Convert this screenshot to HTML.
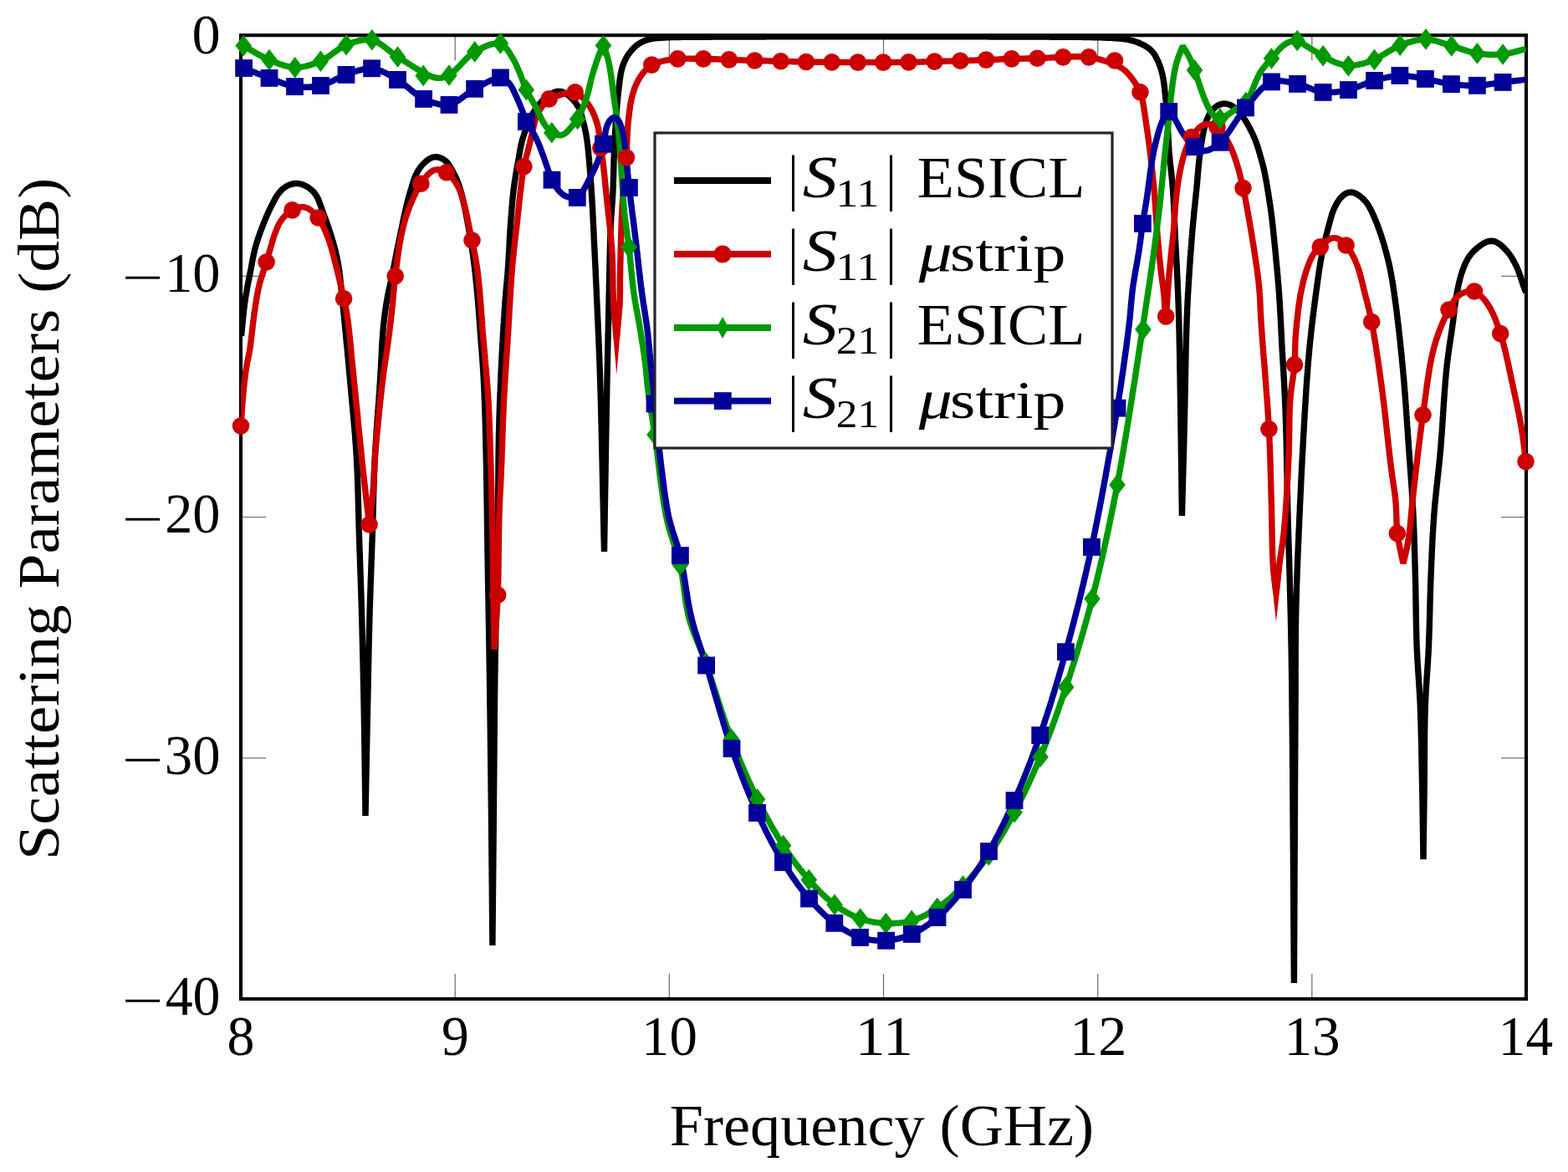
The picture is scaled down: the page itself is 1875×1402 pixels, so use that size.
<!DOCTYPE html><html><head><meta charset="utf-8"><title>Scattering Parameters</title><style>html,body{margin:0;padding:0;background:#fff;overflow:hidden;}svg{display:block;}text{font-family:"Liberation Serif","DejaVu Serif",serif;fill:#000;}</style></head><body>
<svg width="1875" height="1402" viewBox="0 0 1875 1402">
<rect width="1875" height="1402" fill="#fff"/>
<path d="M288.0,1195.0 V1165.0 M288.0,42.2 V72.2 M544.2,1195.0 V1165.0 M544.2,42.2 V72.2 M800.3,1195.0 V1165.0 M800.3,42.2 V72.2 M1056.5,1195.0 V1165.0 M1056.5,42.2 V72.2 M1312.7,1195.0 V1165.0 M1312.7,42.2 V72.2 M1568.8,1195.0 V1165.0 M1568.8,42.2 V72.2 M1825.0,1195.0 V1165.0 M1825.0,42.2 V72.2 M288.0,42.2 H318.0 M1825.0,42.2 H1795.0 M288.0,330.4 H318.0 M1825.0,330.4 H1795.0 M288.0,618.6 H318.0 M1825.0,618.6 H1795.0 M288.0,906.8 H318.0 M1825.0,906.8 H1795.0 M288.0,1195.0 H318.0 M1825.0,1195.0 H1795.0" stroke="#000" stroke-width="1.3" stroke-opacity="0.55" fill="none"/>
<rect x="288.0" y="42.2" width="1537.0" height="1152.8" fill="none" stroke="#000" stroke-width="4.1"/>
<defs><clipPath id="pc"><rect x="288.0" y="42.2" width="1537.0" height="1152.8"/></clipPath></defs>
<g clip-path="url(#pc)" fill="none" stroke-width="7.4" stroke-linejoin="miter" stroke-miterlimit="2">
<path d="M288.6,402.0 L288.8,400.0 288.9,398.0 289.1,396.0 289.3,394.0 289.5,392.0 289.7,390.1 289.9,388.1 290.1,386.1 290.3,384.1 290.5,382.1 290.7,380.1 290.9,378.1 291.1,376.1 291.3,374.1 291.5,372.1 291.7,370.2 292.0,368.2 292.2,366.2 292.4,364.2 292.7,362.2 293.0,360.2 293.3,358.3 293.5,356.3 293.9,354.3 294.2,352.3 294.5,350.4 294.9,348.4 295.2,346.4 295.6,344.5 295.9,342.5 296.3,340.5 296.7,338.6 297.1,336.6 297.5,334.6 297.9,332.7 298.3,330.7 298.7,328.8 299.0,326.8 299.4,324.8 299.8,322.9 300.2,320.9 300.5,318.9 300.9,317.0 301.3,315.0 301.6,313.0 302.0,311.1 302.4,309.1 302.8,307.2 303.2,305.2 303.6,303.2 304.1,301.3 304.5,299.4 305.0,297.4 305.5,295.5 306.1,293.6 306.6,291.6 307.2,289.7 307.8,287.8 308.4,285.9 309.0,284.0 309.7,282.1 310.4,280.2 311.0,278.3 311.7,276.5 312.4,274.6 313.1,272.7 313.8,270.9 314.6,269.0 315.3,267.1 316.0,265.3 316.8,263.4 317.6,261.6 318.3,259.7 319.1,257.9 319.9,256.1 320.8,254.2 321.6,252.4 322.4,250.6 323.3,248.8 324.2,247.0 325.1,245.2 326.0,243.5 326.9,241.7 327.9,239.9 328.8,238.2 329.8,236.4 330.8,234.7 331.9,233.0 333.1,231.4 334.3,229.9 335.7,228.4 337.1,227.0 338.6,225.6 340.2,224.4 341.8,223.3 343.6,222.3 345.4,221.4 347.2,220.7 349.1,220.1 351.1,219.7 353.1,219.5 355.1,219.4 357.1,219.6 359.0,220.0 361.0,220.5 362.8,221.2 364.7,222.0 366.4,222.9 368.2,223.9 369.8,225.1 371.4,226.3 372.9,227.6 374.3,229.0 375.7,230.5 376.9,232.1 378.0,233.7 379.0,235.4 380.0,237.2 380.8,239.0 381.5,240.9 382.2,242.8 382.9,244.6 383.6,246.5 384.2,248.4 384.9,250.3 385.6,252.2 386.3,254.1 386.9,255.9 387.6,257.8 388.3,259.7 389.0,261.6 389.7,263.5 390.4,265.3 391.0,267.2 391.7,269.1 392.3,271.0 393.0,272.9 393.6,274.8 394.3,276.7 394.9,278.6 395.5,280.5 396.1,282.4 396.7,284.3 397.3,286.2 397.8,288.1 398.4,290.1 398.9,292.0 399.5,293.9 400.0,295.8 400.5,297.8 401.0,299.7 401.5,301.7 401.9,303.6 402.4,305.5 402.8,307.5 403.2,309.5 403.6,311.4 404.0,313.4 404.3,315.3 404.7,317.3 405.0,319.3 405.3,321.3 405.6,323.2 405.9,325.2 406.1,327.2 406.4,329.2 406.6,331.2 406.8,333.2 407.0,335.2 407.2,337.1 407.4,339.1 407.6,341.1 407.8,343.1 408.0,345.1 408.2,347.1 408.4,349.1 408.6,351.1 408.8,353.1 409.0,355.1 409.2,357.0 409.4,359.0 409.6,361.0 409.8,363.0 410.0,365.0 410.2,367.0 410.4,369.0 410.6,371.0 410.8,373.0 411.0,375.0 411.2,376.9 411.4,378.9 411.6,380.9 411.8,382.9 412.0,384.9 412.2,386.9 412.4,388.9 412.6,390.9 412.8,392.9 413.0,394.9 413.2,396.8 413.4,398.8 413.6,400.8 413.8,402.8 413.9,404.8 414.1,406.8 414.3,408.8 414.5,410.8 414.7,412.8 414.9,414.8 415.1,416.7 415.3,418.7 415.5,420.7 415.6,422.7 415.8,424.7 416.0,426.7 416.2,428.7 416.4,430.7 416.6,432.7 416.7,434.7 416.9,436.7 417.1,438.6 417.3,440.6 417.5,442.6 417.7,444.6 417.8,446.6 418.0,448.6 418.2,450.6 418.4,452.6 418.6,454.6 418.7,456.6 418.9,458.6 419.1,460.6 419.3,462.5 419.5,464.5 419.6,466.5 419.8,468.5 420.0,470.5 420.2,472.5 420.4,474.5 420.6,476.5 420.8,478.5 420.9,480.5 421.1,482.5 421.3,484.4 421.5,486.4 421.7,488.4 421.9,490.4 422.0,492.4 422.2,494.4 422.4,496.4 422.6,498.4 422.8,500.4 422.9,502.4 423.1,504.4 423.3,506.4 423.5,508.3 423.6,510.3 423.8,512.3 424.0,514.3 424.1,516.3 424.3,518.3 424.5,520.3 424.6,522.3 424.8,524.3 424.9,526.3 425.1,528.3 425.2,530.3 425.4,532.3 425.5,534.3 425.6,536.3 425.8,538.3 425.9,540.2 426.0,542.2 426.2,544.2 426.3,546.2 426.4,548.2 426.5,550.2 426.6,552.2 426.7,554.2 426.8,556.2 426.9,558.2 427.0,560.2 427.1,562.2 427.2,564.2 427.3,566.2 427.4,568.2 427.5,570.2 427.5,572.2 427.6,574.2 427.7,576.2 427.7,578.2 427.8,580.2 427.9,582.2 427.9,584.2 428.0,586.2 428.1,588.2 428.1,590.2 428.2,592.2 428.2,594.2 428.3,596.2 428.3,598.2 428.4,600.2 428.4,602.2 428.5,604.2 428.5,606.2 428.6,608.2 428.6,610.2 428.7,612.2 428.7,614.2 428.8,616.2 428.8,618.2 428.9,620.2 428.9,622.2 429.0,624.2 429.0,626.2 429.1,628.2 429.1,630.2 429.2,632.2 429.3,634.2 429.3,636.2 429.4,638.2 429.4,640.2 429.5,642.2 429.6,644.2 429.6,646.2 429.7,648.2 429.8,650.2 429.8,652.1 429.9,654.1 430.0,656.1 430.0,658.1 430.1,660.1 430.2,662.1 430.3,664.1 430.3,666.1 430.4,668.1 430.5,670.1 430.5,672.1 430.6,674.1 430.7,676.1 430.7,678.1 430.8,680.1 430.9,682.1 430.9,684.1 431.0,686.1 431.1,688.1 431.2,690.1 431.2,692.1 431.3,694.1 431.4,696.1 431.4,698.1 431.5,700.1 431.6,702.1 431.6,704.1 431.7,706.1 431.8,708.1 431.8,710.1 431.9,712.1 431.9,714.1 432.0,716.1 432.1,718.1 432.1,720.1 432.2,722.1 432.3,724.1 432.3,726.1 432.4,728.1 432.4,730.1 432.5,732.1 432.5,734.1 432.6,736.1 432.7,738.1 432.7,740.1 432.8,742.1 432.8,744.1 432.9,746.1 432.9,748.1 433.0,750.1 433.0,752.1 433.1,754.1 433.1,756.1 433.2,758.1 433.2,760.1 433.3,762.1 433.3,764.1 433.4,766.1 433.4,768.1 433.5,770.1 433.5,772.1 433.6,774.1 433.6,776.1 433.7,778.1 433.7,780.1 433.8,782.1 433.8,784.1 433.9,786.1 433.9,788.1 434.0,790.1 434.0,792.1 434.1,794.1 434.1,796.1 434.1,798.1 434.2,800.1 434.2,802.1 434.3,804.1 434.3,806.1 434.4,808.1 434.4,810.1 434.4,812.1 434.5,814.1 434.5,816.0 434.6,818.0 434.6,820.0 434.7,822.0 434.7,824.0 434.7,826.0 434.8,828.0 434.8,830.0 434.9,832.0 434.9,834.0 434.9,836.0 435.0,838.0 435.0,840.0 435.0,842.0 435.1,844.0 435.1,846.0 435.2,848.0 435.2,850.0 435.2,852.0 435.3,854.0 435.3,856.0 435.3,858.0 435.4,860.0 435.4,862.0 435.4,864.0 435.5,866.0 435.5,868.0 435.5,870.0 435.6,872.0 435.6,874.0 435.6,876.0 435.7,878.0 435.7,880.0 435.7,882.0 435.8,884.0 435.8,886.0 435.8,888.0 435.8,890.0 435.9,892.0 435.9,894.0 435.9,896.0 436.0,898.0 436.0,900.0 436.0,902.0 436.0,904.0 436.1,906.0 436.1,908.0 436.1,910.0 436.2,912.0 436.2,914.0 436.2,916.0 436.2,918.0 436.3,920.0 436.3,922.0 436.3,924.0 436.3,926.0 436.4,928.0 436.4,930.0 436.4,932.0 436.4,934.0 436.5,936.0 436.5,938.0 436.5,940.0 436.5,942.0 436.6,944.0 436.6,946.0 436.6,948.0 436.6,950.0 436.7,952.0 436.7,954.0 436.7,956.0 436.8,958.0 436.8,960.0 436.8,962.0 436.8,964.0 436.9,966.0 436.9,968.0 436.9,970.0 436.9,972.0 437.0,974.0 437.0,976.0 L437.0,974.0 437.1,972.0 437.1,970.0 437.2,968.0 437.2,966.0 437.2,964.0 437.3,962.0 437.3,960.0 437.4,958.0 437.4,956.0 437.4,954.0 437.5,952.0 437.5,950.0 437.6,948.0 437.6,946.0 437.6,944.0 437.7,942.0 437.7,940.0 437.7,938.0 437.8,936.0 437.8,934.0 437.9,932.0 437.9,930.0 437.9,928.0 438.0,926.0 438.0,924.0 438.1,922.0 438.1,920.0 438.1,918.0 438.2,916.0 438.2,914.0 438.3,912.0 438.3,910.0 438.3,908.0 438.4,906.0 438.4,904.0 438.4,902.0 438.5,900.0 438.5,898.0 438.6,896.0 438.6,894.0 438.6,892.0 438.7,890.1 438.7,888.1 438.8,886.1 438.8,884.1 438.8,882.1 438.9,880.1 438.9,878.1 439.0,876.1 439.0,874.1 439.0,872.1 439.1,870.1 439.1,868.1 439.2,866.1 439.2,864.1 439.3,862.1 439.3,860.1 439.3,858.1 439.4,856.1 439.4,854.1 439.5,852.1 439.5,850.1 439.5,848.1 439.6,846.1 439.6,844.1 439.7,842.1 439.7,840.1 439.7,838.1 439.8,836.1 439.8,834.1 439.9,832.1 439.9,830.1 439.9,828.1 440.0,826.1 440.0,824.1 440.1,822.1 440.1,820.1 440.1,818.1 440.2,816.1 440.2,814.1 440.3,812.1 440.3,810.1 440.3,808.1 440.4,806.1 440.4,804.1 440.5,802.1 440.5,800.1 440.5,798.1 440.6,796.1 440.6,794.1 440.7,792.1 440.7,790.1 440.8,788.1 440.8,786.1 440.8,784.1 440.9,782.1 440.9,780.1 441.0,778.1 441.0,776.1 441.1,774.1 441.1,772.1 441.1,770.1 441.2,768.1 441.2,766.1 441.3,764.1 441.3,762.1 441.4,760.1 441.4,758.1 441.5,756.1 441.5,754.1 441.6,752.1 441.6,750.1 441.7,748.1 441.7,746.1 441.8,744.1 441.8,742.1 441.9,740.1 441.9,738.1 442.0,736.1 442.1,734.1 442.1,732.1 442.2,730.2 442.2,728.2 442.3,726.2 442.4,724.2 442.4,722.2 442.5,720.2 442.5,718.2 442.6,716.2 442.7,714.2 442.7,712.2 442.8,710.2 442.9,708.2 442.9,706.2 443.0,704.2 443.1,702.2 443.1,700.2 443.2,698.2 443.3,696.2 443.3,694.2 443.4,692.2 443.5,690.2 443.6,688.2 443.6,686.2 443.7,684.2 443.8,682.2 443.8,680.2 443.9,678.2 444.0,676.2 444.1,674.2 444.1,672.2 444.2,670.2 444.3,668.2 444.4,666.2 444.4,664.2 444.5,662.2 444.6,660.2 444.6,658.2 444.7,656.2 444.8,654.2 444.8,652.2 444.9,650.2 445.0,648.2 445.1,646.2 445.1,644.2 445.2,642.2 445.3,640.2 445.3,638.2 445.4,636.2 445.4,634.2 445.5,632.2 445.6,630.2 445.6,628.2 445.7,626.3 445.7,624.3 445.8,622.3 445.9,620.3 445.9,618.3 446.0,616.3 446.0,614.3 446.1,612.3 446.1,610.3 446.2,608.3 446.2,606.3 446.3,604.3 446.4,602.3 446.4,600.3 446.5,598.3 446.5,596.3 446.6,594.3 446.6,592.3 446.7,590.3 446.8,588.3 446.8,586.3 446.9,584.3 446.9,582.3 447.0,580.3 447.1,578.3 447.1,576.3 447.2,574.3 447.3,572.3 447.4,570.3 447.4,568.3 447.5,566.3 447.6,564.3 447.7,562.3 447.7,560.3 447.8,558.3 447.9,556.3 448.0,554.3 448.1,552.3 448.2,550.3 448.3,548.3 448.4,546.3 448.5,544.3 448.6,542.3 448.7,540.3 448.8,538.3 448.9,536.3 449.1,534.4 449.2,532.4 449.3,530.4 449.4,528.4 449.6,526.4 449.7,524.4 449.8,522.4 449.9,520.4 450.1,518.4 450.2,516.4 450.3,514.4 450.5,512.4 450.6,510.4 450.8,508.4 450.9,506.4 451.0,504.4 451.2,502.4 451.3,500.4 451.5,498.4 451.6,496.5 451.8,494.5 451.9,492.5 452.0,490.5 452.2,488.5 452.3,486.5 452.5,484.5 452.6,482.5 452.8,480.5 452.9,478.5 453.1,476.5 453.2,474.5 453.3,472.5 453.5,470.5 453.6,468.5 453.8,466.5 453.9,464.5 454.0,462.6 454.2,460.6 454.3,458.6 454.4,456.6 454.6,454.6 454.7,452.6 454.8,450.6 454.9,448.6 455.0,446.6 455.1,444.6 455.3,442.6 455.4,440.6 455.5,438.6 455.6,436.6 455.7,434.6 455.8,432.6 455.9,430.6 456.0,428.6 456.1,426.6 456.2,424.6 456.3,422.6 456.4,420.6 456.5,418.6 456.6,416.6 456.7,414.6 456.8,412.7 456.9,410.7 457.1,408.7 457.2,406.7 457.3,404.7 457.5,402.7 457.6,400.7 457.8,398.7 457.9,396.7 458.1,394.7 458.3,392.7 458.4,390.7 458.6,388.7 458.8,386.7 459.1,384.8 459.3,382.8 459.5,380.8 459.8,378.8 460.0,376.8 460.3,374.8 460.5,372.9 460.8,370.9 461.1,368.9 461.4,366.9 461.7,364.9 462.0,363.0 462.4,361.0 462.7,359.0 463.1,357.1 463.4,355.1 463.8,353.1 464.2,351.2 464.6,349.2 465.0,347.3 465.4,345.3 465.9,343.4 466.3,341.4 466.7,339.4 467.2,337.5 467.6,335.5 468.0,333.6 468.4,331.6 468.8,329.7 469.2,327.7 469.6,325.8 470.0,323.8 470.4,321.8 470.8,319.9 471.2,317.9 471.6,315.9 471.9,314.0 472.3,312.0 472.7,310.1 473.1,308.1 473.5,306.1 473.9,304.2 474.2,302.2 474.6,300.3 475.0,298.3 475.4,296.3 475.8,294.4 476.2,292.4 476.6,290.5 477.0,288.5 477.4,286.5 477.8,284.6 478.2,282.6 478.6,280.7 479.0,278.7 479.4,276.7 479.9,274.8 480.3,272.8 480.7,270.9 481.1,268.9 481.5,267.0 481.9,265.0 482.3,263.1 482.7,261.1 483.1,259.1 483.6,257.2 484.0,255.2 484.4,253.3 484.9,251.3 485.3,249.4 485.8,247.4 486.2,245.5 486.7,243.5 487.2,241.6 487.7,239.7 488.2,237.7 488.7,235.8 489.3,233.9 489.8,232.0 490.4,230.1 491.0,228.1 491.5,226.2 492.1,224.3 492.7,222.4 493.2,220.5 493.9,218.6 494.5,216.7 495.1,214.8 495.8,212.9 496.5,211.0 497.3,209.2 498.2,207.4 499.1,205.6 500.1,203.9 501.2,202.2 502.3,200.6 503.5,199.0 504.8,197.4 506.2,196.0 507.6,194.6 509.1,193.2 510.6,191.9 512.2,190.8 513.9,189.7 515.7,188.9 517.6,188.2 519.6,187.9 521.6,187.8 523.6,188.0 525.5,188.5 527.4,189.2 529.2,190.1 530.9,191.1 532.5,192.3 534.0,193.7 535.3,195.1 536.5,196.7 537.6,198.4 538.7,200.1 539.7,201.8 540.6,203.6 541.6,205.4 542.5,207.1 543.4,208.9 544.3,210.7 545.1,212.5 546.0,214.3 546.7,216.2 547.5,218.0 548.2,219.9 548.9,221.8 549.5,223.7 550.1,225.6 550.7,227.5 551.2,229.4 551.8,231.3 552.3,233.3 552.8,235.2 553.2,237.2 553.7,239.1 554.1,241.1 554.5,243.0 555.0,245.0 555.4,246.9 555.8,248.9 556.2,250.8 556.6,252.8 557.0,254.8 557.3,256.7 557.7,258.7 558.1,260.6 558.5,262.6 558.9,264.6 559.2,266.5 559.6,268.5 560.0,270.5 560.3,272.4 560.7,274.4 561.0,276.4 561.4,278.3 561.7,280.3 562.0,282.3 562.4,284.3 562.7,286.2 563.0,288.2 563.3,290.2 563.6,292.1 564.0,294.1 564.3,296.1 564.5,298.1 564.8,300.1 565.1,302.0 565.4,304.0 565.7,306.0 565.9,308.0 566.2,310.0 566.5,311.9 566.7,313.9 567.0,315.9 567.2,317.9 567.5,319.9 567.7,321.9 567.9,323.8 568.2,325.8 568.4,327.8 568.6,329.8 568.8,331.8 569.0,333.8 569.2,335.8 569.4,337.8 569.6,339.7 569.8,341.7 570.0,343.7 570.2,345.7 570.4,347.7 570.6,349.7 570.8,351.7 570.9,353.7 571.1,355.7 571.3,357.7 571.5,359.7 571.6,361.6 571.8,363.6 572.0,365.6 572.1,367.6 572.3,369.6 572.4,371.6 572.6,373.6 572.7,375.6 572.9,377.6 573.0,379.6 573.2,381.6 573.3,383.6 573.5,385.6 573.6,387.6 573.7,389.6 573.9,391.6 574.0,393.5 574.2,395.5 574.3,397.5 574.5,399.5 574.6,401.5 574.8,403.5 574.9,405.5 575.1,407.5 575.2,409.5 575.4,411.5 575.5,413.5 575.7,415.5 575.9,417.5 576.0,419.5 576.2,421.5 576.3,423.4 576.5,425.4 576.6,427.4 576.8,429.4 576.9,431.4 577.1,433.4 577.2,435.4 577.3,437.4 577.5,439.4 577.6,441.4 577.7,443.4 577.8,445.4 577.9,447.4 578.1,449.4 578.2,451.4 578.3,453.4 578.4,455.4 578.5,457.4 578.6,459.4 578.7,461.4 578.8,463.4 578.9,465.3 579.0,467.3 579.1,469.3 579.2,471.3 579.2,473.3 579.3,475.3 579.4,477.3 579.5,479.3 579.5,481.3 579.6,483.3 579.7,485.3 579.8,487.3 579.8,489.3 579.9,491.3 579.9,493.3 580.0,495.3 580.1,497.3 580.1,499.3 580.2,501.3 580.2,503.3 580.3,505.3 580.3,507.3 580.4,509.3 580.4,511.3 580.5,513.3 580.5,515.3 580.6,517.3 580.6,519.3 580.7,521.3 580.7,523.3 580.8,525.3 580.8,527.3 580.9,529.3 580.9,531.3 580.9,533.3 581.0,535.3 581.0,537.3 581.1,539.3 581.1,541.3 581.2,543.3 581.2,545.3 581.2,547.3 581.3,549.3 581.3,551.3 581.4,553.3 581.4,555.3 581.4,557.3 581.5,559.3 581.5,561.3 581.6,563.3 581.6,565.3 581.6,567.3 581.7,569.3 581.7,571.3 581.7,573.3 581.8,575.3 581.8,577.3 581.8,579.3 581.9,581.3 581.9,583.3 581.9,585.3 582.0,587.3 582.0,589.3 582.0,591.3 582.1,593.3 582.1,595.3 582.1,597.3 582.1,599.3 582.2,601.3 582.2,603.3 582.2,605.3 582.3,607.2 582.3,609.2 582.3,611.2 582.3,613.2 582.4,615.2 582.4,617.2 582.4,619.2 582.4,621.2 582.5,623.2 582.5,625.2 582.5,627.2 582.6,629.2 582.6,631.2 582.6,633.2 582.6,635.2 582.7,637.2 582.7,639.2 582.7,641.2 582.8,643.2 582.8,645.2 582.8,647.2 582.9,649.2 582.9,651.2 582.9,653.2 582.9,655.2 583.0,657.2 583.0,659.2 583.0,661.2 583.1,663.2 583.1,665.2 583.1,667.2 583.2,669.2 583.2,671.2 583.2,673.2 583.3,675.2 583.3,677.2 583.3,679.2 583.4,681.2 583.4,683.2 583.4,685.2 583.5,687.2 583.5,689.2 583.5,691.2 583.6,693.2 583.6,695.2 583.6,697.2 583.7,699.2 583.7,701.2 583.7,703.2 583.8,705.2 583.8,707.2 583.8,709.2 583.9,711.2 583.9,713.2 583.9,715.2 584.0,717.2 584.0,719.2 584.0,721.2 584.1,723.2 584.1,725.2 584.1,727.2 584.2,729.2 584.2,731.2 584.2,733.2 584.3,735.2 584.3,737.2 584.3,739.2 584.4,741.2 584.4,743.2 584.4,745.2 584.5,747.2 584.5,749.2 584.5,751.2 584.6,753.2 584.6,755.2 584.6,757.2 584.7,759.2 584.7,761.2 584.7,763.2 584.8,765.2 584.8,767.2 584.8,769.2 584.9,771.2 584.9,773.2 584.9,775.2 585.0,777.2 585.0,779.2 585.0,781.2 585.1,783.2 585.1,785.2 585.1,787.2 585.1,789.2 585.2,791.2 585.2,793.2 585.2,795.2 585.3,797.2 585.3,799.1 585.3,801.1 585.3,803.1 585.4,805.1 585.4,807.1 585.4,809.1 585.5,811.1 585.5,813.1 585.5,815.1 585.5,817.1 585.6,819.1 585.6,821.1 585.6,823.1 585.7,825.1 585.7,827.1 585.7,829.1 585.7,831.1 585.8,833.1 585.8,835.1 585.8,837.1 585.8,839.1 585.9,841.1 585.9,843.1 585.9,845.1 585.9,847.1 586.0,849.1 586.0,851.1 586.0,853.1 586.1,855.1 586.1,857.1 586.1,859.1 586.1,861.1 586.2,863.1 586.2,865.1 586.2,867.1 586.2,869.1 586.3,871.1 586.3,873.1 586.3,875.1 586.3,877.1 586.4,879.1 586.4,881.1 586.4,883.1 586.4,885.1 586.5,887.1 586.5,889.1 586.5,891.1 586.5,893.1 586.6,895.1 586.6,897.1 586.6,899.1 586.6,901.1 586.6,903.1 586.7,905.1 586.7,907.1 586.7,909.1 586.7,911.1 586.8,913.1 586.8,915.1 586.8,917.1 586.8,919.1 586.9,921.1 586.9,923.1 586.9,925.1 586.9,927.1 587.0,929.1 587.0,931.1 587.0,933.1 587.0,935.1 587.0,937.1 587.1,939.1 587.1,941.1 587.1,943.1 587.1,945.1 587.2,947.1 587.2,949.1 587.2,951.1 587.2,953.1 587.2,955.1 587.3,957.1 587.3,959.1 587.3,961.1 587.3,963.1 587.4,965.1 587.4,967.1 587.4,969.1 587.4,971.1 587.4,973.1 587.5,975.1 587.5,977.1 587.5,979.1 587.5,981.1 587.5,983.1 587.6,985.1 587.6,987.1 587.6,989.1 587.6,991.1 587.6,993.1 587.7,995.1 587.7,997.1 587.7,999.1 587.7,1001.1 587.7,1003.1 587.8,1005.1 587.8,1007.1 587.8,1009.1 587.8,1011.1 587.8,1013.1 587.9,1015.1 587.9,1017.0 587.9,1019.0 587.9,1021.0 587.9,1023.0 587.9,1025.0 588.0,1027.0 588.0,1029.0 588.0,1031.0 588.0,1033.0 588.0,1035.0 588.1,1037.0 588.1,1039.0 588.1,1041.0 588.1,1043.0 588.1,1045.0 588.1,1047.0 588.2,1049.0 588.2,1051.0 588.2,1053.0 588.2,1055.0 588.2,1057.0 588.3,1059.0 588.3,1061.0 588.3,1063.0 588.3,1065.0 588.3,1067.0 588.3,1069.0 588.4,1071.0 588.4,1073.0 588.4,1075.0 588.4,1077.0 588.4,1079.0 588.4,1081.0 588.5,1083.0 588.5,1085.0 588.5,1087.0 588.5,1089.0 588.5,1091.0 588.6,1093.0 588.6,1095.0 588.6,1097.0 588.6,1099.0 588.6,1101.0 588.6,1103.0 588.7,1105.0 588.7,1107.0 588.7,1109.0 588.7,1111.0 588.7,1113.0 588.8,1115.0 588.8,1117.0 588.8,1119.0 588.8,1121.0 588.8,1123.0 588.8,1125.0 588.9,1127.0 588.9,1129.0 588.9,1131.0 L588.9,1129.0 588.9,1127.0 589.0,1125.0 589.0,1123.0 589.0,1121.0 589.0,1119.0 589.0,1117.0 589.0,1115.0 589.1,1113.0 589.1,1111.0 589.1,1109.0 589.1,1107.0 589.1,1105.0 589.2,1103.0 589.2,1101.0 589.2,1099.0 589.2,1097.0 589.2,1095.0 589.3,1093.0 589.3,1091.0 589.3,1089.0 589.3,1087.0 589.3,1085.0 589.3,1083.0 589.4,1081.0 589.4,1079.0 589.4,1077.0 589.4,1075.0 589.4,1073.1 589.5,1071.1 589.5,1069.1 589.5,1067.1 589.5,1065.1 589.5,1063.1 589.6,1061.1 589.6,1059.1 589.6,1057.1 589.6,1055.1 589.6,1053.1 589.6,1051.1 589.7,1049.1 589.7,1047.1 589.7,1045.1 589.7,1043.1 589.7,1041.1 589.8,1039.1 589.8,1037.1 589.8,1035.1 589.8,1033.1 589.8,1031.1 589.9,1029.1 589.9,1027.1 589.9,1025.1 589.9,1023.1 589.9,1021.1 589.9,1019.1 590.0,1017.1 590.0,1015.1 590.0,1013.1 590.0,1011.1 590.0,1009.1 590.1,1007.1 590.1,1005.1 590.1,1003.1 590.1,1001.1 590.1,999.1 590.2,997.1 590.2,995.1 590.2,993.1 590.2,991.1 590.2,989.1 590.2,987.1 590.3,985.1 590.3,983.1 590.3,981.1 590.3,979.1 590.3,977.1 590.4,975.1 590.4,973.1 590.4,971.1 590.4,969.1 590.4,967.1 590.5,965.1 590.5,963.1 590.5,961.1 590.5,959.2 590.5,957.2 590.5,955.2 590.6,953.2 590.6,951.2 590.6,949.2 590.6,947.2 590.6,945.2 590.6,943.2 590.7,941.2 590.7,939.2 590.7,937.2 590.7,935.2 590.7,933.2 590.7,931.2 590.8,929.2 590.8,927.2 590.8,925.2 590.8,923.2 590.8,921.2 590.8,919.2 590.9,917.2 590.9,915.2 590.9,913.2 590.9,911.2 590.9,909.2 590.9,907.2 590.9,905.2 591.0,903.2 591.0,901.2 591.0,899.2 591.0,897.2 591.0,895.2 591.0,893.2 591.1,891.2 591.1,889.2 591.1,887.2 591.1,885.2 591.1,883.2 591.1,881.2 591.2,879.2 591.2,877.2 591.2,875.2 591.2,873.2 591.2,871.2 591.2,869.2 591.3,867.2 591.3,865.2 591.3,863.2 591.3,861.2 591.3,859.2 591.3,857.2 591.4,855.2 591.4,853.2 591.4,851.2 591.4,849.2 591.4,847.2 591.5,845.3 591.5,843.3 591.5,841.3 591.5,839.3 591.5,837.3 591.6,835.3 591.6,833.3 591.6,831.3 591.6,829.3 591.6,827.3 591.7,825.3 591.7,823.3 591.7,821.3 591.7,819.3 591.8,817.3 591.8,815.3 591.8,813.3 591.8,811.3 591.9,809.3 591.9,807.3 591.9,805.3 592.0,803.3 592.0,801.3 592.0,799.3 592.0,797.3 592.1,795.3 592.1,793.3 592.1,791.3 592.2,789.3 592.2,787.3 592.2,785.3 592.3,783.3 592.3,781.3 592.3,779.3 592.4,777.3 592.4,775.3 592.5,773.3 592.5,771.3 592.5,769.3 592.6,767.3 592.6,765.3 592.7,763.3 592.7,761.3 592.7,759.3 592.8,757.3 592.8,755.3 592.9,753.3 592.9,751.3 592.9,749.3 593.0,747.3 593.0,745.3 593.1,743.4 593.1,741.4 593.2,739.4 593.2,737.4 593.2,735.4 593.3,733.4 593.3,731.4 593.4,729.4 593.4,727.4 593.5,725.4 593.5,723.4 593.6,721.4 593.6,719.4 593.7,717.4 593.7,715.4 593.7,713.4 593.8,711.4 593.8,709.4 593.9,707.4 593.9,705.4 594.0,703.4 594.0,701.4 594.1,699.4 594.1,697.4 594.1,695.4 594.2,693.4 594.2,691.4 594.3,689.4 594.3,687.4 594.4,685.4 594.4,683.4 594.4,681.4 594.5,679.4 594.5,677.4 594.6,675.4 594.6,673.4 594.6,671.4 594.7,669.4 594.7,667.4 594.8,665.4 594.8,663.4 594.8,661.4 594.9,659.4 594.9,657.4 594.9,655.4 595.0,653.4 595.0,651.4 595.0,649.4 595.1,647.5 595.1,645.5 595.1,643.5 595.2,641.5 595.2,639.5 595.2,637.5 595.2,635.5 595.3,633.5 595.3,631.5 595.3,629.5 595.3,627.5 595.4,625.5 595.4,623.5 595.4,621.5 595.4,619.5 595.5,617.5 595.5,615.5 595.5,613.5 595.5,611.5 595.5,609.5 595.5,607.5 595.6,605.5 595.6,603.5 595.6,601.5 595.6,599.5 595.6,597.5 595.6,595.5 595.7,593.5 595.7,591.5 595.7,589.5 595.7,587.5 595.7,585.5 595.7,583.5 595.8,581.5 595.8,579.5 595.8,577.5 595.8,575.5 595.8,573.5 595.8,571.5 595.9,569.5 595.9,567.5 595.9,565.5 595.9,563.5 595.9,561.5 595.9,559.5 596.0,557.5 596.0,555.5 596.0,553.5 596.0,551.5 596.0,549.5 596.1,547.5 596.1,545.5 596.1,543.5 596.1,541.5 596.2,539.5 596.2,537.5 596.2,535.6 596.3,533.6 596.3,531.6 596.3,529.6 596.4,527.6 596.4,525.6 596.4,523.6 596.5,521.6 596.5,519.6 596.6,517.6 596.6,515.6 596.7,513.6 596.7,511.6 596.8,509.6 596.8,507.6 596.9,505.6 596.9,503.6 597.0,501.6 597.0,499.6 597.1,497.6 597.2,495.6 597.2,493.6 597.3,491.6 597.4,489.6 597.4,487.6 597.5,485.6 597.6,483.6 597.6,481.6 597.7,479.6 597.8,477.6 597.9,475.6 597.9,473.6 598.0,471.6 598.1,469.6 598.2,467.6 598.3,465.6 598.4,463.6 598.4,461.6 598.5,459.7 598.6,457.7 598.7,455.7 598.8,453.7 598.9,451.7 598.9,449.7 599.0,447.7 599.1,445.7 599.2,443.7 599.3,441.7 599.4,439.7 599.5,437.7 599.6,435.7 599.7,433.7 599.8,431.7 599.9,429.7 600.0,427.7 600.1,425.7 600.2,423.7 600.3,421.7 600.4,419.7 600.5,417.7 600.6,415.7 600.7,413.7 600.8,411.7 600.9,409.8 601.1,407.8 601.2,405.8 601.3,403.8 601.4,401.8 601.5,399.8 601.6,397.8 601.8,395.8 601.9,393.8 602.0,391.8 602.1,389.8 602.2,387.8 602.4,385.8 602.5,383.8 602.6,381.8 602.7,379.8 602.9,377.8 603.0,375.8 603.1,373.9 603.3,371.9 603.4,369.9 603.6,367.9 603.7,365.9 603.8,363.9 604.0,361.9 604.1,359.9 604.3,357.9 604.4,355.9 604.6,353.9 604.8,351.9 604.9,349.9 605.1,347.9 605.3,346.0 605.4,344.0 605.6,342.0 605.8,340.0 606.0,338.0 606.2,336.0 606.3,334.0 606.5,332.0 606.7,330.0 606.9,328.0 607.0,326.0 607.2,324.1 607.3,322.1 607.5,320.1 607.6,318.1 607.8,316.1 607.9,314.1 608.0,312.1 608.1,310.1 608.2,308.1 608.3,306.1 608.5,304.1 608.6,302.1 608.7,300.1 608.8,298.1 608.9,296.1 609.0,294.1 609.1,292.1 609.2,290.1 609.3,288.2 609.4,286.2 609.5,284.2 609.6,282.2 609.7,280.2 609.9,278.2 610.0,276.2 610.1,274.2 610.2,272.2 610.4,270.2 610.5,268.2 610.7,266.2 610.8,264.2 611.0,262.2 611.1,260.2 611.3,258.2 611.4,256.2 611.6,254.3 611.7,252.3 611.9,250.3 612.0,248.3 612.2,246.3 612.4,244.3 612.5,242.3 612.7,240.3 612.9,238.3 613.1,236.3 613.3,234.4 613.5,232.4 613.7,230.4 614.0,228.4 614.2,226.4 614.5,224.4 614.7,222.4 615.0,220.5 615.3,218.5 615.6,216.5 615.9,214.5 616.2,212.6 616.5,210.6 616.8,208.6 617.1,206.6 617.5,204.7 617.8,202.7 618.2,200.7 618.5,198.8 618.9,196.8 619.2,194.8 619.6,192.9 619.9,190.9 620.3,188.9 620.6,187.0 621.0,185.0 621.3,183.0 621.6,181.1 622.0,179.1 622.3,177.1 622.7,175.2 623.1,173.2 623.6,171.3 624.0,169.3 624.6,167.4 625.1,165.5 625.7,163.6 626.4,161.7 627.0,159.8 627.6,157.9 628.3,156.0 629.0,154.1 629.7,152.3 630.4,150.4 631.2,148.5 631.9,146.7 632.7,144.8 633.5,143.0 634.3,141.2 635.2,139.4 636.1,137.6 637.0,135.9 638.0,134.1 639.1,132.4 640.1,130.7 641.3,129.1 642.5,127.5 643.7,125.9 645.0,124.4 646.3,122.9 647.7,121.4 649.1,120.0 650.6,118.6 652.0,117.3 653.6,116.0 655.1,114.8 656.8,113.6 658.4,112.5 660.2,111.5 662.0,110.7 663.9,110.0 665.8,109.5 667.8,109.3 669.8,109.4 671.7,109.7 673.6,110.4 675.4,111.2 677.1,112.2 678.8,113.4 680.3,114.6 681.8,116.0 683.3,117.4 684.7,118.8 686.0,120.3 687.3,121.8 688.5,123.4 689.7,125.0 690.8,126.7 691.8,128.4 692.7,130.2 693.4,132.0 694.1,133.9 694.7,135.8 695.3,137.7 695.8,139.7 696.3,141.6 696.9,143.5 697.4,145.5 697.9,147.4 698.4,149.3 698.8,151.3 699.3,153.2 699.7,155.2 700.1,157.1 700.5,159.1 700.9,161.0 701.2,163.0 701.5,165.0 701.8,167.0 702.1,168.9 702.4,170.9 702.6,172.9 702.9,174.9 703.1,176.9 703.3,178.9 703.5,180.9 703.7,182.8 703.8,184.8 704.0,186.8 704.2,188.8 704.4,190.8 704.5,192.8 704.7,194.8 704.9,196.8 705.0,198.8 705.2,200.8 705.3,202.8 705.5,204.7 705.7,206.7 705.8,208.7 706.0,210.7 706.1,212.7 706.3,214.7 706.4,216.7 706.6,218.7 706.7,220.7 706.9,222.7 707.0,224.7 707.1,226.7 707.3,228.7 707.4,230.7 707.5,232.7 707.7,234.6 707.8,236.6 707.9,238.6 708.0,240.6 708.1,242.6 708.3,244.6 708.4,246.6 708.5,248.6 708.6,250.6 708.7,252.6 708.8,254.6 708.9,256.6 709.0,258.6 709.1,260.6 709.2,262.6 709.3,264.6 709.4,266.6 709.5,268.6 709.6,270.6 709.7,272.6 709.8,274.6 709.9,276.6 710.0,278.5 710.1,280.5 710.1,282.5 710.2,284.5 710.3,286.5 710.4,288.5 710.5,290.5 710.6,292.5 710.7,294.5 710.8,296.5 710.9,298.5 711.0,300.5 711.1,302.5 711.2,304.5 711.3,306.5 711.4,308.5 711.5,310.5 711.6,312.5 711.7,314.5 711.8,316.5 711.9,318.5 712.0,320.5 712.1,322.5 712.2,324.5 712.3,326.5 712.3,328.4 712.4,330.4 712.5,332.4 712.6,334.4 712.7,336.4 712.8,338.4 712.9,340.4 713.0,342.4 713.1,344.4 713.2,346.4 713.3,348.4 713.4,350.4 713.4,352.4 713.5,354.4 713.6,356.4 713.7,358.4 713.8,360.4 713.9,362.4 714.0,364.4 714.1,366.4 714.2,368.4 714.3,370.4 714.3,372.4 714.4,374.4 714.5,376.4 714.6,378.4 714.7,380.4 714.8,382.3 714.9,384.3 715.0,386.3 715.1,388.3 715.2,390.3 715.2,392.3 715.3,394.3 715.4,396.3 715.5,398.3 715.6,400.3 715.7,402.3 715.8,404.3 715.9,406.3 715.9,408.3 716.0,410.3 716.1,412.3 716.2,414.3 716.3,416.3 716.3,418.3 716.4,420.3 716.5,422.3 716.6,424.3 716.7,426.3 716.7,428.3 716.8,430.3 716.9,432.3 717.0,434.3 717.0,436.3 717.1,438.3 717.2,440.3 717.2,442.2 717.3,444.2 717.4,446.2 717.4,448.2 717.5,450.2 717.6,452.2 717.6,454.2 717.7,456.2 717.8,458.2 717.8,460.2 717.9,462.2 717.9,464.2 718.0,466.2 718.1,468.2 718.1,470.2 718.2,472.2 718.2,474.2 718.3,476.2 718.3,478.2 718.4,480.2 718.4,482.2 718.5,484.2 718.5,486.2 718.6,488.2 718.7,490.2 718.7,492.2 718.8,494.2 718.8,496.2 718.9,498.2 718.9,500.2 719.0,502.2 719.0,504.2 719.1,506.2 719.1,508.2 719.1,510.2 719.2,512.2 719.2,514.2 719.3,516.2 719.3,518.2 719.4,520.2 719.4,522.1 719.5,524.1 719.5,526.1 719.6,528.1 719.6,530.1 719.7,532.1 719.7,534.1 719.8,536.1 719.8,538.1 719.8,540.1 719.9,542.1 719.9,544.1 720.0,546.1 720.0,548.1 720.1,550.1 720.1,552.1 720.2,554.1 720.2,556.1 720.2,558.1 720.3,560.1 720.3,562.1 720.4,564.1 720.4,566.1 720.5,568.1 720.5,570.1 720.5,572.1 720.6,574.1 720.6,576.1 720.7,578.1 720.7,580.1 720.8,582.1 720.8,584.1 720.8,586.1 720.9,588.1 720.9,590.1 721.0,592.1 721.0,594.1 721.1,596.1 721.1,598.1 721.2,600.1 721.2,602.1 721.2,604.1 721.3,606.1 721.3,608.1 721.4,610.1 721.4,612.1 721.5,614.1 721.5,616.0 721.5,618.0 721.6,620.0 721.6,622.0 721.7,624.0 721.7,626.0 721.8,628.0 721.8,630.0 721.9,632.0 721.9,634.0 721.9,636.0 722.0,638.0 722.0,640.0 722.1,642.0 722.1,644.0 722.2,646.0 722.2,648.0 722.3,650.0 722.3,652.0 722.4,654.0 722.4,656.0 722.5,658.0 722.5,660.0 L722.5,658.0 722.6,656.0 722.6,654.0 722.6,652.0 722.7,650.0 722.7,648.0 722.7,646.0 722.8,644.0 722.8,642.0 722.8,640.0 722.9,638.0 722.9,636.0 722.9,634.0 723.0,632.0 723.0,630.0 723.0,628.0 723.1,626.0 723.1,624.0 723.1,622.0 723.2,620.0 723.2,618.0 723.2,616.0 723.2,614.0 723.3,612.0 723.3,610.0 723.3,608.0 723.4,606.0 723.4,604.0 723.4,602.0 723.5,600.0 723.5,598.0 723.5,596.0 723.6,594.0 723.6,592.0 723.6,590.0 723.7,588.0 723.7,586.0 723.7,584.0 723.8,582.0 723.8,580.0 723.8,578.0 723.9,576.0 723.9,574.0 723.9,572.0 724.0,570.0 724.0,568.0 724.0,566.0 724.1,564.0 724.1,562.0 724.1,560.0 724.1,558.0 724.2,556.0 724.2,554.0 724.2,552.0 724.3,550.0 724.3,548.0 724.3,546.0 724.4,544.0 724.4,542.0 724.4,540.0 724.5,538.0 724.5,536.0 724.5,534.0 724.6,532.0 724.6,530.0 724.6,528.1 724.7,526.1 724.7,524.1 724.7,522.1 724.8,520.1 724.8,518.1 724.8,516.1 724.9,514.1 724.9,512.1 725.0,510.1 725.0,508.1 725.0,506.1 725.1,504.1 725.1,502.1 725.1,500.1 725.2,498.1 725.2,496.1 725.2,494.1 725.3,492.1 725.3,490.1 725.3,488.1 725.4,486.1 725.4,484.1 725.5,482.1 725.5,480.1 725.5,478.1 725.6,476.1 725.6,474.1 725.7,472.1 725.7,470.1 725.7,468.1 725.8,466.1 725.8,464.1 725.8,462.1 725.9,460.1 725.9,458.1 726.0,456.1 726.0,454.1 726.0,452.1 726.1,450.1 726.1,448.1 726.2,446.1 726.2,444.1 726.3,442.1 726.3,440.1 726.3,438.1 726.4,436.1 726.4,434.1 726.5,432.1 726.5,430.1 726.5,428.1 726.6,426.1 726.6,424.1 726.7,422.1 726.7,420.1 726.8,418.1 726.8,416.1 726.8,414.1 726.9,412.1 726.9,410.1 727.0,408.1 727.0,406.1 727.1,404.1 727.1,402.1 727.1,400.1 727.2,398.1 727.2,396.1 727.3,394.1 727.3,392.1 727.4,390.1 727.4,388.1 727.5,386.1 727.5,384.1 727.5,382.1 727.6,380.1 727.6,378.1 727.7,376.1 727.7,374.1 727.8,372.1 727.8,370.1 727.9,368.1 727.9,366.1 728.0,364.1 728.0,362.1 728.1,360.1 728.1,358.1 728.1,356.1 728.2,354.1 728.2,352.1 728.3,350.1 728.3,348.1 728.4,346.1 728.4,344.1 728.4,342.1 728.5,340.1 728.5,338.1 728.6,336.1 728.6,334.1 728.6,332.1 728.7,330.1 728.7,328.1 728.8,326.1 728.8,324.1 728.8,322.1 728.9,320.1 728.9,318.1 729.0,316.1 729.0,314.1 729.1,312.1 729.1,310.2 729.1,308.2 729.2,306.2 729.2,304.2 729.3,302.2 729.3,300.2 729.4,298.2 729.4,296.2 729.5,294.2 729.5,292.2 729.6,290.2 729.6,288.2 729.7,286.2 729.8,284.2 729.8,282.2 729.9,280.2 730.0,278.2 730.1,276.2 730.1,274.2 730.2,272.2 730.3,270.2 730.4,268.2 730.5,266.2 730.6,264.2 730.7,262.2 730.8,260.2 731.0,258.2 731.1,256.2 731.3,254.2 731.4,252.2 731.5,250.2 731.7,248.2 731.8,246.2 732.0,244.2 732.1,242.2 732.3,240.3 732.4,238.3 732.5,236.3 732.6,234.3 732.8,232.3 732.9,230.3 733.0,228.3 733.0,226.3 733.1,224.3 733.2,222.3 733.3,220.3 733.3,218.3 733.4,216.3 733.5,214.3 733.5,212.3 733.6,210.3 733.6,208.3 733.7,206.3 733.7,204.3 733.8,202.3 733.8,200.3 733.9,198.3 733.9,196.3 734.0,194.3 734.0,192.3 734.1,190.3 734.2,188.3 734.3,186.3 734.3,184.3 734.4,182.3 734.5,180.3 734.6,178.3 734.7,176.3 734.8,174.3 734.9,172.3 735.0,170.3 735.1,168.3 735.2,166.3 735.3,164.3 735.4,162.3 735.5,160.3 735.6,158.3 735.7,156.4 735.9,154.4 736.0,152.4 736.1,150.4 736.2,148.4 736.4,146.4 736.5,144.4 736.6,142.4 736.8,140.4 736.9,138.4 737.0,136.4 737.2,134.4 737.3,132.4 737.5,130.4 737.7,128.4 737.8,126.4 738.0,124.4 738.2,122.4 738.4,120.5 738.6,118.5 738.8,116.5 739.0,114.5 739.2,112.5 739.4,110.5 739.6,108.5 739.9,106.5 740.1,104.6 740.3,102.6 740.6,100.6 740.8,98.6 741.0,96.6 741.3,94.6 741.6,92.7 741.9,90.7 742.2,88.7 742.6,86.7 743.0,84.8 743.5,82.8 744.0,80.9 744.6,79.0 745.3,77.1 746.0,75.3 746.8,73.4 747.7,71.6 748.6,69.8 749.5,68.1 750.6,66.4 751.7,64.7 752.9,63.1 754.1,61.5 755.4,60.0 756.7,58.5 758.1,57.1 759.6,55.7 761.1,54.4 762.7,53.2 764.3,52.1 766.1,51.1 767.8,50.1 769.6,49.3 771.5,48.5 773.4,47.9 775.3,47.3 777.2,46.9 779.2,46.4 781.2,46.1 783.2,45.9 785.1,45.6 787.1,45.5 789.1,45.3 791.1,45.2 793.1,45.1 795.1,45.0 797.1,44.9 799.1,44.8 801.1,44.7 803.1,44.6 805.1,44.6 807.1,44.6 809.1,44.5 811.1,44.5 813.1,44.5 815.1,44.4 817.1,44.4 819.1,44.4 821.1,44.4 823.1,44.3 825.1,44.3 827.1,44.3 829.1,44.3 831.1,44.3 833.1,44.2 835.1,44.2 837.1,44.2 839.1,44.2 841.1,44.2 843.1,44.2 845.1,44.2 847.1,44.2 849.1,44.2 851.1,44.1 853.1,44.1 855.1,44.1 857.1,44.1 859.1,44.1 861.1,44.1 863.1,44.1 865.1,44.1 867.1,44.1 869.1,44.1 871.1,44.1 873.1,44.1 875.1,44.1 877.1,44.1 879.1,44.1 881.1,44.1 883.1,44.0 885.1,44.0 887.1,44.0 889.1,44.0 891.1,44.0 893.1,44.0 895.1,44.0 897.1,44.0 899.1,44.0 901.1,44.0 903.1,44.0 905.1,44.0 907.1,44.0 909.1,44.0 911.1,44.0 913.1,44.0 915.1,44.0 917.1,43.9 919.1,43.9 921.1,43.9 923.1,43.9 925.1,43.9 927.1,43.9 929.1,43.9 931.1,43.9 933.1,43.9 935.1,43.9 937.1,43.9 939.1,43.9 941.1,43.9 943.1,43.9 945.1,43.9 947.1,43.9 949.1,43.9 951.1,43.9 953.1,43.9 955.1,43.9 957.1,43.9 959.1,43.9 961.1,43.9 963.1,43.8 965.1,43.8 967.1,43.8 969.1,43.8 971.1,43.8 973.1,43.8 975.1,43.8 977.1,43.8 979.1,43.8 981.1,43.8 983.1,43.8 985.1,43.8 987.1,43.8 989.1,43.8 991.1,43.8 993.1,43.8 995.1,43.8 997.1,43.8 999.1,43.8 1001.1,43.8 1003.1,43.8 1005.1,43.8 1007.1,43.8 1009.1,43.8 1011.1,43.8 1013.1,43.8 1015.1,43.8 1017.1,43.8 1019.1,43.8 1021.1,43.8 1023.1,43.8 1025.1,43.8 1027.0,43.8 1029.0,43.8 1031.0,43.8 1033.0,43.8 1035.0,43.8 1037.0,43.8 1039.0,43.8 1041.0,43.8 1043.0,43.8 1045.0,43.8 1047.0,43.8 1049.0,43.8 1051.0,43.8 1053.0,43.8 1055.0,43.8 1057.0,43.8 1059.0,43.8 1061.0,43.8 1063.0,43.8 1065.0,43.8 1067.0,43.8 1069.0,43.8 1071.0,43.8 1073.0,43.8 1075.0,43.8 1077.0,43.8 1079.0,43.8 1081.0,43.8 1083.0,43.8 1085.0,43.8 1087.0,43.8 1089.0,43.8 1091.0,43.8 1093.0,43.8 1095.0,43.8 1097.0,43.8 1099.0,43.8 1101.0,43.8 1103.0,43.8 1105.0,43.8 1107.0,43.8 1109.0,43.8 1111.0,43.8 1113.0,43.8 1115.0,43.8 1117.0,43.8 1119.0,43.8 1121.0,43.8 1123.0,43.8 1125.0,43.8 1127.0,43.8 1129.0,43.8 1131.0,43.8 1133.0,43.8 1135.0,43.8 1137.0,43.9 1139.0,43.9 1141.0,43.9 1143.0,43.9 1145.0,43.9 1147.0,43.9 1149.0,43.9 1151.0,43.9 1153.0,43.9 1155.0,43.9 1157.0,43.9 1159.0,43.9 1161.0,43.9 1163.0,43.9 1165.0,43.9 1167.0,43.9 1169.0,43.9 1171.0,43.9 1173.0,43.9 1175.0,43.9 1177.0,43.9 1179.0,43.9 1181.0,43.9 1183.0,44.0 1185.0,44.0 1187.0,44.0 1189.0,44.0 1191.0,44.0 1193.0,44.0 1195.0,44.0 1197.0,44.0 1199.0,44.0 1201.0,44.0 1203.0,44.0 1205.0,44.0 1207.0,44.0 1209.0,44.0 1211.0,44.0 1213.0,44.0 1215.0,44.0 1217.0,44.0 1219.0,44.0 1221.0,44.1 1223.0,44.1 1225.0,44.1 1227.0,44.1 1229.0,44.1 1231.0,44.1 1233.0,44.1 1235.0,44.1 1237.0,44.1 1239.0,44.1 1241.0,44.1 1243.0,44.1 1245.0,44.1 1247.0,44.1 1249.0,44.1 1251.0,44.1 1253.0,44.1 1255.0,44.1 1257.0,44.2 1259.0,44.2 1261.0,44.2 1263.0,44.2 1265.0,44.2 1267.0,44.2 1269.0,44.2 1271.0,44.2 1273.0,44.2 1275.0,44.3 1277.0,44.3 1279.0,44.3 1281.0,44.3 1283.0,44.3 1285.0,44.3 1287.0,44.4 1289.0,44.4 1291.0,44.4 1293.0,44.4 1295.0,44.5 1297.0,44.5 1299.0,44.5 1301.0,44.5 1303.0,44.6 1305.0,44.6 1307.0,44.7 1309.0,44.7 1311.0,44.8 1313.0,44.8 1315.0,44.9 1317.0,44.9 1319.0,45.0 1321.0,45.1 1323.0,45.2 1325.0,45.2 1327.0,45.3 1329.0,45.4 1331.0,45.6 1332.9,45.7 1334.9,45.8 1336.9,46.0 1338.9,46.1 1340.9,46.3 1342.9,46.5 1344.9,46.8 1346.9,47.1 1348.8,47.4 1350.8,47.9 1352.7,48.3 1354.7,48.8 1356.6,49.4 1358.5,50.1 1360.4,50.7 1362.2,51.5 1364.1,52.3 1365.9,53.1 1367.7,54.0 1369.4,54.9 1371.1,56.0 1372.8,57.1 1374.4,58.3 1375.9,59.6 1377.3,61.0 1378.6,62.5 1379.8,64.1 1380.9,65.8 1381.9,67.5 1382.9,69.3 1383.7,71.1 1384.6,72.9 1385.4,74.7 1386.1,76.6 1386.8,78.5 1387.5,80.3 1388.1,82.2 1388.7,84.2 1389.2,86.1 1389.7,88.0 1390.2,90.0 1390.6,91.9 1391.0,93.9 1391.3,95.9 1391.6,97.8 1391.9,99.8 1392.1,101.8 1392.4,103.8 1392.6,105.8 1392.8,107.8 1393.0,109.8 1393.2,111.7 1393.5,113.7 1393.7,115.7 1393.9,117.7 1394.1,119.7 1394.3,121.7 1394.6,123.7 1394.8,125.7 1394.9,127.6 1395.1,129.6 1395.3,131.6 1395.5,133.6 1395.6,135.6 1395.8,137.6 1395.9,139.6 1396.0,141.6 1396.1,143.6 1396.2,145.6 1396.3,147.6 1396.4,149.6 1396.5,151.6 1396.6,153.6 1396.6,155.6 1396.7,157.6 1396.8,159.6 1396.9,161.6 1397.0,163.6 1397.1,165.6 1397.2,167.6 1397.3,169.6 1397.4,171.6 1397.5,173.6 1397.6,175.6 1397.8,177.5 1397.9,179.5 1398.0,181.5 1398.2,183.5 1398.4,185.5 1398.6,187.5 1398.8,189.5 1399.0,191.5 1399.2,193.5 1399.4,195.5 1399.6,197.5 1399.8,199.4 1400.0,201.4 1400.3,203.4 1400.5,205.4 1400.7,207.4 1400.9,209.4 1401.1,211.4 1401.3,213.4 1401.5,215.3 1401.7,217.3 1401.9,219.3 1402.1,221.3 1402.2,223.3 1402.4,225.3 1402.5,227.3 1402.7,229.3 1402.8,231.3 1402.9,233.3 1403.1,235.3 1403.2,237.3 1403.3,239.3 1403.4,241.3 1403.5,243.3 1403.6,245.3 1403.7,247.3 1403.8,249.3 1403.9,251.3 1404.0,253.3 1404.1,255.2 1404.2,257.2 1404.3,259.2 1404.3,261.2 1404.4,263.2 1404.5,265.2 1404.6,267.2 1404.7,269.2 1404.8,271.2 1404.9,273.2 1404.9,275.2 1405.0,277.2 1405.1,279.2 1405.2,281.2 1405.3,283.2 1405.4,285.2 1405.5,287.2 1405.6,289.2 1405.7,291.2 1405.8,293.2 1405.9,295.2 1406.0,297.2 1406.1,299.2 1406.2,301.2 1406.3,303.2 1406.5,305.2 1406.6,307.2 1406.7,309.2 1406.8,311.2 1406.9,313.2 1407.0,315.2 1407.1,317.2 1407.2,319.2 1407.3,321.2 1407.4,323.2 1407.5,325.1 1407.6,327.1 1407.7,329.1 1407.8,331.1 1407.9,333.1 1408.0,335.1 1408.1,337.1 1408.1,339.1 1408.2,341.1 1408.3,343.1 1408.4,345.1 1408.5,347.1 1408.6,349.1 1408.7,351.1 1408.7,353.1 1408.8,355.1 1408.9,357.1 1409.0,359.1 1409.0,361.1 1409.1,363.1 1409.2,365.1 1409.2,367.1 1409.3,369.1 1409.4,371.1 1409.4,373.1 1409.5,375.1 1409.6,377.1 1409.6,379.1 1409.7,381.1 1409.7,383.1 1409.8,385.1 1409.8,387.1 1409.9,389.1 1409.9,391.1 1410.0,393.1 1410.0,395.1 1410.1,397.1 1410.1,399.1 1410.2,401.1 1410.2,403.1 1410.2,405.1 1410.3,407.1 1410.3,409.1 1410.4,411.1 1410.4,413.1 1410.4,415.1 1410.5,417.1 1410.5,419.1 1410.6,421.1 1410.6,423.1 1410.6,425.1 1410.7,427.1 1410.7,429.1 1410.7,431.1 1410.8,433.1 1410.8,435.1 1410.8,437.1 1410.9,439.1 1410.9,441.1 1410.9,443.1 1411.0,445.1 1411.0,447.1 1411.0,449.1 1411.1,451.1 1411.1,453.1 1411.1,455.1 1411.1,457.1 1411.2,459.1 1411.2,461.1 1411.2,463.1 1411.3,465.1 1411.3,467.1 1411.3,469.1 1411.4,471.1 1411.4,473.1 1411.4,475.0 1411.5,477.0 1411.5,479.0 1411.5,481.0 1411.5,483.0 1411.6,485.0 1411.6,487.0 1411.6,489.0 1411.7,491.0 1411.7,493.0 1411.7,495.0 1411.8,497.0 1411.8,499.0 1411.8,501.0 1411.8,503.0 1411.9,505.0 1411.9,507.0 1411.9,509.0 1412.0,511.0 1412.0,513.0 1412.0,515.0 1412.1,517.0 1412.1,519.0 1412.1,521.0 1412.1,523.0 1412.2,525.0 1412.2,527.0 1412.2,529.0 1412.3,531.0 1412.3,533.0 1412.3,535.0 1412.3,537.0 1412.4,539.0 1412.4,541.0 1412.4,543.0 1412.4,545.0 1412.5,547.0 1412.5,549.0 1412.5,551.0 1412.6,553.0 1412.6,555.0 1412.6,557.0 1412.6,559.0 1412.7,561.0 1412.7,563.0 1412.7,565.0 1412.7,567.0 1412.8,569.0 1412.8,571.0 1412.8,573.0 1412.8,575.0 1412.9,577.0 1412.9,579.0 1412.9,581.0 1412.9,583.0 1413.0,585.0 1413.0,587.0 1413.0,589.0 1413.1,591.0 1413.1,593.0 1413.1,595.0 1413.1,597.0 1413.2,599.0 1413.2,601.0 1413.2,603.0 1413.2,605.0 1413.3,607.0 1413.3,609.0 1413.3,611.0 1413.3,613.0 1413.4,615.0 1413.4,617.0 L1413.5,615.0 1413.5,613.0 1413.6,611.0 1413.6,609.0 1413.7,607.0 1413.7,605.0 1413.8,603.0 1413.8,601.0 1413.9,599.0 1413.9,597.0 1414.0,595.0 1414.0,593.0 1414.1,591.0 1414.2,589.0 1414.2,587.0 1414.3,585.0 1414.3,583.0 1414.4,581.0 1414.4,579.0 1414.5,577.0 1414.5,575.0 1414.6,573.0 1414.6,571.1 1414.7,569.1 1414.8,567.1 1414.8,565.1 1414.9,563.1 1414.9,561.1 1415.0,559.1 1415.0,557.1 1415.1,555.1 1415.1,553.1 1415.2,551.1 1415.2,549.1 1415.3,547.1 1415.3,545.1 1415.4,543.1 1415.5,541.1 1415.5,539.1 1415.6,537.1 1415.6,535.1 1415.7,533.1 1415.7,531.1 1415.8,529.1 1415.8,527.1 1415.9,525.1 1415.9,523.1 1416.0,521.1 1416.0,519.1 1416.1,517.1 1416.1,515.1 1416.2,513.1 1416.2,511.1 1416.3,509.1 1416.3,507.1 1416.4,505.1 1416.4,503.1 1416.5,501.1 1416.5,499.1 1416.6,497.1 1416.6,495.1 1416.7,493.1 1416.7,491.1 1416.7,489.1 1416.8,487.1 1416.8,485.1 1416.9,483.1 1416.9,481.1 1416.9,479.1 1417.0,477.1 1417.0,475.2 1417.1,473.2 1417.1,471.2 1417.1,469.2 1417.2,467.2 1417.2,465.2 1417.2,463.2 1417.3,461.2 1417.3,459.2 1417.4,457.2 1417.4,455.2 1417.4,453.2 1417.5,451.2 1417.5,449.2 1417.5,447.2 1417.6,445.2 1417.6,443.2 1417.6,441.2 1417.7,439.2 1417.7,437.2 1417.8,435.2 1417.8,433.2 1417.8,431.2 1417.9,429.2 1417.9,427.2 1418.0,425.2 1418.0,423.2 1418.0,421.2 1418.1,419.2 1418.1,417.2 1418.2,415.2 1418.2,413.2 1418.3,411.2 1418.3,409.2 1418.4,407.2 1418.4,405.2 1418.5,403.2 1418.5,401.2 1418.6,399.2 1418.7,397.2 1418.7,395.2 1418.8,393.2 1418.9,391.2 1418.9,389.2 1419.0,387.2 1419.1,385.2 1419.1,383.2 1419.2,381.2 1419.3,379.3 1419.4,377.3 1419.5,375.3 1419.6,373.3 1419.6,371.3 1419.7,369.3 1419.8,367.3 1419.9,365.3 1420.0,363.3 1420.1,361.3 1420.2,359.3 1420.3,357.3 1420.4,355.3 1420.5,353.3 1420.6,351.3 1420.7,349.3 1420.9,347.3 1421.0,345.3 1421.1,343.3 1421.2,341.3 1421.3,339.3 1421.4,337.3 1421.6,335.3 1421.7,333.3 1421.8,331.4 1421.9,329.4 1422.1,327.4 1422.2,325.4 1422.3,323.4 1422.4,321.4 1422.6,319.4 1422.7,317.4 1422.9,315.4 1423.0,313.4 1423.1,311.4 1423.3,309.4 1423.4,307.4 1423.6,305.4 1423.7,303.4 1423.9,301.4 1424.0,299.5 1424.2,297.5 1424.3,295.5 1424.5,293.5 1424.6,291.5 1424.8,289.5 1424.9,287.5 1425.1,285.5 1425.3,283.5 1425.4,281.5 1425.6,279.5 1425.7,277.5 1425.9,275.5 1426.1,273.6 1426.3,271.6 1426.4,269.6 1426.6,267.6 1426.8,265.6 1427.0,263.6 1427.2,261.6 1427.4,259.6 1427.6,257.6 1427.7,255.6 1427.9,253.7 1428.1,251.7 1428.3,249.7 1428.6,247.7 1428.8,245.7 1429.0,243.7 1429.2,241.7 1429.4,239.7 1429.6,237.8 1429.8,235.8 1430.0,233.8 1430.2,231.8 1430.4,229.8 1430.6,227.8 1430.8,225.8 1431.0,223.8 1431.2,221.8 1431.4,219.9 1431.6,217.9 1431.7,215.9 1431.9,213.9 1432.1,211.9 1432.2,209.9 1432.4,207.9 1432.6,205.9 1432.8,203.9 1432.9,201.9 1433.1,199.9 1433.3,198.0 1433.5,196.0 1433.7,194.0 1433.9,192.0 1434.1,190.0 1434.4,188.0 1434.6,186.0 1434.9,184.1 1435.1,182.1 1435.4,180.1 1435.7,178.1 1436.0,176.1 1436.3,174.2 1436.6,172.2 1436.9,170.2 1437.2,168.2 1437.5,166.3 1437.9,164.3 1438.2,162.3 1438.6,160.4 1439.0,158.4 1439.4,156.4 1439.8,154.5 1440.3,152.6 1440.8,150.6 1441.3,148.7 1441.9,146.8 1442.6,144.9 1443.3,143.0 1444.1,141.2 1444.9,139.4 1445.8,137.6 1446.8,135.8 1447.8,134.2 1449.0,132.5 1450.3,131.0 1451.7,129.6 1453.2,128.3 1454.8,127.1 1456.5,126.1 1458.3,125.2 1460.2,124.5 1462.2,124.1 1464.1,124.0 1466.1,124.1 1468.1,124.5 1470.0,125.1 1471.8,125.9 1473.6,126.9 1475.2,128.0 1476.8,129.2 1478.3,130.5 1479.8,131.9 1481.2,133.3 1482.5,134.8 1483.7,136.4 1484.9,138.0 1486.1,139.6 1487.2,141.2 1488.4,142.9 1489.4,144.6 1490.5,146.3 1491.5,148.0 1492.5,149.7 1493.5,151.5 1494.4,153.3 1495.3,155.0 1496.2,156.8 1497.1,158.6 1498.0,160.4 1498.8,162.2 1499.6,164.1 1500.4,165.9 1501.1,167.8 1501.8,169.6 1502.5,171.5 1503.2,173.4 1503.8,175.3 1504.4,177.2 1505.0,179.1 1505.5,181.0 1506.1,182.9 1506.7,184.9 1507.2,186.8 1507.8,188.7 1508.3,190.6 1508.8,192.6 1509.4,194.5 1509.9,196.4 1510.4,198.4 1510.8,200.3 1511.3,202.2 1511.7,204.2 1512.1,206.1 1512.5,208.1 1512.9,210.1 1513.3,212.0 1513.7,214.0 1514.0,216.0 1514.4,217.9 1514.7,219.9 1515.1,221.9 1515.4,223.8 1515.7,225.8 1516.0,227.8 1516.4,229.8 1516.7,231.7 1517.0,233.7 1517.3,235.7 1517.6,237.6 1517.9,239.6 1518.2,241.6 1518.5,243.6 1518.8,245.6 1519.1,247.5 1519.4,249.5 1519.6,251.5 1519.9,253.5 1520.2,255.5 1520.4,257.4 1520.7,259.4 1520.9,261.4 1521.2,263.4 1521.4,265.4 1521.6,267.4 1521.9,269.3 1522.1,271.3 1522.3,273.3 1522.5,275.3 1522.7,277.3 1522.9,279.3 1523.1,281.3 1523.3,283.3 1523.5,285.2 1523.7,287.2 1523.9,289.2 1524.1,291.2 1524.3,293.2 1524.5,295.2 1524.7,297.2 1524.9,299.2 1525.1,301.2 1525.3,303.1 1525.5,305.1 1525.7,307.1 1525.8,309.1 1526.0,311.1 1526.2,313.1 1526.4,315.1 1526.6,317.1 1526.8,319.1 1527.0,321.0 1527.2,323.0 1527.3,325.0 1527.5,327.0 1527.7,329.0 1527.9,331.0 1528.1,333.0 1528.2,335.0 1528.4,337.0 1528.6,339.0 1528.7,341.0 1528.9,342.9 1529.0,344.9 1529.2,346.9 1529.3,348.9 1529.5,350.9 1529.6,352.9 1529.8,354.9 1529.9,356.9 1530.0,358.9 1530.1,360.9 1530.3,362.9 1530.4,364.9 1530.5,366.9 1530.6,368.9 1530.7,370.9 1530.8,372.9 1531.0,374.9 1531.1,376.9 1531.2,378.9 1531.3,380.8 1531.4,382.8 1531.5,384.8 1531.6,386.8 1531.7,388.8 1531.8,390.8 1531.9,392.8 1532.0,394.8 1532.1,396.8 1532.2,398.8 1532.3,400.8 1532.4,402.8 1532.5,404.8 1532.6,406.8 1532.7,408.8 1532.8,410.8 1532.9,412.8 1533.0,414.8 1533.1,416.8 1533.2,418.8 1533.3,420.8 1533.5,422.8 1533.6,424.8 1533.7,426.7 1533.8,428.7 1533.9,430.7 1534.1,432.7 1534.2,434.7 1534.3,436.7 1534.4,438.7 1534.5,440.7 1534.7,442.7 1534.8,444.7 1534.9,446.7 1535.0,448.7 1535.1,450.7 1535.3,452.7 1535.4,454.7 1535.5,456.7 1535.6,458.7 1535.7,460.7 1535.8,462.7 1535.9,464.7 1536.0,466.7 1536.1,468.6 1536.2,470.6 1536.3,472.6 1536.4,474.6 1536.5,476.6 1536.6,478.6 1536.7,480.6 1536.8,482.6 1536.8,484.6 1536.9,486.6 1537.0,488.6 1537.1,490.6 1537.1,492.6 1537.2,494.6 1537.3,496.6 1537.3,498.6 1537.4,500.6 1537.5,502.6 1537.5,504.6 1537.6,506.6 1537.7,508.6 1537.7,510.6 1537.8,512.6 1537.8,514.6 1537.9,516.6 1538.0,518.6 1538.0,520.6 1538.1,522.6 1538.1,524.6 1538.2,526.6 1538.2,528.6 1538.3,530.6 1538.3,532.6 1538.4,534.6 1538.4,536.6 1538.4,538.6 1538.5,540.6 1538.5,542.6 1538.6,544.5 1538.6,546.5 1538.6,548.5 1538.7,550.5 1538.7,552.5 1538.7,554.5 1538.8,556.5 1538.8,558.5 1538.8,560.5 1538.9,562.5 1538.9,564.5 1539.0,566.5 1539.0,568.5 1539.0,570.5 1539.1,572.5 1539.1,574.5 1539.1,576.5 1539.2,578.5 1539.2,580.5 1539.2,582.5 1539.3,584.5 1539.3,586.5 1539.3,588.5 1539.4,590.5 1539.4,592.5 1539.5,594.5 1539.5,596.5 1539.6,598.5 1539.6,600.5 1539.6,602.5 1539.7,604.5 1539.7,606.5 1539.8,608.5 1539.8,610.5 1539.9,612.5 1539.9,614.5 1540.0,616.5 1540.0,618.5 1540.1,620.5 1540.1,622.5 1540.2,624.5 1540.3,626.5 1540.3,628.5 1540.4,630.5 1540.4,632.5 1540.5,634.5 1540.5,636.5 1540.6,638.5 1540.7,640.5 1540.7,642.5 1540.8,644.4 1540.8,646.4 1540.9,648.4 1541.0,650.4 1541.0,652.4 1541.1,654.4 1541.2,656.4 1541.2,658.4 1541.3,660.4 1541.3,662.4 1541.4,664.4 1541.5,666.4 1541.5,668.4 1541.6,670.4 1541.6,672.4 1541.7,674.4 1541.8,676.4 1541.8,678.4 1541.9,680.4 1541.9,682.4 1542.0,684.4 1542.1,686.4 1542.1,688.4 1542.2,690.4 1542.2,692.4 1542.3,694.4 1542.3,696.4 1542.4,698.4 1542.4,700.4 1542.5,702.4 1542.5,704.4 1542.6,706.4 1542.6,708.4 1542.7,710.4 1542.7,712.4 1542.8,714.4 1542.8,716.4 1542.9,718.4 1542.9,720.4 1543.0,722.4 1543.0,724.4 1543.1,726.4 1543.1,728.4 1543.2,730.4 1543.2,732.4 1543.3,734.3 1543.3,736.3 1543.4,738.3 1543.4,740.3 1543.4,742.3 1543.5,744.3 1543.5,746.3 1543.6,748.3 1543.6,750.3 1543.7,752.3 1543.7,754.3 1543.7,756.3 1543.8,758.3 1543.8,760.3 1543.9,762.3 1543.9,764.3 1543.9,766.3 1544.0,768.3 1544.0,770.3 1544.1,772.3 1544.1,774.3 1544.1,776.3 1544.2,778.3 1544.2,780.3 1544.2,782.3 1544.3,784.3 1544.3,786.3 1544.3,788.3 1544.4,790.3 1544.4,792.3 1544.4,794.3 1544.4,796.3 1544.5,798.3 1544.5,800.3 1544.5,802.3 1544.6,804.3 1544.6,806.3 1544.6,808.3 1544.6,810.3 1544.7,812.3 1544.7,814.3 1544.7,816.3 1544.7,818.3 1544.8,820.3 1544.8,822.3 1544.8,824.3 1544.8,826.3 1544.9,828.3 1544.9,830.3 1544.9,832.3 1544.9,834.3 1544.9,836.3 1545.0,838.3 1545.0,840.3 1545.0,842.3 1545.0,844.3 1545.0,846.3 1545.1,848.2 1545.1,850.2 1545.1,852.2 1545.1,854.2 1545.1,856.2 1545.2,858.2 1545.2,860.2 1545.2,862.2 1545.2,864.2 1545.2,866.2 1545.3,868.2 1545.3,870.2 1545.3,872.2 1545.3,874.2 1545.3,876.2 1545.3,878.2 1545.4,880.2 1545.4,882.2 1545.4,884.2 1545.4,886.2 1545.4,888.2 1545.4,890.2 1545.5,892.2 1545.5,894.2 1545.5,896.2 1545.5,898.2 1545.5,900.2 1545.5,902.2 1545.6,904.2 1545.6,906.2 1545.6,908.2 1545.6,910.2 1545.6,912.2 1545.6,914.2 1545.6,916.2 1545.7,918.2 1545.7,920.2 1545.7,922.2 1545.7,924.2 1545.7,926.2 1545.7,928.2 1545.7,930.2 1545.8,932.2 1545.8,934.2 1545.8,936.2 1545.8,938.2 1545.8,940.2 1545.8,942.2 1545.8,944.2 1545.9,946.2 1545.9,948.2 1545.9,950.2 1545.9,952.2 1545.9,954.2 1545.9,956.2 1545.9,958.2 1546.0,960.2 1546.0,962.2 1546.0,964.2 1546.0,966.2 1546.0,968.2 1546.0,970.2 1546.0,972.2 1546.1,974.2 1546.1,976.2 1546.1,978.2 1546.1,980.1 1546.1,982.1 1546.1,984.1 1546.1,986.1 1546.1,988.1 1546.2,990.1 1546.2,992.1 1546.2,994.1 1546.2,996.1 1546.2,998.1 1546.2,1000.1 1546.2,1002.1 1546.2,1004.1 1546.3,1006.1 1546.3,1008.1 1546.3,1010.1 1546.3,1012.1 1546.3,1014.1 1546.3,1016.1 1546.3,1018.1 1546.4,1020.1 1546.4,1022.1 1546.4,1024.1 1546.4,1026.1 1546.4,1028.1 1546.4,1030.1 1546.4,1032.1 1546.4,1034.1 1546.5,1036.1 1546.5,1038.1 1546.5,1040.1 1546.5,1042.1 1546.5,1044.1 1546.5,1046.1 1546.5,1048.1 1546.5,1050.1 1546.6,1052.1 1546.6,1054.1 1546.6,1056.1 1546.6,1058.1 1546.6,1060.1 1546.6,1062.1 1546.6,1064.1 1546.6,1066.1 1546.7,1068.1 1546.7,1070.1 1546.7,1072.1 1546.7,1074.1 1546.7,1076.1 1546.7,1078.1 1546.7,1080.1 1546.7,1082.1 1546.8,1084.1 1546.8,1086.1 1546.8,1088.1 1546.8,1090.1 1546.8,1092.1 1546.8,1094.1 1546.8,1096.1 1546.9,1098.1 1546.9,1100.1 1546.9,1102.1 1546.9,1104.1 1546.9,1106.1 1546.9,1108.1 1546.9,1110.1 1546.9,1112.0 1547.0,1114.0 1547.0,1116.0 1547.0,1118.0 1547.0,1120.0 1547.0,1122.0 1547.0,1124.0 1547.0,1126.0 1547.1,1128.0 1547.1,1130.0 1547.1,1132.0 1547.1,1134.0 1547.1,1136.0 1547.1,1138.0 1547.1,1140.0 1547.2,1142.0 1547.2,1144.0 1547.2,1146.0 1547.2,1148.0 1547.2,1150.0 1547.2,1152.0 1547.2,1154.0 1547.3,1156.0 1547.3,1158.0 1547.3,1160.0 1547.3,1162.0 1547.3,1164.0 1547.3,1166.0 1547.3,1168.0 1547.4,1170.0 1547.4,1172.0 1547.4,1174.0 1547.4,1176.0 L1547.4,1174.0 1547.4,1172.0 1547.4,1170.0 1547.4,1168.0 1547.4,1166.0 1547.5,1164.0 1547.5,1162.0 1547.5,1160.0 1547.5,1158.0 1547.5,1156.0 1547.5,1154.0 1547.5,1152.0 1547.5,1150.0 1547.5,1148.0 1547.5,1146.0 1547.6,1144.0 1547.6,1142.0 1547.6,1140.0 1547.6,1138.0 1547.6,1136.0 1547.6,1134.0 1547.6,1132.0 1547.6,1130.0 1547.6,1128.0 1547.6,1126.0 1547.7,1124.0 1547.7,1122.0 1547.7,1120.0 1547.7,1118.0 1547.7,1116.0 1547.7,1114.0 1547.7,1112.0 1547.7,1110.0 1547.7,1108.0 1547.7,1106.0 1547.7,1104.0 1547.8,1102.0 1547.8,1100.0 1547.8,1098.0 1547.8,1096.0 1547.8,1094.0 1547.8,1092.0 1547.8,1090.0 1547.8,1088.0 1547.8,1086.1 1547.8,1084.1 1547.8,1082.1 1547.9,1080.1 1547.9,1078.1 1547.9,1076.1 1547.9,1074.1 1547.9,1072.1 1547.9,1070.1 1547.9,1068.1 1547.9,1066.1 1547.9,1064.1 1547.9,1062.1 1548.0,1060.1 1548.0,1058.1 1548.0,1056.1 1548.0,1054.1 1548.0,1052.1 1548.0,1050.1 1548.0,1048.1 1548.0,1046.1 1548.0,1044.1 1548.0,1042.1 1548.0,1040.1 1548.1,1038.1 1548.1,1036.1 1548.1,1034.1 1548.1,1032.1 1548.1,1030.1 1548.1,1028.1 1548.1,1026.1 1548.1,1024.1 1548.1,1022.1 1548.1,1020.1 1548.2,1018.1 1548.2,1016.1 1548.2,1014.1 1548.2,1012.1 1548.2,1010.1 1548.2,1008.1 1548.2,1006.1 1548.2,1004.1 1548.2,1002.1 1548.2,1000.1 1548.2,998.1 1548.3,996.1 1548.3,994.1 1548.3,992.1 1548.3,990.1 1548.3,988.1 1548.3,986.1 1548.3,984.1 1548.3,982.1 1548.3,980.1 1548.3,978.1 1548.4,976.1 1548.4,974.1 1548.4,972.1 1548.4,970.1 1548.4,968.1 1548.4,966.1 1548.4,964.1 1548.4,962.1 1548.4,960.1 1548.4,958.1 1548.4,956.1 1548.5,954.1 1548.5,952.1 1548.5,950.1 1548.5,948.1 1548.5,946.1 1548.5,944.1 1548.5,942.1 1548.5,940.1 1548.5,938.1 1548.5,936.1 1548.6,934.1 1548.6,932.1 1548.6,930.1 1548.6,928.1 1548.6,926.1 1548.6,924.1 1548.6,922.1 1548.6,920.1 1548.6,918.1 1548.6,916.1 1548.7,914.1 1548.7,912.1 1548.7,910.1 1548.7,908.2 1548.7,906.2 1548.7,904.2 1548.7,902.2 1548.7,900.2 1548.7,898.2 1548.7,896.2 1548.8,894.2 1548.8,892.2 1548.8,890.2 1548.8,888.2 1548.8,886.2 1548.8,884.2 1548.8,882.2 1548.8,880.2 1548.8,878.2 1548.9,876.2 1548.9,874.2 1548.9,872.2 1548.9,870.2 1548.9,868.2 1548.9,866.2 1548.9,864.2 1548.9,862.2 1548.9,860.2 1549.0,858.2 1549.0,856.2 1549.0,854.2 1549.0,852.2 1549.0,850.2 1549.0,848.2 1549.0,846.2 1549.0,844.2 1549.0,842.2 1549.0,840.2 1549.1,838.2 1549.1,836.2 1549.1,834.2 1549.1,832.2 1549.1,830.2 1549.1,828.2 1549.1,826.2 1549.1,824.2 1549.1,822.2 1549.1,820.2 1549.1,818.2 1549.1,816.2 1549.1,814.2 1549.1,812.2 1549.1,810.2 1549.1,808.2 1549.1,806.2 1549.1,804.2 1549.1,802.2 1549.1,800.2 1549.2,798.2 1549.2,796.2 1549.2,794.2 1549.2,792.2 1549.2,790.2 1549.2,788.2 1549.2,786.2 1549.2,784.2 1549.2,782.2 1549.2,780.2 1549.2,778.2 1549.2,776.2 1549.2,774.2 1549.2,772.2 1549.2,770.2 1549.3,768.2 1549.3,766.2 1549.3,764.2 1549.3,762.2 1549.3,760.2 1549.3,758.2 1549.4,756.2 1549.4,754.2 1549.4,752.2 1549.4,750.2 1549.5,748.2 1549.5,746.2 1549.5,744.2 1549.6,742.2 1549.6,740.2 1549.6,738.2 1549.7,736.2 1549.7,734.3 1549.7,732.3 1549.8,730.3 1549.8,728.3 1549.9,726.3 1549.9,724.3 1550.0,722.3 1550.0,720.3 1550.1,718.3 1550.1,716.3 1550.2,714.3 1550.2,712.3 1550.3,710.3 1550.4,708.3 1550.4,706.3 1550.5,704.3 1550.5,702.3 1550.6,700.3 1550.7,698.3 1550.7,696.3 1550.8,694.3 1550.9,692.3 1550.9,690.3 1551.0,688.3 1551.1,686.3 1551.2,684.3 1551.2,682.3 1551.3,680.3 1551.4,678.3 1551.5,676.3 1551.5,674.3 1551.6,672.3 1551.7,670.3 1551.8,668.3 1551.8,666.3 1551.9,664.3 1552.0,662.3 1552.1,660.3 1552.2,658.3 1552.3,656.3 1552.3,654.3 1552.4,652.3 1552.5,650.3 1552.6,648.3 1552.7,646.4 1552.8,644.4 1552.9,642.4 1552.9,640.4 1553.0,638.4 1553.1,636.4 1553.2,634.4 1553.3,632.4 1553.4,630.4 1553.5,628.4 1553.6,626.4 1553.6,624.4 1553.7,622.4 1553.8,620.4 1553.9,618.4 1554.0,616.4 1554.1,614.4 1554.2,612.4 1554.3,610.4 1554.4,608.4 1554.4,606.4 1554.5,604.4 1554.6,602.4 1554.7,600.4 1554.8,598.4 1554.9,596.4 1555.0,594.4 1555.1,592.4 1555.2,590.4 1555.3,588.4 1555.4,586.4 1555.5,584.4 1555.6,582.5 1555.6,580.5 1555.7,578.5 1555.8,576.5 1555.9,574.5 1556.0,572.5 1556.1,570.5 1556.2,568.5 1556.3,566.5 1556.4,564.5 1556.5,562.5 1556.6,560.5 1556.7,558.5 1556.8,556.5 1556.9,554.5 1557.0,552.5 1557.1,550.5 1557.2,548.5 1557.3,546.5 1557.4,544.5 1557.5,542.5 1557.7,540.5 1557.8,538.5 1557.9,536.5 1558.0,534.5 1558.1,532.5 1558.2,530.5 1558.3,528.6 1558.4,526.6 1558.5,524.6 1558.6,522.6 1558.7,520.6 1558.8,518.6 1559.0,516.6 1559.1,514.6 1559.2,512.6 1559.3,510.6 1559.4,508.6 1559.5,506.6 1559.6,504.6 1559.7,502.6 1559.9,500.6 1560.0,498.6 1560.1,496.6 1560.2,494.6 1560.3,492.6 1560.5,490.6 1560.6,488.6 1560.7,486.6 1560.8,484.6 1560.9,482.7 1561.1,480.7 1561.2,478.7 1561.3,476.7 1561.4,474.7 1561.6,472.7 1561.7,470.7 1561.8,468.7 1561.9,466.7 1562.1,464.7 1562.2,462.7 1562.3,460.7 1562.5,458.7 1562.6,456.7 1562.7,454.7 1562.9,452.7 1563.0,450.7 1563.2,448.7 1563.3,446.8 1563.5,444.8 1563.6,442.8 1563.8,440.8 1563.9,438.8 1564.1,436.8 1564.2,434.8 1564.4,432.8 1564.6,430.8 1564.8,428.8 1564.9,426.8 1565.1,424.8 1565.3,422.8 1565.5,420.9 1565.7,418.9 1565.8,416.9 1566.0,414.9 1566.2,412.9 1566.4,410.9 1566.6,408.9 1566.8,406.9 1567.1,404.9 1567.3,403.0 1567.5,401.0 1567.7,399.0 1567.9,397.0 1568.1,395.0 1568.3,393.0 1568.6,391.0 1568.8,389.0 1569.0,387.1 1569.3,385.1 1569.5,383.1 1569.7,381.1 1570.0,379.1 1570.2,377.1 1570.5,375.2 1570.7,373.2 1571.0,371.2 1571.2,369.2 1571.5,367.2 1571.7,365.2 1572.0,363.3 1572.2,361.3 1572.5,359.3 1572.8,357.3 1573.0,355.3 1573.3,353.4 1573.6,351.4 1573.8,349.4 1574.1,347.4 1574.4,345.4 1574.7,343.4 1574.9,341.5 1575.2,339.5 1575.5,337.5 1575.7,335.5 1576.0,333.5 1576.3,331.6 1576.6,329.6 1576.9,327.6 1577.1,325.6 1577.4,323.7 1577.7,321.7 1578.0,319.7 1578.4,317.7 1578.7,315.8 1579.0,313.8 1579.3,311.8 1579.7,309.8 1580.1,307.9 1580.4,305.9 1580.8,304.0 1581.2,302.0 1581.6,300.0 1582.0,298.1 1582.5,296.1 1582.9,294.2 1583.4,292.2 1583.8,290.3 1584.3,288.3 1584.7,286.4 1585.2,284.5 1585.7,282.5 1586.2,280.6 1586.7,278.7 1587.2,276.7 1587.7,274.8 1588.2,272.8 1588.7,270.9 1589.2,269.0 1589.7,267.0 1590.3,265.1 1590.8,263.2 1591.3,261.3 1591.9,259.3 1592.4,257.4 1593.0,255.5 1593.7,253.6 1594.4,251.8 1595.2,249.9 1596.0,248.1 1596.9,246.3 1597.8,244.5 1598.8,242.8 1599.9,241.1 1601.0,239.5 1602.2,237.9 1603.5,236.3 1604.9,234.9 1606.4,233.5 1607.9,232.3 1609.7,231.3 1611.5,230.5 1613.4,230.1 1615.4,230.0 1617.4,230.2 1619.3,230.8 1621.2,231.6 1622.9,232.5 1624.6,233.6 1626.2,234.7 1627.8,236.0 1629.3,237.3 1630.8,238.7 1632.1,240.1 1633.4,241.6 1634.7,243.2 1635.8,244.9 1636.8,246.6 1637.8,248.3 1638.8,250.1 1639.7,251.8 1640.5,253.6 1641.4,255.5 1642.2,257.3 1643.0,259.1 1643.8,261.0 1644.5,262.8 1645.3,264.6 1646.1,266.5 1646.8,268.4 1647.5,270.2 1648.2,272.1 1648.9,274.0 1649.6,275.9 1650.2,277.7 1650.9,279.6 1651.5,281.5 1652.1,283.4 1652.7,285.3 1653.3,287.3 1653.9,289.2 1654.5,291.1 1655.1,293.0 1655.6,294.9 1656.2,296.8 1656.7,298.8 1657.2,300.7 1657.8,302.6 1658.3,304.5 1658.8,306.5 1659.2,308.4 1659.7,310.4 1660.2,312.3 1660.6,314.3 1661.1,316.2 1661.5,318.2 1661.9,320.1 1662.3,322.1 1662.7,324.0 1663.1,326.0 1663.5,328.0 1663.8,329.9 1664.2,331.9 1664.5,333.9 1664.9,335.8 1665.2,337.8 1665.5,339.8 1665.8,341.7 1666.1,343.7 1666.4,345.7 1666.7,347.7 1667.0,349.7 1667.3,351.6 1667.5,353.6 1667.8,355.6 1668.1,357.6 1668.4,359.6 1668.6,361.5 1668.9,363.5 1669.2,365.5 1669.4,367.5 1669.7,369.5 1669.9,371.4 1670.2,373.4 1670.4,375.4 1670.7,377.4 1670.9,379.4 1671.1,381.4 1671.4,383.4 1671.6,385.3 1671.9,387.3 1672.1,389.3 1672.3,391.3 1672.5,393.3 1672.8,395.3 1673.0,397.3 1673.2,399.2 1673.4,401.2 1673.7,403.2 1673.9,405.2 1674.1,407.2 1674.3,409.2 1674.5,411.2 1674.7,413.1 1674.9,415.1 1675.1,417.1 1675.3,419.1 1675.6,421.1 1675.8,423.1 1676.0,425.1 1676.2,427.1 1676.4,429.1 1676.5,431.0 1676.7,433.0 1676.9,435.0 1677.1,437.0 1677.3,439.0 1677.5,441.0 1677.7,443.0 1677.9,445.0 1678.0,447.0 1678.2,449.0 1678.4,451.0 1678.6,452.9 1678.7,454.9 1678.9,456.9 1679.1,458.9 1679.2,460.9 1679.4,462.9 1679.5,464.9 1679.7,466.9 1679.9,468.9 1680.0,470.9 1680.2,472.9 1680.3,474.9 1680.5,476.9 1680.6,478.8 1680.8,480.8 1680.9,482.8 1681.1,484.8 1681.2,486.8 1681.3,488.8 1681.5,490.8 1681.6,492.8 1681.8,494.8 1681.9,496.8 1682.1,498.8 1682.2,500.8 1682.3,502.8 1682.5,504.8 1682.6,506.8 1682.7,508.8 1682.9,510.7 1683.0,512.7 1683.2,514.7 1683.3,516.7 1683.4,518.7 1683.6,520.7 1683.7,522.7 1683.8,524.7 1684.0,526.7 1684.1,528.7 1684.3,530.7 1684.4,532.7 1684.5,534.7 1684.7,536.7 1684.8,538.7 1685.0,540.7 1685.1,542.7 1685.2,544.6 1685.4,546.6 1685.5,548.6 1685.7,550.6 1685.8,552.6 1686.0,554.6 1686.1,556.6 1686.3,558.6 1686.4,560.6 1686.5,562.6 1686.7,564.6 1686.8,566.6 1687.0,568.6 1687.1,570.6 1687.3,572.6 1687.4,574.6 1687.5,576.5 1687.7,578.5 1687.8,580.5 1688.0,582.5 1688.1,584.5 1688.2,586.5 1688.4,588.5 1688.5,590.5 1688.6,592.5 1688.7,594.5 1688.9,596.5 1689.0,598.5 1689.1,600.5 1689.2,602.5 1689.3,604.5 1689.5,606.5 1689.6,608.5 1689.7,610.5 1689.8,612.5 1689.9,614.5 1690.0,616.5 1690.1,618.4 1690.2,620.4 1690.3,622.4 1690.3,624.4 1690.4,626.4 1690.5,628.4 1690.6,630.4 1690.7,632.4 1690.8,634.4 1690.8,636.4 1690.9,638.4 1691.0,640.4 1691.0,642.4 1691.1,644.4 1691.2,646.4 1691.2,648.4 1691.3,650.4 1691.4,652.4 1691.4,654.4 1691.5,656.4 1691.5,658.4 1691.6,660.4 1691.7,662.4 1691.7,664.4 1691.8,666.4 1691.8,668.4 1691.9,670.4 1691.9,672.4 1692.0,674.4 1692.0,676.4 1692.1,678.4 1692.2,680.4 1692.2,682.4 1692.3,684.4 1692.3,686.4 1692.4,688.4 1692.4,690.4 1692.5,692.4 1692.5,694.4 1692.6,696.4 1692.6,698.4 1692.7,700.4 1692.7,702.4 1692.7,704.4 1692.8,706.4 1692.8,708.4 1692.8,710.4 1692.9,712.4 1692.9,714.3 1692.9,716.3 1693.0,718.3 1693.0,720.3 1693.0,722.3 1693.1,724.3 1693.1,726.3 1693.1,728.3 1693.2,730.3 1693.2,732.3 1693.2,734.3 1693.3,736.3 1693.3,738.3 1693.3,740.3 1693.4,742.3 1693.4,744.3 1693.4,746.3 1693.5,748.3 1693.5,750.3 1693.6,752.3 1693.6,754.3 1693.7,756.3 1693.7,758.3 1693.8,760.3 1693.8,762.3 1693.9,764.3 1693.9,766.3 1694.0,768.3 1694.1,770.3 1694.1,772.3 1694.2,774.3 1694.3,776.3 1694.4,778.3 1694.5,780.3 1694.6,782.3 1694.7,784.3 1694.8,786.3 1694.9,788.3 1695.0,790.3 1695.1,792.3 1695.3,794.3 1695.4,796.3 1695.5,798.3 1695.6,800.2 1695.8,802.2 1695.9,804.2 1696.0,806.2 1696.2,808.2 1696.3,810.2 1696.4,812.2 1696.6,814.2 1696.7,816.2 1696.8,818.2 1696.9,820.2 1697.1,822.2 1697.2,824.2 1697.3,826.2 1697.4,828.2 1697.6,830.2 1697.7,832.2 1697.8,834.2 1697.9,836.2 1698.0,838.2 1698.1,840.1 1698.2,842.1 1698.3,844.1 1698.3,846.1 1698.4,848.1 1698.5,850.1 1698.6,852.1 1698.6,854.1 1698.7,856.1 1698.8,858.1 1698.8,860.1 1698.9,862.1 1699.0,864.1 1699.0,866.1 1699.1,868.1 1699.1,870.1 1699.2,872.1 1699.2,874.1 1699.3,876.1 1699.3,878.1 1699.4,880.1 1699.4,882.1 1699.5,884.1 1699.5,886.1 1699.6,888.1 1699.6,890.1 1699.7,892.1 1699.7,894.1 1699.8,896.1 1699.8,898.1 1699.8,900.1 1699.9,902.1 1699.9,904.1 1700.0,906.1 1700.0,908.1 1700.0,910.1 1700.1,912.1 1700.1,914.1 1700.1,916.1 1700.2,918.1 1700.2,920.1 1700.3,922.1 1700.3,924.1 1700.3,926.1 1700.4,928.1 1700.4,930.1 1700.4,932.1 1700.5,934.1 1700.5,936.1 1700.6,938.1 1700.6,940.1 1700.6,942.1 1700.7,944.1 1700.7,946.1 1700.8,948.1 1700.8,950.1 1700.8,952.1 1700.9,954.0 1700.9,956.0 1700.9,958.0 1701.0,960.0 1701.0,962.0 1701.0,964.0 1701.1,966.0 1701.1,968.0 1701.1,970.0 1701.2,972.0 1701.2,974.0 1701.2,976.0 1701.3,978.0 1701.3,980.0 1701.3,982.0 1701.3,984.0 1701.4,986.0 1701.4,988.0 1701.4,990.0 1701.5,992.0 1701.5,994.0 1701.5,996.0 1701.6,998.0 1701.6,1000.0 1701.6,1002.0 1701.6,1004.0 1701.7,1006.0 1701.7,1008.0 1701.7,1010.0 1701.8,1012.0 1701.8,1014.0 1701.8,1016.0 1701.8,1018.0 1701.9,1020.0 1701.9,1022.0 1701.9,1024.0 1702.0,1026.0 1702.0,1028.0 L1702.0,1026.0 1702.1,1024.0 1702.1,1022.0 1702.1,1020.0 1702.1,1018.0 1702.2,1016.0 1702.2,1014.0 1702.2,1012.0 1702.2,1010.0 1702.3,1008.0 1702.3,1006.0 1702.3,1004.0 1702.4,1002.0 1702.4,1000.0 1702.4,998.0 1702.4,996.0 1702.5,994.1 1702.5,992.1 1702.5,990.1 1702.6,988.1 1702.6,986.1 1702.6,984.1 1702.6,982.1 1702.7,980.1 1702.7,978.1 1702.7,976.1 1702.7,974.1 1702.8,972.1 1702.8,970.1 1702.8,968.1 1702.9,966.1 1702.9,964.1 1702.9,962.1 1702.9,960.1 1703.0,958.1 1703.0,956.1 1703.0,954.1 1703.0,952.1 1703.1,950.1 1703.1,948.1 1703.1,946.1 1703.1,944.1 1703.2,942.1 1703.2,940.1 1703.2,938.1 1703.2,936.1 1703.3,934.1 1703.3,932.1 1703.3,930.2 1703.3,928.2 1703.3,926.2 1703.3,924.2 1703.4,922.2 1703.4,920.2 1703.4,918.2 1703.4,916.2 1703.4,914.2 1703.4,912.2 1703.4,910.2 1703.4,908.2 1703.4,906.2 1703.5,904.2 1703.5,902.2 1703.5,900.2 1703.5,898.2 1703.5,896.2 1703.5,894.2 1703.5,892.2 1703.5,890.2 1703.5,888.2 1703.6,886.2 1703.6,884.2 1703.6,882.2 1703.6,880.2 1703.6,878.2 1703.6,876.2 1703.7,874.2 1703.7,872.2 1703.7,870.2 1703.8,868.2 1703.8,866.2 1703.8,864.2 1703.9,862.3 1703.9,860.3 1703.9,858.3 1704.0,856.3 1704.0,854.3 1704.1,852.3 1704.1,850.3 1704.2,848.3 1704.3,846.3 1704.3,844.3 1704.4,842.3 1704.5,840.3 1704.6,838.3 1704.7,836.3 1704.8,834.3 1704.9,832.3 1705.0,830.3 1705.1,828.3 1705.2,826.3 1705.3,824.3 1705.4,822.3 1705.5,820.4 1705.7,818.4 1705.8,816.4 1705.9,814.4 1706.1,812.4 1706.2,810.4 1706.3,808.4 1706.5,806.4 1706.6,804.4 1706.7,802.4 1706.9,800.4 1707.0,798.4 1707.1,796.4 1707.3,794.4 1707.4,792.5 1707.5,790.5 1707.6,788.5 1707.7,786.5 1707.9,784.5 1708.0,782.5 1708.1,780.5 1708.2,778.5 1708.3,776.5 1708.4,774.5 1708.5,772.5 1708.5,770.5 1708.6,768.5 1708.7,766.5 1708.8,764.5 1708.8,762.5 1708.9,760.5 1709.0,758.5 1709.0,756.5 1709.1,754.5 1709.2,752.6 1709.2,750.6 1709.3,748.6 1709.3,746.6 1709.4,744.6 1709.5,742.6 1709.5,740.6 1709.6,738.6 1709.6,736.6 1709.7,734.6 1709.7,732.6 1709.8,730.6 1709.8,728.6 1709.9,726.6 1709.9,724.6 1710.0,722.6 1710.0,720.6 1710.1,718.6 1710.1,716.6 1710.2,714.6 1710.2,712.6 1710.3,710.6 1710.4,708.6 1710.4,706.6 1710.5,704.6 1710.5,702.6 1710.6,700.6 1710.7,698.7 1710.7,696.7 1710.8,694.7 1710.9,692.7 1711.0,690.7 1711.1,688.7 1711.1,686.7 1711.2,684.7 1711.3,682.7 1711.4,680.7 1711.5,678.7 1711.5,676.7 1711.6,674.7 1711.7,672.7 1711.8,670.7 1711.9,668.7 1712.0,666.7 1712.1,664.7 1712.1,662.7 1712.2,660.7 1712.3,658.7 1712.4,656.7 1712.5,654.8 1712.6,652.8 1712.7,650.8 1712.8,648.8 1712.9,646.8 1713.0,644.8 1713.1,642.8 1713.2,640.8 1713.3,638.8 1713.4,636.8 1713.6,634.8 1713.7,632.8 1713.8,630.8 1713.9,628.8 1714.1,626.8 1714.2,624.8 1714.3,622.9 1714.5,620.9 1714.6,618.9 1714.7,616.9 1714.9,614.9 1715.1,612.9 1715.2,610.9 1715.4,608.9 1715.6,606.9 1715.7,604.9 1715.9,602.9 1716.1,601.0 1716.3,599.0 1716.5,597.0 1716.7,595.0 1716.9,593.0 1717.1,591.0 1717.3,589.0 1717.5,587.0 1717.7,585.1 1717.9,583.1 1718.1,581.1 1718.4,579.1 1718.6,577.1 1718.8,575.1 1719.0,573.1 1719.2,571.2 1719.4,569.2 1719.7,567.2 1719.9,565.2 1720.1,563.2 1720.3,561.2 1720.5,559.2 1720.7,557.3 1720.9,555.3 1721.1,553.3 1721.3,551.3 1721.5,549.3 1721.7,547.3 1721.9,545.3 1722.1,543.4 1722.2,541.4 1722.4,539.4 1722.6,537.4 1722.8,535.4 1722.9,533.4 1723.1,531.4 1723.2,529.4 1723.4,527.4 1723.5,525.4 1723.7,523.4 1723.8,521.5 1724.0,519.5 1724.1,517.5 1724.3,515.5 1724.4,513.5 1724.5,511.5 1724.7,509.5 1724.8,507.5 1724.9,505.5 1725.1,503.5 1725.2,501.5 1725.3,499.5 1725.5,497.5 1725.6,495.6 1725.7,493.6 1725.9,491.6 1726.0,489.6 1726.1,487.6 1726.3,485.6 1726.4,483.6 1726.5,481.6 1726.7,479.6 1726.8,477.6 1726.9,475.6 1727.1,473.6 1727.2,471.6 1727.4,469.6 1727.5,467.7 1727.6,465.7 1727.8,463.7 1728.0,461.7 1728.1,459.7 1728.3,457.7 1728.4,455.7 1728.6,453.7 1728.8,451.7 1729.0,449.7 1729.1,447.8 1729.3,445.8 1729.5,443.8 1729.7,441.8 1729.9,439.8 1730.1,437.8 1730.4,435.8 1730.6,433.9 1730.8,431.9 1731.1,429.9 1731.3,427.9 1731.6,425.9 1731.8,423.9 1732.1,422.0 1732.4,420.0 1732.7,418.0 1732.9,416.0 1733.2,414.1 1733.5,412.1 1733.8,410.1 1734.1,408.1 1734.4,406.2 1734.7,404.2 1735.0,402.2 1735.3,400.2 1735.6,398.3 1735.9,396.3 1736.2,394.3 1736.5,392.3 1736.7,390.3 1737.0,388.4 1737.3,386.4 1737.6,384.4 1737.8,382.4 1738.1,380.5 1738.3,378.5 1738.5,376.5 1738.8,374.5 1739.0,372.5 1739.2,370.5 1739.5,368.6 1739.7,366.6 1740.0,364.6 1740.2,362.6 1740.5,360.6 1740.8,358.7 1741.1,356.7 1741.4,354.7 1741.8,352.7 1742.1,350.8 1742.5,348.8 1742.9,346.9 1743.3,344.9 1743.7,342.9 1744.1,341.0 1744.5,339.0 1745.0,337.1 1745.5,335.2 1745.9,333.2 1746.5,331.3 1747.0,329.4 1747.6,327.5 1748.2,325.6 1748.9,323.7 1749.6,321.8 1750.3,319.9 1751.0,318.1 1751.8,316.2 1752.6,314.4 1753.5,312.6 1754.4,310.9 1755.4,309.1 1756.5,307.4 1757.6,305.8 1758.9,304.2 1760.2,302.7 1761.5,301.2 1762.9,299.8 1764.4,298.5 1765.9,297.1 1767.4,295.8 1769.0,294.6 1770.6,293.4 1772.2,292.3 1773.9,291.2 1775.7,290.3 1777.5,289.5 1779.4,288.9 1781.3,288.5 1783.3,288.3 1785.3,288.5 1787.3,288.9 1789.1,289.6 1790.9,290.6 1792.6,291.7 1794.2,292.8 1795.7,294.1 1797.2,295.5 1798.6,296.9 1800.0,298.3 1801.4,299.8 1802.7,301.3 1803.9,302.8 1805.2,304.4 1806.3,306.0 1807.4,307.7 1808.4,309.4 1809.4,311.1 1810.4,312.9 1811.3,314.6 1812.2,316.4 1813.1,318.2 1813.9,320.0 1814.7,321.9 1815.5,323.7 1816.2,325.6 1816.9,327.5 1817.6,329.3 1818.2,331.2 1818.8,333.1 1819.5,335.0 1820.1,336.9 1820.7,338.8 1821.3,340.7 1822.0,342.6 1822.7,344.5 1823.4,346.3 1824.2,348.2 1825.0,350.0" stroke="#000"/>
<path d="M288.0,509.5 L288.1,507.5 288.3,505.5 288.4,503.5 288.6,501.5 288.7,499.5 288.8,497.6 289.0,495.6 289.1,493.6 289.2,491.6 289.4,489.6 289.5,487.6 289.6,485.6 289.8,483.6 289.9,481.6 290.1,479.6 290.3,477.6 290.4,475.7 290.6,473.7 290.8,471.7 291.0,469.7 291.2,467.7 291.4,465.7 291.6,463.7 291.8,461.8 292.0,459.8 292.2,457.8 292.4,455.8 292.7,453.8 292.9,451.8 293.1,449.9 293.4,447.9 293.7,445.9 293.9,443.9 294.2,442.0 294.6,440.0 294.9,438.0 295.3,436.0 295.6,434.1 296.0,432.1 296.4,430.2 296.8,428.2 297.2,426.3 297.6,424.3 298.0,422.3 298.3,420.4 298.7,418.4 299.0,416.4 299.3,414.5 299.5,412.5 299.8,410.5 300.0,408.5 300.3,406.5 300.5,404.6 300.7,402.6 301.0,400.6 301.2,398.6 301.4,396.6 301.7,394.7 301.9,392.7 302.1,390.7 302.3,388.7 302.6,386.7 302.8,384.7 303.1,382.8 303.3,380.8 303.6,378.8 303.8,376.8 304.1,374.8 304.4,372.9 304.7,370.9 305.0,368.9 305.3,366.9 305.6,365.0 305.9,363.0 306.2,361.0 306.5,359.1 306.8,357.1 307.1,355.1 307.5,353.2 307.8,351.2 308.2,349.2 308.6,347.3 309.0,345.3 309.5,343.4 309.9,341.4 310.4,339.5 310.9,337.6 311.5,335.7 312.0,333.7 312.6,331.8 313.2,329.9 313.8,328.0 314.5,326.1 315.1,324.2 315.7,322.3 316.3,320.4 317.0,318.5 317.6,316.6 318.2,314.7 318.8,312.8 319.3,310.9 319.9,309.0 320.5,307.1 321.0,305.2 321.6,303.3 322.1,301.3 322.7,299.4 323.2,297.5 323.8,295.6 324.3,293.7 324.9,291.7 325.4,289.8 326.0,287.9 326.6,286.0 327.2,284.1 327.8,282.2 328.5,280.3 329.2,278.5 329.8,276.6 330.6,274.7 331.3,272.9 332.1,271.0 332.9,269.2 333.9,267.5 334.9,265.7 336.0,264.1 337.1,262.5 338.4,260.9 339.7,259.4 341.1,258.0 342.6,256.7 344.1,255.4 345.7,254.1 347.3,253.0 349.0,251.9 350.7,250.9 352.5,250.0 354.3,249.2 356.2,248.5 358.1,248.0 360.1,247.6 362.1,247.6 364.1,247.8 366.0,248.4 367.8,249.1 369.6,250.1 371.2,251.2 372.8,252.5 374.3,253.8 375.7,255.2 377.1,256.6 378.4,258.1 379.7,259.6 380.9,261.2 382.1,262.9 383.1,264.5 384.2,266.2 385.1,268.0 386.0,269.8 386.9,271.6 387.7,273.4 388.5,275.2 389.3,277.1 390.0,278.9 390.8,280.8 391.5,282.6 392.2,284.5 392.9,286.4 393.6,288.2 394.2,290.1 394.8,292.0 395.4,293.9 396.0,295.9 396.5,297.8 397.1,299.7 397.6,301.6 398.1,303.5 398.6,305.5 399.1,307.4 399.6,309.3 400.1,311.3 400.6,313.2 401.1,315.1 401.6,317.1 402.1,319.0 402.6,320.9 403.1,322.9 403.6,324.8 404.0,326.8 404.5,328.7 405.0,330.6 405.4,332.6 405.9,334.5 406.3,336.5 406.8,338.4 407.3,340.3 407.7,342.3 408.2,344.2 408.6,346.2 409.0,348.1 409.5,350.1 409.9,352.0 410.4,354.0 410.8,355.9 411.3,357.9 411.7,359.8 412.1,361.8 412.6,363.7 413.0,365.6 413.4,367.6 413.8,369.6 414.2,371.5 414.5,373.5 414.8,375.5 415.1,377.4 415.4,379.4 415.7,381.4 415.9,383.4 416.2,385.3 416.4,387.3 416.7,389.3 416.9,391.3 417.1,393.3 417.3,395.3 417.6,397.2 417.8,399.2 418.0,401.2 418.2,403.2 418.4,405.2 418.6,407.2 418.8,409.2 419.0,411.1 419.2,413.1 419.4,415.1 419.6,417.1 419.8,419.1 420.0,421.1 420.2,423.1 420.3,425.0 420.5,427.0 420.7,429.0 420.9,431.0 421.1,433.0 421.3,435.0 421.5,437.0 421.7,438.9 421.9,440.9 422.1,442.9 422.3,444.9 422.5,446.9 422.7,448.9 422.9,450.9 423.1,452.8 423.3,454.8 423.5,456.8 423.7,458.8 423.9,460.8 424.1,462.8 424.3,464.8 424.5,466.7 424.7,468.7 424.9,470.7 425.1,472.7 425.3,474.7 425.5,476.7 425.7,478.7 425.9,480.7 426.1,482.6 426.3,484.6 426.5,486.6 426.7,488.6 426.9,490.6 427.1,492.6 427.3,494.6 427.5,496.5 427.7,498.5 427.9,500.5 428.0,502.5 428.2,504.5 428.4,506.5 428.6,508.5 428.8,510.4 429.0,512.4 429.2,514.4 429.4,516.4 429.6,518.4 429.8,520.4 430.0,522.4 430.2,524.3 430.4,526.3 430.6,528.3 430.8,530.3 431.0,532.3 431.2,534.3 431.4,536.3 431.6,538.2 431.8,540.2 432.0,542.2 432.2,544.2 432.4,546.2 432.6,548.2 432.8,550.2 433.0,552.1 433.2,554.1 433.5,556.1 433.7,558.1 433.9,560.1 434.1,562.1 434.3,564.1 434.5,566.0 434.7,568.0 434.9,570.0 435.2,572.0 435.4,574.0 435.6,576.0 435.8,577.9 436.0,579.9 436.3,581.9 436.5,583.9 436.7,585.9 436.9,587.9 437.2,589.8 437.4,591.8 437.6,593.8 437.8,595.8 438.1,597.8 438.3,599.8 438.5,601.7 438.8,603.7 439.0,605.7 439.2,607.7 439.5,609.7 439.7,611.6 440.0,613.6 440.2,615.6 440.4,617.6 440.7,619.6 440.9,621.6 441.1,623.5 441.4,625.5 441.6,627.5 L441.8,625.5 442.1,623.5 442.3,621.5 442.5,619.6 442.7,617.6 443.0,615.6 443.2,613.6 443.5,611.6 443.7,609.7 443.9,607.7 444.2,605.7 444.4,603.7 444.6,601.7 444.8,599.7 445.0,597.7 445.3,595.8 445.5,593.8 445.7,591.8 445.9,589.8 446.0,587.8 446.2,585.8 446.4,583.8 446.5,581.8 446.6,579.8 446.8,577.9 446.9,575.9 447.0,573.9 447.1,571.9 447.2,569.9 447.2,567.9 447.3,565.9 447.4,563.9 447.5,561.9 447.6,559.9 447.7,557.9 447.8,555.9 447.9,553.9 448.0,551.9 448.2,549.9 448.3,547.9 448.5,546.0 448.6,544.0 448.8,542.0 449.0,540.0 449.1,538.0 449.3,536.0 449.5,534.0 449.6,532.0 449.8,530.0 450.0,528.0 450.2,526.1 450.4,524.1 450.5,522.1 450.7,520.1 450.9,518.1 451.1,516.1 451.3,514.1 451.5,512.1 451.7,510.2 451.9,508.2 452.1,506.2 452.3,504.2 452.5,502.2 452.7,500.2 452.9,498.2 453.1,496.2 453.3,494.3 453.5,492.3 453.7,490.3 453.9,488.3 454.1,486.3 454.3,484.3 454.5,482.3 454.7,480.4 454.9,478.4 455.2,476.4 455.4,474.4 455.6,472.4 455.8,470.4 456.0,468.5 456.3,466.5 456.5,464.5 456.7,462.5 456.9,460.5 457.2,458.5 457.4,456.5 457.6,454.6 457.9,452.6 458.1,450.6 458.4,448.6 458.6,446.6 458.9,444.7 459.2,442.7 459.5,440.7 459.7,438.7 460.0,436.8 460.3,434.8 460.6,432.8 460.9,430.8 461.2,428.9 461.5,426.9 461.8,424.9 462.1,422.9 462.4,421.0 462.7,419.0 463.0,417.0 463.2,415.0 463.5,413.1 463.8,411.1 464.1,409.1 464.3,407.1 464.6,405.1 464.9,403.2 465.1,401.2 465.4,399.2 465.6,397.2 465.9,395.2 466.1,393.3 466.3,391.3 466.6,389.3 466.8,387.3 467.1,385.3 467.3,383.3 467.5,381.4 467.7,379.4 468.0,377.4 468.2,375.4 468.4,373.4 468.6,371.4 468.8,369.4 469.1,367.5 469.3,365.5 469.4,363.5 469.6,361.5 469.8,359.5 470.0,357.5 470.2,355.5 470.4,353.5 470.5,351.6 470.7,349.6 470.9,347.6 471.1,345.6 471.3,343.6 471.5,341.6 471.7,339.6 471.9,337.6 472.1,335.7 472.3,333.7 472.5,331.7 472.8,329.7 473.0,327.7 473.3,325.7 473.5,323.8 473.8,321.8 474.0,319.8 474.3,317.8 474.5,315.8 474.8,313.9 475.0,311.9 475.3,309.9 475.6,307.9 475.8,305.9 476.1,304.0 476.4,302.0 476.7,300.0 477.0,298.0 477.3,296.1 477.6,294.1 477.9,292.1 478.3,290.2 478.6,288.2 479.0,286.2 479.3,284.3 479.7,282.3 480.1,280.3 480.5,278.4 481.0,276.4 481.4,274.5 481.9,272.6 482.4,270.6 482.8,268.7 483.4,266.8 483.9,264.8 484.4,262.9 485.0,261.0 485.6,259.1 486.2,257.2 486.9,255.3 487.5,253.4 488.2,251.5 488.9,249.7 489.6,247.8 490.3,245.9 491.1,244.1 491.8,242.2 492.6,240.4 493.4,238.6 494.2,236.7 495.0,234.9 495.9,233.1 496.8,231.3 497.7,229.5 498.6,227.8 499.6,226.0 500.6,224.3 501.6,222.6 502.7,220.9 503.8,219.2 504.9,217.6 506.1,216.0 507.2,214.4 508.5,212.8 509.7,211.2 511.0,209.7 512.4,208.2 513.8,206.8 515.4,205.6 517.0,204.5 518.8,203.7 520.8,203.1 522.7,202.9 524.7,203.0 526.7,203.3 528.6,203.9 530.4,204.7 532.2,205.6 533.9,206.7 535.5,207.8 537.1,209.1 538.5,210.5 539.9,211.9 541.2,213.5 542.4,215.0 543.6,216.6 544.7,218.3 545.8,219.9 546.8,221.7 547.8,223.4 548.7,225.2 549.5,227.0 550.2,228.9 550.9,230.8 551.5,232.7 552.1,234.6 552.7,236.5 553.2,238.4 553.8,240.3 554.3,242.2 554.8,244.2 555.4,246.1 555.9,248.0 556.4,250.0 556.9,251.9 557.3,253.8 557.8,255.8 558.2,257.7 558.6,259.7 559.0,261.6 559.4,263.6 559.8,265.6 560.2,267.5 560.6,269.5 561.0,271.4 561.4,273.4 561.8,275.3 562.3,277.3 562.7,279.2 563.1,281.2 563.6,283.1 564.0,285.1 564.4,287.0 564.8,289.0 565.2,290.9 565.6,292.9 566.0,294.9 566.4,296.8 566.8,298.8 567.2,300.7 567.5,302.7 567.9,304.7 568.3,306.6 568.6,308.6 569.0,310.6 569.3,312.5 569.6,314.5 569.9,316.5 570.2,318.4 570.5,320.4 570.8,322.4 571.1,324.4 571.3,326.4 571.5,328.3 571.8,330.3 572.0,332.3 572.2,334.3 572.4,336.3 572.6,338.3 572.8,340.3 573.0,342.2 573.1,344.2 573.3,346.2 573.5,348.2 573.7,350.2 573.8,352.2 574.0,354.2 574.2,356.2 574.3,358.2 574.5,360.1 574.7,362.1 574.8,364.1 575.0,366.1 575.2,368.1 575.3,370.1 575.5,372.1 575.6,374.1 575.7,376.1 575.9,378.1 576.0,380.1 576.2,382.1 576.3,384.0 576.5,386.0 576.6,388.0 576.7,390.0 576.9,392.0 577.0,394.0 577.2,396.0 577.3,398.0 577.5,400.0 577.7,402.0 577.8,404.0 578.0,405.9 578.2,407.9 578.3,409.9 578.5,411.9 578.7,413.9 578.9,415.9 579.1,417.9 579.2,419.9 579.4,421.9 579.6,423.8 579.8,425.8 580.0,427.8 580.1,429.8 580.3,431.8 580.5,433.8 580.6,435.8 580.8,437.8 581.0,439.8 581.1,441.7 581.3,443.7 581.5,445.7 581.6,447.7 581.8,449.7 582.0,451.7 582.1,453.7 582.3,455.7 582.5,457.7 582.6,459.7 582.8,461.6 582.9,463.6 583.1,465.6 583.2,467.6 583.3,469.6 583.5,471.6 583.6,473.6 583.7,475.6 583.8,477.6 584.0,479.6 584.1,481.6 584.2,483.6 584.3,485.6 584.4,487.6 584.5,489.5 584.6,491.5 584.7,493.5 584.8,495.5 584.9,497.5 584.9,499.5 585.0,501.5 585.1,503.5 585.2,505.5 585.3,507.5 585.3,509.5 585.4,511.5 585.5,513.5 585.6,515.5 585.6,517.5 585.7,519.5 585.8,521.5 585.8,523.5 585.9,525.5 586.0,527.5 586.0,529.5 586.1,531.4 586.2,533.4 586.2,535.4 586.3,537.4 586.4,539.4 586.4,541.4 586.5,543.4 586.6,545.4 586.6,547.4 586.7,549.4 586.7,551.4 586.8,553.4 586.9,555.4 586.9,557.4 587.0,559.4 587.0,561.4 587.1,563.4 587.2,565.4 587.2,567.4 587.3,569.4 587.3,571.4 587.4,573.4 587.4,575.4 587.5,577.4 587.5,579.4 587.6,581.3 587.6,583.3 587.7,585.3 587.8,587.3 587.8,589.3 587.8,591.3 587.9,593.3 587.9,595.3 588.0,597.3 588.0,599.3 588.1,601.3 588.1,603.3 588.2,605.3 588.2,607.3 588.3,609.3 588.3,611.3 588.3,613.3 588.4,615.3 588.4,617.3 588.5,619.3 588.5,621.3 588.6,623.3 588.6,625.3 588.6,627.3 588.7,629.3 588.7,631.3 588.8,633.2 588.8,635.2 588.8,637.2 588.9,639.2 588.9,641.2 588.9,643.2 589.0,645.2 589.0,647.2 589.1,649.2 589.1,651.2 589.1,653.2 589.2,655.2 589.2,657.2 589.2,659.2 589.3,661.2 589.3,663.2 589.3,665.2 589.4,667.2 589.4,669.2 589.4,671.2 589.5,673.2 589.5,675.2 589.5,677.2 589.6,679.2 589.6,681.2 589.6,683.2 589.7,685.2 589.7,687.2 589.7,689.2 589.8,691.1 589.8,693.1 589.8,695.1 589.8,697.1 589.9,699.1 589.9,701.1 589.9,703.1 590.0,705.1 590.0,707.1 590.0,709.1 590.1,711.1 590.1,713.1 590.1,715.1 590.1,717.1 590.2,719.1 590.2,721.1 590.2,723.1 590.3,725.1 590.3,727.1 590.3,729.1 590.3,731.1 590.4,733.1 590.4,735.1 590.4,737.1 590.4,739.1 590.5,741.1 590.5,743.1 590.5,745.1 590.6,747.1 590.6,749.0 590.6,751.0 590.6,753.0 590.7,755.0 590.7,757.0 590.7,759.0 590.8,761.0 590.8,763.0 590.8,765.0 590.9,767.0 590.9,769.0 590.9,771.0 590.9,773.0 591.0,775.0 591.0,777.0 L591.1,775.0 591.3,773.0 591.4,771.0 591.5,769.0 591.7,767.0 591.8,765.0 592.0,763.1 592.1,761.1 592.2,759.1 592.4,757.1 592.5,755.1 592.7,753.1 592.8,751.1 593.0,749.1 593.1,747.1 593.3,745.1 593.4,743.1 593.5,741.1 593.7,739.2 593.8,737.2 593.9,735.2 594.1,733.2 594.2,731.2 594.3,729.2 594.4,727.2 594.5,725.2 594.6,723.2 594.7,721.2 594.8,719.2 594.9,717.2 595.0,715.2 595.1,713.2 595.2,711.2 595.3,709.2 595.4,707.2 595.4,705.2 595.5,703.3 595.6,701.3 595.6,699.3 595.7,697.3 595.7,695.3 595.8,693.3 595.8,691.3 595.8,689.3 595.9,687.3 595.9,685.3 595.9,683.3 596.0,681.3 596.0,679.3 596.0,677.3 596.1,675.3 596.1,673.3 596.1,671.3 596.1,669.3 596.2,667.3 596.2,665.3 596.2,663.3 596.2,661.3 596.3,659.3 596.3,657.3 596.3,655.3 596.3,653.3 596.3,651.3 596.4,649.3 596.4,647.3 596.4,645.3 596.4,643.4 596.5,641.4 596.5,639.4 596.5,637.4 596.6,635.4 596.6,633.4 596.6,631.4 596.7,629.4 596.7,627.4 596.7,625.4 596.8,623.4 596.8,621.4 596.9,619.4 596.9,617.4 597.0,615.4 597.1,613.4 597.1,611.4 597.2,609.4 597.3,607.4 597.4,605.4 597.4,603.4 597.5,601.4 597.6,599.4 597.7,597.4 597.8,595.4 597.9,593.5 598.0,591.5 598.1,589.5 598.2,587.5 598.3,585.5 598.4,583.5 598.5,581.5 598.6,579.5 598.7,577.5 598.8,575.5 598.9,573.5 599.0,571.5 599.1,569.5 599.2,567.5 599.3,565.5 599.3,563.5 599.4,561.5 599.5,559.5 599.6,557.5 599.7,555.6 599.8,553.6 599.8,551.6 599.9,549.6 600.0,547.6 600.0,545.6 600.1,543.6 600.2,541.6 600.3,539.6 600.3,537.6 600.4,535.6 600.5,533.6 600.5,531.6 600.6,529.6 600.7,527.6 600.7,525.6 600.8,523.6 600.9,521.6 600.9,519.6 601.0,517.6 601.1,515.6 601.1,513.6 601.2,511.6 601.3,509.6 601.3,507.7 601.4,505.7 601.5,503.7 601.6,501.7 601.6,499.7 601.7,497.7 601.8,495.7 601.9,493.7 602.0,491.7 602.1,489.7 602.1,487.7 602.2,485.7 602.3,483.7 602.4,481.7 602.5,479.7 602.6,477.7 602.7,475.7 602.8,473.7 602.9,471.7 603.0,469.7 603.2,467.8 603.3,465.8 603.4,463.8 603.5,461.8 603.6,459.8 603.7,457.8 603.9,455.8 604.0,453.8 604.1,451.8 604.2,449.8 604.4,447.8 604.5,445.8 604.6,443.8 604.8,441.8 604.9,439.9 605.0,437.9 605.1,435.9 605.3,433.9 605.4,431.9 605.5,429.9 605.7,427.9 605.8,425.9 605.9,423.9 606.1,421.9 606.2,419.9 606.3,417.9 606.5,415.9 606.6,413.9 606.7,412.0 606.9,410.0 607.0,408.0 607.1,406.0 607.2,404.0 607.4,402.0 607.5,400.0 607.6,398.0 607.7,396.0 607.9,394.0 608.0,392.0 608.1,390.0 608.2,388.0 608.3,386.0 608.4,384.0 608.6,382.1 608.7,380.1 608.8,378.1 608.9,376.1 609.0,374.1 609.1,372.1 609.2,370.1 609.3,368.1 609.5,366.1 609.6,364.1 609.7,362.1 609.8,360.1 609.9,358.1 610.0,356.1 610.2,354.1 610.3,352.2 610.4,350.2 610.5,348.2 610.6,346.2 610.8,344.2 610.9,342.2 611.0,340.2 611.1,338.2 611.3,336.2 611.4,334.2 611.6,332.2 611.7,330.2 611.9,328.2 612.0,326.2 612.2,324.3 612.3,322.3 612.5,320.3 612.7,318.3 612.8,316.3 613.0,314.3 613.2,312.3 613.4,310.3 613.6,308.3 613.8,306.4 614.0,304.4 614.2,302.4 614.4,300.4 614.6,298.4 614.8,296.4 615.1,294.4 615.3,292.5 615.5,290.5 615.7,288.5 616.0,286.5 616.2,284.5 616.4,282.5 616.7,280.6 616.9,278.6 617.1,276.6 617.4,274.6 617.6,272.6 617.8,270.6 618.0,268.7 618.3,266.7 618.5,264.7 618.7,262.7 618.9,260.7 619.1,258.7 619.3,256.7 619.5,254.8 619.8,252.8 620.0,250.8 620.2,248.8 620.4,246.8 620.6,244.8 620.8,242.8 621.0,240.9 621.2,238.9 621.5,236.9 621.7,234.9 621.9,232.9 622.1,230.9 622.3,228.9 622.6,227.0 622.8,225.0 623.0,223.0 623.3,221.0 623.5,219.0 623.8,217.1 624.0,215.1 624.3,213.1 624.6,211.1 624.8,209.1 625.1,207.2 625.4,205.2 625.8,203.2 626.1,201.2 626.5,199.3 626.9,197.3 627.3,195.4 627.8,193.4 628.3,191.5 628.8,189.6 629.3,187.6 629.8,185.7 630.3,183.8 630.9,181.9 631.4,179.9 631.9,178.0 632.3,176.1 632.8,174.1 633.3,172.2 633.7,170.2 634.2,168.3 634.6,166.3 635.1,164.4 635.6,162.5 636.0,160.5 636.5,158.6 636.9,156.6 637.4,154.7 637.8,152.7 638.2,150.8 638.7,148.8 639.1,146.9 639.6,144.9 640.1,143.0 640.7,141.1 641.4,139.2 642.2,137.4 643.1,135.6 644.0,133.8 645.0,132.1 646.1,130.4 647.2,128.8 648.4,127.2 649.7,125.6 650.9,124.1 652.3,122.6 653.7,121.2 655.3,119.9 656.9,118.8 658.6,117.7 660.3,116.8 662.2,116.0 664.1,115.4 666.0,114.8 667.9,114.2 669.8,113.6 671.7,113.0 673.6,112.5 675.5,111.9 677.5,111.4 679.4,111.0 681.4,110.7 683.4,110.6 685.4,110.6 687.3,111.0 689.2,111.6 691.0,112.5 692.7,113.5 694.3,114.7 695.8,116.0 697.3,117.4 698.6,118.9 699.9,120.4 701.2,121.9 702.5,123.5 703.6,125.1 704.8,126.8 705.8,128.4 706.8,130.2 707.8,131.9 708.7,133.7 709.5,135.5 710.3,137.4 711.1,139.2 711.8,141.1 712.4,143.0 713.1,144.8 713.7,146.8 714.2,148.7 714.7,150.6 715.2,152.6 715.6,154.5 715.9,156.5 716.2,158.5 716.5,160.4 716.7,162.4 717.0,164.4 717.2,166.4 717.4,168.4 717.6,170.4 717.8,172.3 718.0,174.3 718.3,176.3 718.6,178.3 718.9,180.3 719.2,182.2 719.5,184.2 719.9,186.2 720.2,188.1 720.5,190.1 720.7,192.1 721.0,194.1 721.2,196.1 721.5,198.0 721.7,200.0 721.9,202.0 722.1,204.0 722.4,206.0 722.6,208.0 722.8,209.9 723.0,211.9 723.2,213.9 723.4,215.9 723.6,217.9 723.8,219.9 724.0,221.9 724.2,223.9 724.4,225.8 724.6,227.8 724.8,229.8 725.0,231.8 725.2,233.8 725.4,235.8 725.6,237.8 725.8,239.7 726.0,241.7 726.2,243.7 726.4,245.7 726.6,247.7 726.8,249.7 727.1,251.7 727.3,253.6 727.5,255.6 727.7,257.6 727.9,259.6 728.2,261.6 728.4,263.6 728.6,265.6 728.8,267.5 729.0,269.5 729.3,271.5 729.5,273.5 729.7,275.5 729.9,277.5 730.1,279.5 730.3,281.4 730.5,283.4 730.6,285.4 730.8,287.4 731.0,289.4 731.2,291.4 731.3,293.4 731.5,295.4 731.6,297.4 731.7,299.4 731.9,301.3 732.0,303.3 732.1,305.3 732.2,307.3 732.2,309.3 732.3,311.3 732.4,313.3 732.4,315.3 732.5,317.3 732.5,319.3 732.6,321.3 732.6,323.3 732.6,325.3 732.7,327.3 732.7,329.3 732.7,331.3 732.8,333.3 732.8,335.3 732.8,337.3 732.8,339.3 732.9,341.3 732.9,343.3 733.0,345.3 733.0,347.3 733.1,349.3 733.1,351.3 733.2,353.3 733.3,355.2 733.3,357.2 733.4,359.2 733.5,361.2 733.7,363.2 733.8,365.2 733.9,367.2 734.1,369.2 734.2,371.2 734.4,373.2 734.5,375.2 734.7,377.2 734.9,379.2 735.1,381.1 735.2,383.1 735.4,385.1 735.6,387.1 735.8,389.1 736.0,391.1 736.2,393.1 736.4,395.1 736.6,397.0 736.8,399.0 736.9,401.0 737.1,403.0 737.3,405.0 L737.5,403.0 737.7,401.0 737.8,399.0 738.0,397.0 738.2,395.0 738.4,393.1 738.6,391.1 738.8,389.1 739.0,387.1 739.2,385.1 739.4,383.1 739.6,381.1 739.7,379.1 739.9,377.1 740.1,375.1 740.2,373.1 740.4,371.1 740.6,369.2 740.7,367.2 740.8,365.2 740.9,363.2 741.1,361.2 741.1,359.2 741.2,357.2 741.3,355.2 741.3,353.2 741.4,351.2 741.4,349.2 741.4,347.2 741.4,345.2 741.4,343.2 741.4,341.2 741.4,339.2 741.4,337.2 741.4,335.2 741.5,333.2 741.5,331.2 741.5,329.2 741.6,327.2 741.6,325.2 741.6,323.2 741.7,321.2 741.7,319.2 741.8,317.2 741.8,315.2 741.9,313.2 741.9,311.2 742.0,309.2 742.0,307.2 742.1,305.2 742.1,303.2 742.2,301.2 742.2,299.2 742.3,297.2 742.3,295.2 742.4,293.2 742.4,291.2 742.5,289.2 742.5,287.2 742.6,285.2 742.7,283.2 742.7,281.2 742.8,279.2 742.8,277.2 742.9,275.2 743.0,273.2 743.0,271.2 743.1,269.2 743.2,267.2 743.3,265.2 743.3,263.2 743.4,261.2 743.5,259.2 743.6,257.2 743.7,255.2 743.8,253.2 743.9,251.2 744.0,249.2 744.1,247.2 744.2,245.2 744.3,243.2 744.4,241.3 744.6,239.3 744.7,237.3 744.8,235.3 744.9,233.3 745.1,231.3 745.2,229.3 745.4,227.3 745.5,225.3 745.6,223.3 745.8,221.3 745.9,219.3 746.1,217.3 746.3,215.3 746.4,213.3 746.6,211.3 746.8,209.3 747.0,207.4 747.2,205.4 747.4,203.4 747.6,201.4 747.9,199.4 748.1,197.4 748.3,195.4 748.5,193.4 748.7,191.5 748.9,189.5 749.0,187.5 749.1,185.5 749.3,183.5 749.4,181.5 749.4,179.5 749.5,177.5 749.6,175.5 749.6,173.5 749.7,171.5 749.8,169.5 749.8,167.5 749.9,165.5 750.0,163.5 750.1,161.5 750.2,159.5 750.3,157.5 750.4,155.5 750.6,153.5 750.7,151.5 750.9,149.5 751.1,147.5 751.3,145.5 751.5,143.6 751.7,141.6 751.9,139.6 752.1,137.6 752.4,135.6 752.6,133.6 752.9,131.6 753.2,129.7 753.4,127.7 753.8,125.7 754.1,123.7 754.5,121.8 754.9,119.8 755.3,117.9 755.7,115.9 756.2,114.0 756.8,112.0 757.4,110.1 758.0,108.2 758.6,106.3 759.3,104.5 760.1,102.6 760.9,100.8 761.7,99.0 762.6,97.2 763.5,95.4 764.5,93.7 765.6,92.0 766.7,90.3 767.9,88.7 769.1,87.1 770.4,85.6 771.8,84.1 773.2,82.7 774.7,81.4 776.2,80.1 777.8,78.9 779.5,77.9 781.3,76.9 783.1,76.1 784.9,75.3 786.8,74.6 788.7,74.1 790.7,73.5 792.6,73.0 794.6,72.6 796.5,72.2 798.5,71.8 800.5,71.5 802.4,71.2 804.4,71.0 806.4,70.8 808.4,70.6 810.4,70.5 812.4,70.4 814.4,70.3 816.4,70.2 818.4,70.2 820.4,70.1 822.4,70.1 824.4,70.1 826.4,70.2 828.4,70.2 830.4,70.2 832.4,70.2 834.4,70.3 836.4,70.3 838.4,70.4 840.4,70.4 842.4,70.4 844.4,70.5 846.4,70.5 848.4,70.6 850.4,70.6 852.4,70.7 854.4,70.8 856.4,70.8 858.4,70.9 860.4,71.0 862.4,71.1 864.4,71.1 866.4,71.2 868.4,71.3 870.4,71.3 872.4,71.4 874.4,71.5 876.4,71.6 878.3,71.6 880.3,71.7 882.3,71.8 884.3,71.9 886.3,71.9 888.3,72.0 890.3,72.1 892.3,72.2 894.3,72.2 896.3,72.3 898.3,72.4 900.3,72.4 902.3,72.5 904.3,72.5 906.3,72.6 908.3,72.7 910.3,72.7 912.3,72.8 914.3,72.8 916.3,72.9 918.3,72.9 920.3,73.0 922.3,73.0 924.3,73.1 926.3,73.1 928.3,73.2 930.3,73.2 932.3,73.3 934.3,73.3 936.3,73.4 938.3,73.4 940.3,73.5 942.3,73.5 944.3,73.6 946.3,73.6 948.3,73.7 950.3,73.7 952.3,73.8 954.3,73.8 956.3,73.8 958.3,73.9 960.3,73.9 962.3,74.0 964.3,74.0 966.3,74.0 968.3,74.1 970.3,74.1 972.3,74.1 974.3,74.2 976.3,74.2 978.3,74.2 980.3,74.2 982.3,74.3 984.3,74.3 986.3,74.3 988.3,74.3 990.3,74.4 992.3,74.4 994.3,74.4 996.3,74.4 998.3,74.4 1000.3,74.4 1002.3,74.5 1004.3,74.5 1006.3,74.5 1008.3,74.5 1010.3,74.5 1012.3,74.5 1014.3,74.5 1016.3,74.6 1018.3,74.6 1020.3,74.6 1022.3,74.6 1024.3,74.6 1026.3,74.6 1028.3,74.6 1030.3,74.6 1032.3,74.6 1034.3,74.6 1036.3,74.6 1038.3,74.6 1040.3,74.6 1042.3,74.6 1044.3,74.6 1046.3,74.6 1048.3,74.6 1050.3,74.6 1052.3,74.6 1054.3,74.6 1056.3,74.6 1058.3,74.6 1060.3,74.6 1062.3,74.6 1064.3,74.6 1066.3,74.6 1068.3,74.6 1070.3,74.6 1072.3,74.5 1074.3,74.5 1076.3,74.5 1078.3,74.5 1080.3,74.5 1082.3,74.5 1084.3,74.4 1086.3,74.4 1088.3,74.4 1090.3,74.3 1092.3,74.3 1094.3,74.2 1096.3,74.2 1098.3,74.1 1100.3,74.1 1102.3,74.0 1104.3,74.0 1106.3,73.9 1108.3,73.9 1110.3,73.8 1112.3,73.8 1114.3,73.7 1116.3,73.6 1118.3,73.6 1120.3,73.5 1122.3,73.5 1124.3,73.4 1126.3,73.4 1128.3,73.3 1130.3,73.2 1132.3,73.2 1134.2,73.1 1136.2,73.1 1138.2,73.0 1140.2,73.0 1142.2,72.9 1144.2,72.8 1146.2,72.8 1148.2,72.7 1150.2,72.6 1152.2,72.6 1154.2,72.5 1156.2,72.4 1158.2,72.4 1160.2,72.3 1162.2,72.2 1164.2,72.2 1166.2,72.1 1168.2,72.0 1170.2,71.9 1172.2,71.9 1174.2,71.8 1176.2,71.7 1178.2,71.6 1180.2,71.6 1182.2,71.5 1184.2,71.4 1186.2,71.3 1188.2,71.2 1190.2,71.2 1192.2,71.1 1194.2,71.0 1196.2,70.9 1198.2,70.8 1200.2,70.7 1202.2,70.7 1204.2,70.6 1206.2,70.5 1208.2,70.5 1210.2,70.4 1212.2,70.3 1214.2,70.3 1216.2,70.2 1218.2,70.2 1220.2,70.2 1222.2,70.1 1224.2,70.1 1226.2,70.0 1228.2,70.0 1230.2,70.0 1232.2,69.9 1234.2,69.9 1236.2,69.8 1238.2,69.8 1240.2,69.7 1242.2,69.6 1244.2,69.5 1246.2,69.5 1248.2,69.4 1250.2,69.3 1252.2,69.2 1254.2,69.1 1256.2,69.0 1258.2,68.9 1260.1,68.8 1262.1,68.7 1264.1,68.6 1266.1,68.6 1268.1,68.5 1270.1,68.4 1272.1,68.4 1274.1,68.3 1276.1,68.2 1278.1,68.1 1280.1,68.0 1282.1,67.9 1284.1,67.8 1286.1,67.8 1288.1,67.7 1290.1,67.7 1292.1,67.7 1294.1,67.8 1296.1,67.9 1298.1,68.1 1300.1,68.3 1302.1,68.5 1304.1,68.8 1306.0,69.2 1308.0,69.6 1309.9,70.0 1311.9,70.4 1313.8,70.9 1315.8,71.4 1317.7,71.9 1319.6,72.5 1321.5,73.0 1323.5,73.6 1325.4,74.3 1327.2,74.9 1329.1,75.6 1331.0,76.3 1332.8,77.1 1334.7,77.9 1336.5,78.7 1338.3,79.7 1340.0,80.6 1341.7,81.7 1343.3,82.9 1344.9,84.1 1346.3,85.5 1347.8,86.9 1349.1,88.4 1350.4,89.9 1351.7,91.4 1352.9,93.0 1354.1,94.6 1355.3,96.2 1356.5,97.8 1357.6,99.5 1358.7,101.1 1359.7,102.9 1360.7,104.6 1361.6,106.4 1362.4,108.2 1363.2,110.1 1363.9,111.9 1364.5,113.8 1365.1,115.8 1365.6,117.7 1366.1,119.6 1366.5,121.6 1366.9,123.5 1367.2,125.5 1367.6,127.5 1367.9,129.5 1368.2,131.4 1368.5,133.4 1368.8,135.4 1369.1,137.4 1369.4,139.3 1369.7,141.3 1369.9,143.3 1370.2,145.3 1370.5,147.3 1370.8,149.2 1371.1,151.2 1371.4,153.2 1371.7,155.2 1372.0,157.2 1372.3,159.1 1372.6,161.1 1372.8,163.1 1373.1,165.1 1373.4,167.1 1373.6,169.0 1373.9,171.0 1374.1,173.0 1374.4,175.0 1374.6,177.0 1374.9,179.0 1375.1,180.9 1375.4,182.9 1375.6,184.9 1375.8,186.9 1376.1,188.9 1376.3,190.9 1376.5,192.9 1376.8,194.8 1377.0,196.8 1377.2,198.8 1377.4,200.8 1377.6,202.8 1377.9,204.8 1378.1,206.8 1378.3,208.8 1378.5,210.7 1378.7,212.7 1378.9,214.7 1379.1,216.7 1379.3,218.7 1379.5,220.7 1379.7,222.7 1379.9,224.7 1380.0,226.7 1380.2,228.7 1380.4,230.7 1380.5,232.6 1380.7,234.6 1380.9,236.6 1381.0,238.6 1381.2,240.6 1381.3,242.6 1381.5,244.6 1381.6,246.6 1381.7,248.6 1381.9,250.6 1382.0,252.6 1382.2,254.6 1382.3,256.6 1382.4,258.6 1382.6,260.6 1382.7,262.6 1382.8,264.6 1383.0,266.6 1383.1,268.5 1383.3,270.5 1383.4,272.5 1383.6,274.5 1383.7,276.5 1383.9,278.5 1384.0,280.5 1384.2,282.5 1384.4,284.5 1384.5,286.5 1384.7,288.5 1384.9,290.5 1385.1,292.5 1385.3,294.5 1385.5,296.4 1385.6,298.4 1385.8,300.4 1386.0,302.4 1386.2,304.4 1386.4,306.4 1386.6,308.4 1386.8,310.4 1387.0,312.4 1387.2,314.4 1387.4,316.3 1387.6,318.3 1387.8,320.3 1388.1,322.3 1388.3,324.3 1388.5,326.3 1388.7,328.3 1389.0,330.3 1389.2,332.2 1389.5,334.2 1389.8,336.2 1390.0,338.2 1390.3,340.2 1390.6,342.1 1390.9,344.1 1391.1,346.1 1391.4,348.1 1391.6,350.1 1391.8,352.1 1392.0,354.1 1392.2,356.0 1392.3,358.0 1392.5,360.0 1392.6,362.0 1392.7,364.0 1392.8,366.0 1392.9,368.0 1393.0,370.0 1393.1,372.0 1393.2,374.0 1393.3,376.0 1393.3,378.0 1393.4,380.0 1393.5,382.0 1393.6,384.0 1393.7,386.0 1393.8,388.0 L1393.9,386.0 1394.1,384.0 1394.2,382.0 1394.3,380.0 1394.5,378.0 1394.6,376.0 1394.7,374.1 1394.9,372.1 1395.0,370.1 1395.1,368.1 1395.3,366.1 1395.4,364.1 1395.5,362.1 1395.7,360.1 1395.8,358.1 1395.9,356.1 1396.1,354.1 1396.2,352.1 1396.3,350.1 1396.5,348.2 1396.6,346.2 1396.8,344.2 1396.9,342.2 1397.1,340.2 1397.2,338.2 1397.4,336.2 1397.5,334.2 1397.7,332.2 1397.9,330.2 1398.0,328.2 1398.2,326.3 1398.4,324.3 1398.6,322.3 1398.8,320.3 1399.0,318.3 1399.2,316.3 1399.4,314.3 1399.6,312.3 1399.8,310.4 1400.0,308.4 1400.2,306.4 1400.4,304.4 1400.6,302.4 1400.8,300.4 1401.0,298.4 1401.2,296.5 1401.4,294.5 1401.7,292.5 1401.9,290.5 1402.1,288.5 1402.3,286.5 1402.5,284.5 1402.7,282.6 1402.9,280.6 1403.1,278.6 1403.3,276.6 1403.5,274.6 1403.6,272.6 1403.8,270.6 1404.0,268.6 1404.1,266.7 1404.3,264.7 1404.4,262.7 1404.5,260.7 1404.7,258.7 1404.8,256.7 1404.9,254.7 1405.0,252.7 1405.2,250.7 1405.3,248.7 1405.4,246.7 1405.6,244.7 1405.8,242.7 1406.0,240.8 1406.2,238.8 1406.4,236.8 1406.6,234.8 1406.8,232.8 1407.1,230.8 1407.3,228.9 1407.6,226.9 1407.8,224.9 1408.1,222.9 1408.4,220.9 1408.6,219.0 1408.9,217.0 1409.3,215.0 1409.6,213.0 1409.9,211.1 1410.3,209.1 1410.6,207.1 1411.0,205.2 1411.4,203.2 1411.8,201.3 1412.2,199.3 1412.7,197.4 1413.1,195.4 1413.6,193.5 1414.1,191.6 1414.6,189.6 1415.1,187.7 1415.7,185.8 1416.3,183.9 1416.9,182.0 1417.5,180.1 1418.2,178.2 1418.9,176.3 1419.7,174.5 1420.5,172.7 1421.3,170.9 1422.2,169.1 1423.2,167.3 1424.2,165.6 1425.2,163.9 1426.3,162.2 1427.4,160.6 1428.6,159.0 1429.8,157.4 1431.1,155.8 1432.4,154.3 1433.8,152.9 1435.4,151.7 1437.0,150.5 1438.8,149.6 1440.7,149.0 1442.7,148.6 1444.6,148.6 1446.6,148.8 1448.6,149.2 1450.5,149.8 1452.3,150.6 1454.1,151.6 1455.7,152.7 1457.3,153.9 1458.7,155.3 1460.1,156.7 1461.4,158.3 1462.5,159.9 1463.7,161.5 1464.7,163.2 1465.8,164.9 1466.8,166.7 1467.7,168.4 1468.7,170.2 1469.6,171.9 1470.5,173.7 1471.4,175.5 1472.2,177.3 1473.0,179.2 1473.8,181.0 1474.5,182.9 1475.2,184.7 1475.9,186.6 1476.6,188.5 1477.2,190.4 1477.8,192.3 1478.5,194.2 1479.1,196.1 1479.6,198.0 1480.2,199.9 1480.8,201.8 1481.3,203.7 1481.8,205.7 1482.3,207.6 1482.8,209.5 1483.3,211.5 1483.8,213.4 1484.3,215.3 1484.7,217.3 1485.2,219.2 1485.6,221.2 1486.1,223.1 1486.5,225.1 1486.9,227.0 1487.4,229.0 1487.8,230.9 1488.2,232.9 1488.6,234.8 1489.0,236.8 1489.3,238.8 1489.7,240.7 1490.1,242.7 1490.4,244.7 1490.8,246.6 1491.2,248.6 1491.5,250.5 1491.9,252.5 1492.2,254.5 1492.6,256.4 1492.9,258.4 1493.3,260.4 1493.6,262.3 1494.0,264.3 1494.3,266.3 1494.6,268.2 1495.0,270.2 1495.3,272.2 1495.7,274.1 1496.0,276.1 1496.3,278.1 1496.6,280.1 1497.0,282.0 1497.3,284.0 1497.6,286.0 1497.9,287.9 1498.2,289.9 1498.6,291.9 1498.9,293.9 1499.2,295.8 1499.5,297.8 1499.8,299.8 1500.1,301.7 1500.4,303.7 1500.7,305.7 1501.0,307.7 1501.3,309.6 1501.6,311.6 1501.8,313.6 1502.1,315.6 1502.4,317.5 1502.7,319.5 1503.0,321.5 1503.3,323.5 1503.5,325.5 1503.8,327.4 1504.0,329.4 1504.3,331.4 1504.5,333.4 1504.8,335.4 1505.0,337.3 1505.2,339.3 1505.4,341.3 1505.6,343.3 1505.8,345.3 1506.0,347.3 1506.1,349.3 1506.3,351.3 1506.4,353.3 1506.6,355.2 1506.7,357.2 1506.8,359.2 1506.9,361.2 1506.9,363.2 1507.0,365.2 1507.1,367.2 1507.2,369.2 1507.3,371.2 1507.4,373.2 1507.5,375.2 1507.6,377.2 1507.7,379.2 1507.8,381.2 1507.9,383.2 1508.0,385.2 1508.2,387.2 1508.3,389.1 1508.4,391.1 1508.6,393.1 1508.7,395.1 1508.8,397.1 1509.0,399.1 1509.1,401.1 1509.3,403.1 1509.4,405.1 1509.6,407.1 1509.7,409.1 1509.9,411.1 1510.0,413.0 1510.2,415.0 1510.4,417.0 1510.5,419.0 1510.7,421.0 1510.8,423.0 1511.0,425.0 1511.1,427.0 1511.3,429.0 1511.5,431.0 1511.6,432.9 1511.8,434.9 1511.9,436.9 1512.1,438.9 1512.2,440.9 1512.4,442.9 1512.6,444.9 1512.7,446.9 1512.9,448.9 1513.0,450.9 1513.2,452.9 1513.3,454.8 1513.5,456.8 1513.7,458.8 1513.8,460.8 1514.0,462.8 1514.1,464.8 1514.3,466.8 1514.4,468.8 1514.6,470.8 1514.7,472.8 1514.9,474.8 1515.0,476.7 1515.2,478.7 1515.3,480.7 1515.4,482.7 1515.6,484.7 1515.7,486.7 1515.9,488.7 1516.0,490.7 1516.1,492.7 1516.3,494.7 1516.4,496.7 1516.5,498.7 1516.7,500.7 1516.8,502.6 1516.9,504.6 1517.0,506.6 1517.1,508.6 1517.2,510.6 1517.4,512.6 1517.5,514.6 1517.6,516.6 1517.7,518.6 1517.8,520.6 1517.9,522.6 1518.0,524.6 1518.0,526.6 1518.1,528.6 1518.2,530.6 1518.3,532.6 1518.4,534.6 1518.5,536.5 1518.5,538.5 1518.6,540.5 1518.7,542.5 1518.7,544.5 1518.8,546.5 1518.9,548.5 1518.9,550.5 1519.0,552.5 1519.1,554.5 1519.1,556.5 1519.2,558.5 1519.2,560.5 1519.3,562.5 1519.3,564.5 1519.4,566.5 1519.5,568.5 1519.5,570.5 1519.6,572.5 1519.6,574.5 1519.7,576.5 1519.7,578.5 1519.8,580.5 1519.8,582.5 1519.9,584.4 1519.9,586.4 1520.0,588.4 1520.0,590.4 1520.1,592.4 1520.1,594.4 1520.2,596.4 1520.3,598.4 1520.3,600.4 1520.4,602.4 1520.4,604.4 1520.5,606.4 1520.5,608.4 1520.6,610.4 1520.6,612.4 1520.6,614.4 1520.7,616.4 1520.7,618.4 1520.8,620.4 1520.8,622.4 1520.8,624.4 1520.9,626.4 1520.9,628.4 1520.9,630.4 1521.0,632.4 1521.0,634.4 1521.0,636.3 1521.1,638.3 1521.1,640.3 1521.1,642.3 1521.2,644.3 1521.2,646.3 1521.2,648.3 1521.3,650.3 1521.3,652.3 1521.4,654.3 1521.4,656.3 1521.5,658.3 1521.6,660.3 1521.6,662.3 1521.7,664.3 1521.8,666.3 1521.9,668.3 1522.0,670.3 1522.1,672.3 1522.2,674.3 1522.4,676.3 1522.5,678.2 1522.7,680.2 1522.8,682.2 1523.0,684.2 1523.2,686.2 1523.4,688.2 1523.6,690.2 1523.8,692.2 1524.1,694.1 1524.3,696.1 1524.6,698.1 1524.8,700.1 1525.1,702.1 1525.3,704.1 1525.5,706.0 1525.8,708.0 1526.0,710.0 L1526.2,708.0 1526.4,706.0 1526.6,704.0 1526.8,702.1 1527.0,700.1 1527.3,698.1 1527.5,696.1 1527.7,694.1 1527.9,692.1 1528.1,690.1 1528.3,688.2 1528.5,686.2 1528.7,684.2 1529.0,682.2 1529.2,680.2 1529.4,678.2 1529.7,676.3 1530.0,674.3 1530.2,672.3 1530.5,670.3 1530.8,668.3 1531.1,666.4 1531.4,664.4 1531.7,662.4 1532.0,660.5 1532.3,658.5 1532.6,656.5 1532.9,654.5 1533.2,652.6 1533.5,650.6 1533.8,648.6 1534.0,646.6 1534.3,644.6 1534.5,642.7 1534.7,640.7 1535.0,638.7 1535.2,636.7 1535.4,634.7 1535.5,632.7 1535.7,630.7 1535.9,628.7 1536.1,626.8 1536.3,624.8 1536.4,622.8 1536.6,620.8 1536.7,618.8 1536.9,616.8 1537.0,614.8 1537.2,612.8 1537.3,610.8 1537.5,608.8 1537.6,606.9 1537.8,604.9 1537.9,602.9 1538.0,600.9 1538.2,598.9 1538.3,596.9 1538.4,594.9 1538.5,592.9 1538.7,590.9 1538.8,588.9 1538.9,586.9 1539.0,584.9 1539.1,582.9 1539.3,580.9 1539.4,579.0 1539.5,577.0 1539.6,575.0 1539.7,573.0 1539.8,571.0 1539.9,569.0 1540.0,567.0 1540.1,565.0 1540.2,563.0 1540.3,561.0 1540.4,559.0 1540.5,557.0 1540.6,555.0 1540.7,553.0 1540.8,551.0 1540.9,549.0 1541.0,547.0 1541.1,545.0 1541.1,543.1 1541.2,541.1 1541.3,539.1 1541.3,537.1 1541.4,535.1 1541.4,533.1 1541.5,531.1 1541.5,529.1 1541.5,527.1 1541.6,525.1 1541.6,523.1 1541.6,521.1 1541.6,519.1 1541.7,517.1 1541.7,515.1 1541.7,513.1 1541.7,511.1 1541.7,509.1 1541.8,507.1 1541.8,505.1 1541.8,503.1 1541.9,501.1 1541.9,499.1 1542.0,497.1 1542.0,495.1 1542.1,493.1 1542.1,491.1 1542.2,489.1 1542.3,487.2 1542.4,485.2 1542.5,483.2 1542.6,481.2 1542.8,479.2 1542.9,477.2 1543.1,475.2 1543.3,473.2 1543.5,471.2 1543.7,469.2 1543.9,467.3 1544.2,465.3 1544.4,463.3 1544.7,461.3 1545.0,459.3 1545.3,457.4 1545.6,455.4 1545.9,453.4 1546.1,451.4 1546.4,449.5 1546.7,447.5 1547.0,445.5 1547.2,443.5 1547.4,441.5 1547.6,439.6 1547.8,437.6 1548.0,435.6 1548.1,433.6 1548.2,431.6 1548.3,429.6 1548.4,427.6 1548.5,425.6 1548.5,423.6 1548.6,421.6 1548.6,419.6 1548.6,417.6 1548.7,415.6 1548.7,413.6 1548.8,411.6 1548.9,409.6 1549.0,407.6 1549.1,405.6 1549.2,403.7 1549.3,401.7 1549.5,399.7 1549.6,397.7 1549.8,395.7 1550.0,393.7 1550.2,391.7 1550.4,389.7 1550.5,387.7 1550.7,385.7 1550.9,383.8 1551.2,381.8 1551.4,379.8 1551.6,377.8 1551.8,375.8 1552.0,373.8 1552.3,371.9 1552.5,369.9 1552.8,367.9 1553.0,365.9 1553.3,363.9 1553.6,362.0 1553.9,360.0 1554.2,358.0 1554.5,356.0 1554.8,354.1 1555.2,352.1 1555.6,350.1 1555.9,348.2 1556.3,346.2 1556.7,344.3 1557.2,342.3 1557.6,340.4 1558.1,338.4 1558.5,336.5 1559.0,334.5 1559.5,332.6 1560.0,330.7 1560.6,328.8 1561.2,326.9 1561.7,324.9 1562.4,323.0 1563.0,321.2 1563.7,319.3 1564.4,317.4 1565.1,315.5 1565.8,313.7 1566.6,311.8 1567.4,310.0 1568.3,308.2 1569.2,306.5 1570.2,304.7 1571.3,303.1 1572.5,301.4 1573.8,299.9 1575.2,298.5 1576.6,297.1 1578.1,295.8 1579.6,294.5 1581.1,293.2 1582.6,291.8 1584.1,290.5 1585.6,289.2 1587.2,287.9 1588.8,286.8 1590.5,285.8 1592.3,285.0 1594.3,284.6 1596.3,284.6 1598.2,285.0 1600.1,285.7 1601.8,286.7 1603.5,287.8 1605.0,289.1 1606.5,290.4 1607.9,291.9 1609.2,293.3 1610.5,294.8 1611.8,296.4 1613.0,298.0 1614.1,299.7 1615.2,301.3 1616.2,303.0 1617.2,304.8 1618.1,306.6 1619.0,308.3 1619.9,310.1 1620.7,312.0 1621.5,313.8 1622.2,315.6 1623.0,317.5 1623.6,319.4 1624.3,321.3 1624.9,323.2 1625.5,325.1 1626.1,327.0 1626.6,328.9 1627.1,330.8 1627.6,332.8 1628.1,334.7 1628.6,336.7 1629.1,338.6 1629.5,340.5 1630.0,342.5 1630.5,344.4 1630.9,346.4 1631.4,348.3 1631.9,350.2 1632.4,352.2 1632.9,354.1 1633.4,356.0 1633.9,358.0 1634.4,359.9 1634.9,361.8 1635.4,363.8 1635.8,365.7 1636.3,367.6 1636.8,369.6 1637.3,371.5 1637.7,373.5 1638.2,375.4 1638.6,377.4 1639.0,379.3 1639.4,381.3 1639.8,383.2 1640.2,385.2 1640.6,387.2 1641.0,389.1 1641.3,391.1 1641.7,393.0 1642.0,395.0 1642.4,397.0 1642.7,398.9 1643.1,400.9 1643.4,402.9 1643.7,404.8 1644.0,406.8 1644.4,408.8 1644.7,410.8 1645.0,412.7 1645.3,414.7 1645.6,416.7 1645.9,418.7 1646.2,420.6 1646.5,422.6 1646.8,424.6 1647.1,426.6 1647.4,428.5 1647.7,430.5 1648.0,432.5 1648.3,434.5 1648.5,436.4 1648.8,438.4 1649.1,440.4 1649.4,442.4 1649.7,444.3 1649.9,446.3 1650.2,448.3 1650.5,450.3 1650.8,452.3 1651.0,454.2 1651.3,456.2 1651.6,458.2 1651.9,460.2 1652.1,462.1 1652.4,464.1 1652.7,466.1 1652.9,468.1 1653.2,470.1 1653.4,472.0 1653.7,474.0 1653.9,476.0 1654.2,478.0 1654.4,480.0 1654.7,482.0 1654.9,483.9 1655.1,485.9 1655.4,487.9 1655.6,489.9 1655.8,491.9 1656.0,493.8 1656.3,495.8 1656.5,497.8 1656.7,499.8 1656.9,501.8 1657.2,503.8 1657.4,505.8 1657.6,507.7 1657.8,509.7 1658.0,511.7 1658.3,513.7 1658.5,515.7 1658.7,517.7 1658.9,519.6 1659.1,521.6 1659.3,523.6 1659.6,525.6 1659.8,527.6 1660.0,529.6 1660.2,531.6 1660.4,533.5 1660.7,535.5 1660.9,537.5 1661.1,539.5 1661.3,541.5 1661.5,543.5 1661.8,545.5 1662.0,547.4 1662.2,549.4 1662.5,551.4 1662.7,553.4 1662.9,555.4 1663.2,557.3 1663.4,559.3 1663.7,561.3 1663.9,563.3 1664.2,565.3 1664.5,567.2 1664.8,569.2 1665.1,571.2 1665.4,573.2 1665.7,575.1 1665.9,577.1 1666.2,579.1 1666.5,581.1 1666.8,583.0 1667.1,585.0 1667.4,587.0 1667.7,589.0 1667.9,591.0 1668.2,592.9 1668.4,594.9 1668.6,596.9 1668.8,598.9 1669.0,600.9 1669.2,602.9 1669.3,604.9 1669.4,606.9 1669.5,608.9 1669.6,610.8 1669.7,612.8 1669.7,614.8 1669.8,616.8 1669.9,618.8 1669.9,620.8 1670.0,622.8 1670.0,624.8 1670.1,626.8 1670.2,628.8 1670.3,630.8 1670.4,632.8 1670.6,634.8 1670.8,636.8 1671.0,638.8 1671.2,640.7 1671.5,642.7 1671.9,644.7 1672.2,646.7 1672.6,648.6 1673.0,650.6 1673.4,652.5 1673.8,654.5 1674.2,656.4 1674.6,658.4 1675.0,660.3 1675.4,662.3 1675.8,664.3 1676.3,666.2 1676.7,668.2 1677.1,670.1 1677.6,672.1 1678.0,674.0 L1678.5,672.1 1678.9,670.1 1679.4,668.2 1679.9,666.2 1680.3,664.3 1680.8,662.3 1681.2,660.4 1681.7,658.4 1682.1,656.5 1682.5,654.5 1682.9,652.6 1683.2,650.6 1683.6,648.7 1683.9,646.7 1684.3,644.7 1684.6,642.7 1684.8,640.8 1685.1,638.8 1685.4,636.8 1685.6,634.8 1685.8,632.8 1686.1,630.9 1686.3,628.9 1686.5,626.9 1686.6,624.9 1686.8,622.9 1687.0,620.9 1687.2,618.9 1687.4,616.9 1687.6,615.0 1687.7,613.0 1687.9,611.0 1688.1,609.0 1688.3,607.0 1688.5,605.0 1688.7,603.0 1688.9,601.0 1689.1,599.1 1689.3,597.1 1689.5,595.1 1689.7,593.1 1690.0,591.1 1690.2,589.1 1690.4,587.1 1690.6,585.2 1690.8,583.2 1691.1,581.2 1691.3,579.2 1691.5,577.2 1691.7,575.2 1692.0,573.2 1692.2,571.3 1692.4,569.3 1692.6,567.3 1692.9,565.3 1693.1,563.3 1693.3,561.3 1693.6,559.4 1693.8,557.4 1694.0,555.4 1694.3,553.4 1694.5,551.4 1694.7,549.5 1695.0,547.5 1695.2,545.5 1695.5,543.5 1695.7,541.5 1695.9,539.5 1696.2,537.6 1696.4,535.6 1696.6,533.6 1696.9,531.6 1697.1,529.6 1697.4,527.6 1697.6,525.7 1697.9,523.7 1698.1,521.7 1698.4,519.7 1698.6,517.7 1698.9,515.8 1699.1,513.8 1699.4,511.8 1699.7,509.8 1699.9,507.8 1700.2,505.9 1700.5,503.9 1700.7,501.9 1701.0,499.9 1701.3,497.9 1701.6,496.0 1701.9,494.0 1702.1,492.0 1702.4,490.0 1702.7,488.1 1702.9,486.1 1703.2,484.1 1703.5,482.1 1703.7,480.1 1704.0,478.2 1704.3,476.2 1704.5,474.2 1704.8,472.2 1705.1,470.2 1705.3,468.3 1705.6,466.3 1705.9,464.3 1706.1,462.3 1706.4,460.4 1706.7,458.4 1707.0,456.4 1707.3,454.4 1707.6,452.5 1707.9,450.5 1708.2,448.5 1708.5,446.5 1708.8,444.6 1709.1,442.6 1709.4,440.6 1709.8,438.7 1710.1,436.7 1710.5,434.7 1710.9,432.8 1711.3,430.8 1711.6,428.8 1712.1,426.9 1712.5,424.9 1712.9,423.0 1713.4,421.0 1713.9,419.1 1714.3,417.2 1714.9,415.2 1715.4,413.3 1716.0,411.4 1716.5,409.5 1717.1,407.6 1717.7,405.7 1718.4,403.8 1719.0,401.9 1719.7,400.0 1720.3,398.1 1721.0,396.3 1721.7,394.4 1722.5,392.5 1723.2,390.7 1723.9,388.8 1724.7,387.0 1725.5,385.1 1726.3,383.3 1727.1,381.5 1728.0,379.7 1728.8,377.9 1729.7,376.1 1730.6,374.3 1731.5,372.5 1732.4,370.7 1733.3,369.0 1734.3,367.2 1735.2,365.4 1736.2,363.7 1737.2,362.0 1738.3,360.3 1739.4,358.7 1740.6,357.1 1742.0,355.6 1743.4,354.2 1745.0,353.0 1746.7,351.9 1748.4,350.9 1750.2,350.1 1752.1,349.5 1754.1,349.0 1756.0,348.7 1758.0,348.5 1760.0,348.6 1762.0,348.9 1763.9,349.5 1765.7,350.3 1767.4,351.3 1769.1,352.5 1770.6,353.8 1772.0,355.2 1773.4,356.7 1774.7,358.2 1775.9,359.7 1777.1,361.3 1778.3,363.0 1779.4,364.6 1780.4,366.3 1781.5,368.0 1782.5,369.7 1783.4,371.5 1784.3,373.3 1785.2,375.1 1786.0,376.9 1786.8,378.7 1787.6,380.6 1788.3,382.4 1789.0,384.3 1789.7,386.2 1790.4,388.0 1791.1,389.9 1791.8,391.8 1792.4,393.7 1793.0,395.6 1793.7,397.5 1794.3,399.4 1794.9,401.3 1795.5,403.2 1796.0,405.1 1796.6,407.0 1797.1,408.9 1797.7,410.9 1798.2,412.8 1798.7,414.7 1799.2,416.7 1799.7,418.6 1800.1,420.5 1800.6,422.5 1801.0,424.4 1801.5,426.4 1801.9,428.3 1802.4,430.3 1802.8,432.2 1803.2,434.2 1803.7,436.1 1804.1,438.1 1804.5,440.0 1804.9,442.0 1805.3,443.9 1805.8,445.9 1806.2,447.8 1806.6,449.8 1807.0,451.7 1807.4,453.7 1807.8,455.7 1808.2,457.6 1808.7,459.6 1809.1,461.5 1809.5,463.5 1809.9,465.4 1810.3,467.4 1810.8,469.3 1811.2,471.3 1811.6,473.2 1812.0,475.2 1812.4,477.1 1812.9,479.1 1813.3,481.0 1813.7,483.0 1814.1,484.9 1814.5,486.9 1814.9,488.9 1815.3,490.8 1815.7,492.8 1816.1,494.7 1816.5,496.7 1816.9,498.6 1817.3,500.6 1817.6,502.6 1818.0,504.5 1818.3,506.5 1818.7,508.5 1819.0,510.4 1819.4,512.4 1819.7,514.4 1820.0,516.3 1820.3,518.3 1820.6,520.3 1820.9,522.3 1821.2,524.2 1821.4,526.2 1821.7,528.2 1821.9,530.2 1822.2,532.2 1822.4,534.1 1822.6,536.1 1822.9,538.1 1823.1,540.1 1823.3,542.1 1823.6,544.1 1823.8,546.1 1824.0,548.0 1824.3,550.0 1824.5,552.0" stroke="#cc0000"/>
<path d="M288.5,53.0 L290.2,54.1 291.9,55.1 293.6,56.1 295.3,57.2 297.0,58.2 298.8,59.2 300.5,60.2 302.2,61.2 303.9,62.2 305.7,63.2 307.4,64.2 309.2,65.2 310.9,66.1 312.7,67.0 314.5,68.0 316.2,68.9 318.0,69.7 319.9,70.6 321.7,71.4 323.5,72.2 325.3,73.0 327.2,73.8 329.0,74.5 330.9,75.2 332.8,76.0 334.6,76.7 336.5,77.3 338.4,77.9 340.3,78.5 342.3,79.0 344.2,79.5 346.2,79.9 348.1,80.2 350.1,80.4 352.1,80.5 354.1,80.6 356.1,80.5 358.1,80.4 360.1,80.2 362.1,79.9 364.0,79.5 366.0,79.1 367.9,78.6 369.9,78.1 371.8,77.5 373.7,76.9 375.6,76.2 377.4,75.5 379.3,74.8 381.1,74.0 383.0,73.2 384.8,72.4 386.5,71.4 388.3,70.5 390.0,69.4 391.7,68.4 393.3,67.2 395.0,66.1 396.6,64.9 398.2,63.7 399.8,62.6 401.4,61.4 403.1,60.2 404.7,59.1 406.4,58.0 408.1,57.0 409.9,56.0 411.6,55.1 413.4,54.2 415.3,53.4 417.1,52.7 419.0,52.0 420.9,51.3 422.7,50.6 424.7,50.0 426.6,49.5 428.5,49.0 430.5,48.5 432.4,48.2 434.4,47.9 436.4,47.7 438.4,47.6 440.4,47.6 442.4,47.8 444.3,48.1 446.3,48.6 448.2,49.2 450.0,50.0 451.8,50.8 453.6,51.8 455.3,52.9 456.9,54.0 458.5,55.2 460.1,56.4 461.7,57.6 463.2,58.9 464.8,60.1 466.4,61.4 467.9,62.6 469.5,63.8 471.2,65.0 472.8,66.1 474.5,67.2 476.1,68.3 477.8,69.4 479.5,70.5 481.2,71.5 482.9,72.6 484.6,73.7 486.2,74.8 487.9,75.8 489.6,76.9 491.3,78.0 493.0,79.1 494.7,80.1 496.4,81.2 498.1,82.2 499.8,83.3 501.5,84.3 503.2,85.3 505.0,86.3 506.7,87.2 508.5,88.2 510.3,89.1 512.1,89.9 513.9,90.7 515.8,91.5 517.7,92.1 519.6,92.7 521.5,93.1 523.5,93.3 525.5,93.4 527.5,93.2 529.5,92.8 531.4,92.3 533.3,91.6 535.1,90.7 536.8,89.8 538.5,88.7 540.1,87.5 541.7,86.3 543.2,85.0 544.7,83.6 546.1,82.2 547.5,80.8 548.9,79.4 550.3,77.9 551.6,76.5 553.0,75.0 554.4,73.6 555.8,72.1 557.2,70.7 558.6,69.3 560.1,68.0 561.6,66.7 563.1,65.4 564.7,64.2 566.3,63.0 568.0,61.9 569.7,60.9 571.5,59.9 573.2,58.9 575.0,58.0 576.8,57.1 578.6,56.3 580.4,55.5 582.3,54.7 584.1,54.0 586.0,53.4 588.0,52.9 589.9,52.4 591.9,52.2 593.9,52.1 595.9,52.2 597.8,52.6 599.7,53.3 601.4,54.3 603.0,55.5 604.5,56.9 605.8,58.4 607.0,60.0 608.1,61.6 609.2,63.3 610.3,65.0 611.3,66.7 612.4,68.4 613.4,70.1 614.3,71.8 615.3,73.6 616.2,75.4 617.1,77.2 617.9,79.0 618.7,80.8 619.5,82.7 620.3,84.5 621.1,86.3 621.8,88.2 622.6,90.0 623.3,91.9 624.0,93.8 624.7,95.7 625.4,97.5 626.1,99.4 626.8,101.3 627.6,103.1 628.3,105.0 629.1,106.8 630.0,108.6 630.9,110.4 631.8,112.2 632.8,113.9 633.7,115.7 634.7,117.4 635.7,119.1 636.7,120.9 637.7,122.6 638.7,124.3 639.6,126.1 640.6,127.9 641.5,129.6 642.4,131.4 643.2,133.2 644.1,135.0 644.9,136.8 645.8,138.7 646.6,140.5 647.5,142.2 648.5,144.0 649.4,145.8 650.5,147.5 651.5,149.2 652.7,150.8 653.8,152.4 655.1,154.0 656.5,155.4 657.9,156.8 659.5,158.0 661.1,159.2 662.9,160.1 664.7,160.9 666.7,161.5 668.6,161.8 670.6,161.7 672.6,161.3 674.4,160.5 676.1,159.4 677.6,158.1 679.0,156.7 680.3,155.2 681.6,153.7 682.9,152.2 684.2,150.6 685.5,149.1 686.8,147.6 688.0,146.0 689.2,144.4 690.3,142.7 691.3,141.0 692.3,139.3 693.2,137.5 694.1,135.7 694.9,133.9 695.7,132.1 696.5,130.2 697.2,128.4 698.0,126.5 698.7,124.6 699.4,122.8 700.0,120.9 700.7,119.0 701.3,117.1 701.9,115.2 702.5,113.3 703.0,111.3 703.5,109.4 704.0,107.5 704.5,105.5 704.9,103.6 705.4,101.6 705.8,99.7 706.3,97.7 706.7,95.8 707.2,93.9 707.7,91.9 708.3,90.0 708.8,88.1 709.4,86.2 710.0,84.2 710.6,82.3 711.2,80.4 711.8,78.5 712.4,76.6 713.0,74.7 713.7,72.8 714.3,71.0 715.0,69.1 715.7,67.2 716.4,65.3 717.1,63.5 717.9,61.6 718.7,59.8 719.6,58.0 720.5,56.3 721.5,54.5 L722.2,56.4 723.0,58.2 723.7,60.1 724.4,62.0 725.0,63.9 725.6,65.8 726.2,67.7 726.7,69.6 727.2,71.5 727.6,73.5 728.1,75.4 728.5,77.4 728.9,79.4 729.2,81.3 729.6,83.3 729.9,85.3 730.2,87.2 730.5,89.2 730.8,91.2 731.1,93.2 731.3,95.2 731.6,97.1 731.8,99.1 732.1,101.1 732.3,103.1 732.6,105.1 732.8,107.1 733.1,109.0 733.3,111.0 733.6,113.0 733.8,115.0 734.1,117.0 734.4,119.0 734.7,120.9 735.0,122.9 735.3,124.9 735.6,126.9 735.9,128.8 736.2,130.8 736.5,132.8 736.8,134.8 737.0,136.8 737.3,138.7 737.6,140.7 737.8,142.7 738.0,144.7 738.3,146.7 738.5,148.7 738.7,150.6 738.9,152.6 739.2,154.6 739.4,156.6 739.6,158.6 739.8,160.6 740.0,162.6 740.2,164.6 740.3,166.6 740.5,168.5 740.7,170.5 740.9,172.5 741.0,174.5 741.2,176.5 741.4,178.5 741.5,180.5 741.7,182.5 741.8,184.5 741.9,186.5 742.1,188.5 742.2,190.5 742.3,192.5 742.4,194.5 742.5,196.5 742.7,198.4 742.8,200.4 742.9,202.4 743.0,204.4 743.1,206.4 743.3,208.4 743.4,210.4 743.5,212.4 743.7,214.4 743.8,216.4 743.9,218.4 744.1,220.4 744.2,222.4 744.4,224.4 744.5,226.4 744.7,228.4 744.8,230.4 744.9,232.4 745.1,234.3 745.2,236.3 745.4,238.3 745.6,240.3 745.7,242.3 745.9,244.3 746.0,246.3 746.2,248.3 746.4,250.3 746.6,252.3 746.7,254.3 746.9,256.3 747.1,258.2 747.3,260.2 747.6,262.2 747.8,264.2 748.0,266.2 748.3,268.2 748.5,270.2 748.8,272.1 749.1,274.1 749.4,276.1 749.7,278.1 749.9,280.1 750.2,282.0 750.5,284.0 750.8,286.0 751.1,288.0 751.4,289.9 751.6,291.9 751.9,293.9 752.1,295.9 752.4,297.9 752.6,299.9 752.8,301.9 753.0,303.8 753.2,305.8 753.4,307.8 753.6,309.8 753.8,311.8 754.0,313.8 754.2,315.8 754.4,317.8 754.5,319.8 754.7,321.8 754.9,323.7 755.1,325.7 755.3,327.7 755.5,329.7 755.7,331.7 755.9,333.7 756.1,335.7 756.3,337.7 756.5,339.7 756.8,341.6 757.0,343.6 757.3,345.6 757.5,347.6 757.8,349.6 758.1,351.5 758.4,353.5 758.7,355.5 759.0,357.5 759.3,359.4 759.6,361.4 760.0,363.4 760.3,365.4 760.7,367.3 761.0,369.3 761.4,371.3 761.8,373.2 762.1,375.2 762.5,377.1 762.9,379.1 763.2,381.1 763.6,383.0 764.0,385.0 764.3,387.0 764.7,389.0 765.0,390.9 765.3,392.9 765.6,394.9 766.0,396.8 766.3,398.8 766.6,400.8 766.9,402.8 767.2,404.7 767.5,406.7 767.8,408.7 768.2,410.7 768.5,412.6 768.8,414.6 769.1,416.6 769.3,418.6 769.6,420.5 769.9,422.5 770.2,424.5 770.5,426.5 770.8,428.5 771.0,430.4 771.3,432.4 771.5,434.4 771.8,436.4 772.0,438.4 772.2,440.4 772.5,442.3 772.7,444.3 772.8,446.3 773.0,448.3 773.2,450.3 773.4,452.3 773.6,454.3 773.8,456.3 774.0,458.3 774.2,460.3 774.4,462.2 774.6,464.2 774.9,466.2 775.1,468.2 775.4,470.2 775.6,472.2 775.9,474.1 776.2,476.1 776.5,478.1 776.8,480.1 777.1,482.1 777.4,484.0 777.7,486.0 778.0,488.0 778.3,490.0 778.6,491.9 778.9,493.9 779.2,495.9 779.6,497.8 779.9,499.8 780.2,501.8 780.5,503.8 780.8,505.7 781.1,507.7 781.4,509.7 781.7,511.7 782.0,513.6 782.3,515.6 782.6,517.6 782.9,519.6 783.2,521.6 783.5,523.5 783.8,525.5 784.0,527.5 784.3,529.5 784.6,531.5 784.8,533.4 785.1,535.4 785.3,537.4 785.6,539.4 785.8,541.4 786.1,543.4 786.3,545.3 786.5,547.3 786.8,549.3 787.0,551.3 787.3,553.3 787.5,555.3 787.7,557.3 788.0,559.2 788.2,561.2 788.5,563.2 788.7,565.2 788.9,567.2 789.2,569.2 789.4,571.1 789.7,573.1 789.9,575.1 790.2,577.1 790.5,579.1 790.7,581.1 791.0,583.0 791.3,585.0 791.5,587.0 791.8,589.0 792.1,591.0 792.4,592.9 792.7,594.9 793.0,596.9 793.3,598.9 793.6,600.8 793.9,602.8 794.2,604.8 794.6,606.8 794.9,608.7 795.3,610.7 795.6,612.7 796.0,614.6 796.4,616.6 796.8,618.5 797.2,620.5 797.7,622.4 798.1,624.4 798.6,626.3 799.1,628.3 799.6,630.2 800.1,632.1 800.7,634.0 801.3,636.0 801.8,637.9 802.4,639.8 803.0,641.7 803.6,643.6 804.3,645.5 804.9,647.4 805.5,649.3 806.1,651.2 806.7,653.1 807.4,655.0 808.0,656.9 808.6,658.8 809.2,660.7 809.8,662.6 810.3,664.5 810.9,666.5 811.4,668.4 811.9,670.3 812.4,672.3 812.9,674.2 813.4,676.1 813.8,678.1 814.2,680.1 814.6,682.0 815.0,684.0 815.3,685.9 815.6,687.9 815.9,689.9 816.2,691.9 816.5,693.8 816.8,695.8 817.1,697.8 817.3,699.8 817.6,701.8 817.9,703.8 818.1,705.7 818.4,707.7 818.6,709.7 818.9,711.7 819.1,713.7 819.4,715.6 819.7,717.6 820.0,719.6 820.3,721.6 820.6,723.6 821.0,725.5 821.3,727.5 821.7,729.5 822.1,731.4 822.5,733.4 822.9,735.3 823.4,737.3 823.9,739.2 824.4,741.1 825.0,743.0 825.5,745.0 826.1,746.9 826.8,748.8 827.4,750.7 828.1,752.6 828.7,754.4 829.4,756.3 830.2,758.2 830.9,760.0 831.6,761.9 832.4,763.7 833.1,765.6 833.9,767.5 834.6,769.3 835.4,771.1 836.2,773.0 836.9,774.8 837.7,776.7 838.4,778.5 839.2,780.4 839.9,782.3 840.6,784.1 841.4,786.0 842.1,787.8 842.8,789.7 843.5,791.6 844.1,793.5 844.8,795.4 845.5,797.3 846.1,799.1 846.8,801.0 847.4,802.9 848.0,804.8 848.7,806.7 849.3,808.6 849.9,810.5 850.6,812.4 851.2,814.3 851.8,816.2 852.4,818.1 853.0,820.0 853.6,821.9 854.2,823.8 854.8,825.7 855.5,827.6 856.1,829.5 856.7,831.4 857.3,833.3 857.9,835.2 858.5,837.2 859.1,839.1 859.7,841.0 860.3,842.9 861.0,844.8 861.6,846.7 862.2,848.6 862.8,850.5 863.4,852.4 864.1,854.3 864.7,856.2 865.3,858.1 866.0,860.0 866.6,861.8 867.2,863.7 867.9,865.6 868.5,867.5 869.2,869.4 869.9,871.3 870.5,873.2 871.2,875.1 871.9,876.9 872.6,878.8 873.3,880.7 874.0,882.6 874.7,884.4 875.4,886.3 876.1,888.2 876.8,890.0 877.6,891.9 878.3,893.7 879.0,895.6 879.8,897.5 880.5,899.3 881.3,901.2 882.0,903.0 882.8,904.9 883.5,906.7 884.3,908.6 885.0,910.4 885.8,912.3 886.6,914.1 887.4,916.0 888.1,917.8 888.9,919.6 889.7,921.5 890.5,923.3 891.3,925.1 892.1,927.0 892.9,928.8 893.7,930.6 894.5,932.5 895.4,934.3 896.2,936.1 897.0,937.9 897.9,939.7 898.7,941.5 899.5,943.4 900.4,945.2 901.2,947.0 902.1,948.8 903.0,950.6 903.8,952.4 904.7,954.2 905.6,956.0 906.5,957.8 907.4,959.5 908.3,961.3 909.2,963.1 910.1,964.9 911.0,966.7 911.9,968.5 912.8,970.2 913.8,972.0 914.7,973.8 915.6,975.5 916.6,977.3 917.5,979.1 918.5,980.8 919.4,982.6 920.4,984.3 921.4,986.1 922.4,987.8 923.4,989.5 924.4,991.3 925.4,993.0 926.4,994.7 927.4,996.4 928.4,998.2 929.4,999.9 930.5,1001.6 931.5,1003.3 932.6,1005.0 933.6,1006.7 934.7,1008.4 935.8,1010.1 936.8,1011.7 937.9,1013.4 939.0,1015.1 940.1,1016.8 941.3,1018.4 942.4,1020.1 943.5,1021.7 944.6,1023.4 945.8,1025.0 946.9,1026.6 948.1,1028.3 949.3,1029.9 950.5,1031.5 951.6,1033.1 952.8,1034.7 954.0,1036.3 955.3,1037.9 956.5,1039.5 957.7,1041.0 959.0,1042.6 960.2,1044.2 961.5,1045.7 962.8,1047.2 964.0,1048.8 965.3,1050.3 966.6,1051.8 968.0,1053.3 969.3,1054.8 970.6,1056.3 972.0,1057.8 973.3,1059.3 974.7,1060.7 976.0,1062.2 977.4,1063.6 978.8,1065.1 980.2,1066.5 981.6,1067.9 983.1,1069.3 984.5,1070.7 986.0,1072.0 987.4,1073.4 988.9,1074.7 990.4,1076.0 992.0,1077.3 993.5,1078.6 995.1,1079.9 996.6,1081.1 998.2,1082.3 999.9,1083.5 1001.5,1084.6 1003.1,1085.7 1004.8,1086.8 1006.5,1087.9 1008.2,1089.0 1009.9,1090.0 1011.6,1091.0 1013.4,1092.0 1015.1,1092.9 1016.9,1093.8 1018.7,1094.7 1020.5,1095.6 1022.3,1096.4 1024.2,1097.2 1026.0,1097.9 1027.9,1098.6 1029.8,1099.3 1031.7,1099.9 1033.6,1100.5 1035.5,1101.0 1037.5,1101.5 1039.4,1102.0 1041.4,1102.4 1043.3,1102.8 1045.3,1103.1 1047.3,1103.4 1049.3,1103.7 1051.2,1103.9 1053.2,1104.1 1055.2,1104.3 1057.2,1104.4 1059.2,1104.5 1061.2,1104.6 1063.2,1104.6 1065.2,1104.6 1067.2,1104.6 1069.2,1104.5 1071.2,1104.4 1073.2,1104.3 1075.2,1104.1 1077.2,1103.9 1079.2,1103.6 1081.1,1103.3 1083.1,1102.9 1085.1,1102.5 1087.0,1102.1 1088.9,1101.6 1090.9,1101.0 1092.8,1100.4 1094.7,1099.8 1096.5,1099.1 1098.4,1098.4 1100.3,1097.6 1102.1,1096.8 1103.9,1096.0 1105.7,1095.1 1107.5,1094.2 1109.2,1093.3 1111.0,1092.3 1112.7,1091.3 1114.5,1090.3 1116.2,1089.3 1117.9,1088.2 1119.5,1087.1 1121.2,1086.0 1122.9,1084.9 1124.5,1083.8 1126.1,1082.6 1127.7,1081.4 1129.3,1080.2 1130.9,1078.9 1132.4,1077.6 1133.9,1076.4 1135.5,1075.1 1137.0,1073.8 1138.5,1072.4 1139.9,1071.1 1141.4,1069.7 1142.9,1068.4 1144.3,1067.0 1145.8,1065.6 1147.2,1064.2 1148.6,1062.8 1150.0,1061.4 1151.4,1059.9 1152.8,1058.5 1154.2,1057.1 1155.6,1055.6 1156.9,1054.2 1158.3,1052.7 1159.6,1051.2 1161.0,1049.7 1162.3,1048.2 1163.6,1046.7 1164.9,1045.2 1166.2,1043.7 1167.5,1042.2 1168.8,1040.6 1170.0,1039.1 1171.3,1037.5 1172.5,1036.0 1173.8,1034.4 1175.0,1032.8 1176.2,1031.2 1177.4,1029.6 1178.6,1028.0 1179.8,1026.4 1181.0,1024.8 1182.1,1023.2 1183.3,1021.5 1184.4,1019.9 1185.6,1018.2 1186.7,1016.6 1187.8,1014.9 1188.9,1013.3 1190.0,1011.6 1191.1,1009.9 1192.1,1008.2 1193.2,1006.5 1194.3,1004.8 1195.3,1003.1 1196.3,1001.4 1197.4,999.7 1198.4,998.0 1199.4,996.2 1200.4,994.5 1201.4,992.8 1202.4,991.1 1203.4,989.3 1204.4,987.6 1205.4,985.8 1206.3,984.1 1207.3,982.3 1208.3,980.6 1209.2,978.8 1210.2,977.1 1211.1,975.3 1212.1,973.5 1213.0,971.8 1213.9,970.0 1214.9,968.2 1215.8,966.5 1216.7,964.7 1217.6,962.9 1218.5,961.1 1219.4,959.4 1220.3,957.6 1221.2,955.8 1222.1,954.0 1223.0,952.2 1223.8,950.4 1224.7,948.6 1225.6,946.8 1226.4,945.0 1227.3,943.2 1228.2,941.4 1229.0,939.6 1229.8,937.8 1230.7,935.9 1231.5,934.1 1232.3,932.3 1233.2,930.5 1234.0,928.7 1234.8,926.8 1235.6,925.0 1236.4,923.2 1237.2,921.3 1238.0,919.5 1238.8,917.7 1239.6,915.8 1240.4,914.0 1241.2,912.2 1242.0,910.3 1242.7,908.5 1243.5,906.6 1244.3,904.8 1245.0,902.9 1245.8,901.1 1246.6,899.2 1247.3,897.4 1248.1,895.5 1248.8,893.7 1249.5,891.8 1250.3,890.0 1251.0,888.1 1251.7,886.3 1252.5,884.4 1253.2,882.5 1253.9,880.7 1254.6,878.8 1255.3,876.9 1256.0,875.1 1256.7,873.2 1257.4,871.3 1258.1,869.4 1258.8,867.6 1259.5,865.7 1260.2,863.8 1260.9,861.9 1261.6,860.0 1262.2,858.2 1262.9,856.3 1263.6,854.4 1264.3,852.5 1264.9,850.6 1265.6,848.7 1266.2,846.9 1266.9,845.0 1267.6,843.1 1268.2,841.2 1268.9,839.3 1269.5,837.4 1270.2,835.5 1270.8,833.6 1271.4,831.7 1272.1,829.8 1272.7,827.9 1273.3,826.0 1274.0,824.2 1274.6,822.3 1275.2,820.4 1275.9,818.5 1276.5,816.6 1277.1,814.7 1277.7,812.8 1278.3,810.9 1279.0,809.0 1279.6,807.1 1280.2,805.2 1280.8,803.2 1281.4,801.3 1282.0,799.4 1282.6,797.5 1283.2,795.6 1283.8,793.7 1284.4,791.8 1285.0,789.9 1285.6,788.0 1286.2,786.1 1286.8,784.2 1287.4,782.3 1288.0,780.4 1288.5,778.4 1289.1,776.5 1289.7,774.6 1290.3,772.7 1290.8,770.8 1291.4,768.9 1292.0,767.0 1292.5,765.0 1293.1,763.1 1293.7,761.2 1294.2,759.3 1294.8,757.4 1295.3,755.4 1295.9,753.5 1296.4,751.6 1297.0,749.7 1297.5,747.7 1298.1,745.8 1298.6,743.9 1299.1,742.0 1299.7,740.0 1300.2,738.1 1300.7,736.2 1301.2,734.3 1301.8,732.3 1302.3,730.4 1302.8,728.5 1303.3,726.5 1303.8,724.6 1304.3,722.7 1304.8,720.7 1305.3,718.8 1305.8,716.9 1306.3,714.9 1306.8,713.0 1307.3,711.1 1307.8,709.1 1308.3,707.2 1308.8,705.2 1309.3,703.3 1309.8,701.4 1310.3,699.4 1310.7,697.5 1311.2,695.5 1311.7,693.6 1312.2,691.7 1312.6,689.7 1313.1,687.8 1313.6,685.8 1314.0,683.9 1314.5,681.9 1314.9,680.0 1315.4,678.0 1315.9,676.1 1316.3,674.2 1316.8,672.2 1317.2,670.3 1317.7,668.3 1318.1,666.4 1318.5,664.4 1319.0,662.5 1319.4,660.5 1319.9,658.6 1320.3,656.6 1320.7,654.7 1321.2,652.7 1321.6,650.8 1322.0,648.8 1322.4,646.8 1322.9,644.9 1323.3,642.9 1323.7,641.0 1324.1,639.0 1324.5,637.1 1325.0,635.1 1325.4,633.2 1325.8,631.2 1326.2,629.2 1326.6,627.3 1327.0,625.3 1327.4,623.4 1327.8,621.4 1328.2,619.5 1328.6,617.5 1329.0,615.5 1329.4,613.6 1329.8,611.6 1330.2,609.7 1330.6,607.7 1331.0,605.7 1331.4,603.8 1331.8,601.8 1332.1,599.9 1332.5,597.9 1332.9,595.9 1333.3,594.0 1333.7,592.0 1334.1,590.0 1334.4,588.1 1334.8,586.1 1335.2,584.2 1335.6,582.2 1335.9,580.2 1336.3,578.3 1336.7,576.3 1337.0,574.3 1337.4,572.4 1337.8,570.4 1338.1,568.4 1338.5,566.5 1338.8,564.5 1339.2,562.5 1339.5,560.6 1339.9,558.6 1340.2,556.6 1340.6,554.7 1340.9,552.7 1341.3,550.7 1341.6,548.8 1342.0,546.8 1342.3,544.8 1342.6,542.8 1343.0,540.9 1343.3,538.9 1343.6,536.9 1344.0,535.0 1344.3,533.0 1344.6,531.0 1345.0,529.1 1345.3,527.1 1345.6,525.1 1346.0,523.1 1346.3,521.2 1346.6,519.2 1346.9,517.2 1347.3,515.2 1347.6,513.3 1347.9,511.3 1348.2,509.3 1348.5,507.4 1348.9,505.4 1349.2,503.4 1349.5,501.4 1349.8,499.5 1350.1,497.5 1350.5,495.5 1350.8,493.5 1351.1,491.6 1351.4,489.6 1351.7,487.6 1352.0,485.6 1352.3,483.7 1352.7,481.7 1353.0,479.7 1353.3,477.7 1353.6,475.8 1353.9,473.8 1354.2,471.8 1354.5,469.8 1354.8,467.9 1355.1,465.9 1355.4,463.9 1355.7,461.9 1356.1,460.0 1356.4,458.0 1356.7,456.0 1357.0,454.0 1357.3,452.1 1357.6,450.1 1357.9,448.1 1358.2,446.1 1358.5,444.2 1358.8,442.2 1359.1,440.2 1359.4,438.2 1359.7,436.3 1360.0,434.3 1360.3,432.3 1360.6,430.3 1360.9,428.4 1361.2,426.4 1361.5,424.4 1361.8,422.4 1362.1,420.5 1362.4,418.5 1362.7,416.5 1363.0,414.5 1363.3,412.5 1363.6,410.6 1363.9,408.6 1364.2,406.6 1364.5,404.6 1364.8,402.7 1365.1,400.7 1365.4,398.7 1365.7,396.7 1366.0,394.8 1366.3,392.8 1366.6,390.8 1366.9,388.8 1367.2,386.9 1367.5,384.9 1367.8,382.9 1368.1,380.9 1368.4,378.9 1368.7,377.0 1369.0,375.0 1369.3,373.0 1369.6,371.0 1369.9,369.1 1370.2,367.1 1370.5,365.1 1370.8,363.1 1371.1,361.2 1371.4,359.2 1371.7,357.2 1372.0,355.2 1372.3,353.2 1372.6,351.3 1372.9,349.3 1373.2,347.3 1373.5,345.3 1373.8,343.4 1374.1,341.4 1374.4,339.4 1374.7,337.4 1374.9,335.5 1375.2,333.5 1375.5,331.5 1375.8,329.5 1376.1,327.5 1376.4,325.6 1376.7,323.6 1377.0,321.6 1377.3,319.6 1377.5,317.7 1377.8,315.7 1378.1,313.7 1378.4,311.7 1378.7,309.7 1378.9,307.8 1379.2,305.8 1379.5,303.8 1379.7,301.8 1380.0,299.8 1380.3,297.9 1380.5,295.9 1380.8,293.9 1381.1,291.9 1381.3,289.9 1381.6,287.9 1381.8,286.0 1382.1,284.0 1382.3,282.0 1382.6,280.0 1382.9,278.0 1383.1,276.0 1383.3,274.1 1383.6,272.1 1383.8,270.1 1384.1,268.1 1384.3,266.1 1384.6,264.1 1384.8,262.2 1385.1,260.2 1385.3,258.2 1385.5,256.2 1385.8,254.2 1386.0,252.2 1386.2,250.2 1386.5,248.3 1386.7,246.3 1386.9,244.3 1387.1,242.3 1387.4,240.3 1387.6,238.3 1387.8,236.3 1388.0,234.4 1388.2,232.4 1388.4,230.4 1388.6,228.4 1388.8,226.4 1389.0,224.4 1389.2,222.4 1389.4,220.4 1389.6,218.4 1389.8,216.5 1390.0,214.5 1390.2,212.5 1390.4,210.5 1390.6,208.5 1390.8,206.5 1391.0,204.5 1391.2,202.5 1391.3,200.5 1391.5,198.5 1391.7,196.6 1391.9,194.6 1392.1,192.6 1392.3,190.6 1392.5,188.6 1392.7,186.6 1392.9,184.6 1393.1,182.6 1393.3,180.6 1393.6,178.7 1393.8,176.7 1394.0,174.7 1394.2,172.7 1394.5,170.7 1394.7,168.7 1394.9,166.7 1395.2,164.8 1395.4,162.8 1395.6,160.8 1395.9,158.8 1396.1,156.8 1396.3,154.8 1396.6,152.9 1396.8,150.9 1397.0,148.9 1397.3,146.9 1397.5,144.9 1397.7,142.9 1397.9,140.9 1398.1,138.9 1398.3,137.0 1398.5,135.0 1398.7,133.0 1398.9,131.0 1399.0,129.0 1399.2,127.0 1399.4,125.0 1399.6,123.0 1399.8,121.0 1399.9,119.0 1400.1,117.0 1400.3,115.1 1400.6,113.1 1400.8,111.1 1401.0,109.1 1401.3,107.1 1401.5,105.1 1401.8,103.2 1402.0,101.2 1402.3,99.2 1402.6,97.2 1402.9,95.2 1403.2,93.3 1403.5,91.3 1403.8,89.3 1404.2,87.3 1404.5,85.4 1404.9,83.4 1405.3,81.5 1405.7,79.5 1406.2,77.6 1406.7,75.6 1407.3,73.7 1407.9,71.8 1408.5,69.9 1409.2,68.0 1409.9,66.1 1410.6,64.3 1411.3,62.4 1412.1,60.6 1412.8,58.7 1413.6,56.9 1414.3,55.0 L1415.3,56.7 1416.4,58.4 1417.5,60.1 1418.5,61.8 1419.5,63.5 1420.5,65.2 1421.4,67.0 1422.3,68.8 1423.1,70.6 1424.0,72.4 1424.7,74.2 1425.5,76.1 1426.2,77.9 1426.9,79.8 1427.6,81.7 1428.3,83.5 1429.0,85.4 1429.7,87.3 1430.3,89.2 1430.9,91.1 1431.6,92.9 1432.2,94.8 1432.8,96.7 1433.4,98.6 1434.0,100.5 1434.6,102.4 1435.3,104.3 1435.9,106.2 1436.5,108.1 1437.2,110.0 1437.9,111.8 1438.6,113.7 1439.3,115.6 1440.0,117.4 1440.8,119.3 1441.6,121.1 1442.3,122.9 1443.1,124.8 1444.0,126.6 1444.8,128.4 1445.7,130.2 1446.7,131.9 1447.8,133.6 1449.0,135.1 1450.3,136.6 1451.8,138.0 1453.4,139.2 1455.2,140.1 1457.1,140.7 1459.0,140.9 1461.0,140.7 1462.9,140.1 1464.7,139.3 1466.5,138.3 1468.2,137.3 1469.8,136.1 1471.4,135.0 1473.0,133.8 1474.7,132.7 1476.3,131.5 1478.0,130.4 1479.7,129.4 1481.4,128.4 1483.1,127.3 1484.7,126.2 1486.4,125.1 1487.9,123.8 1489.3,122.4 1490.6,120.9 1491.8,119.2 1492.8,117.6 1493.8,115.8 1494.7,114.1 1495.6,112.3 1496.4,110.4 1497.2,108.6 1497.9,106.8 1498.7,104.9 1499.4,103.1 1500.2,101.2 1500.9,99.4 1501.7,97.5 1502.5,95.7 1503.3,93.9 1504.1,92.1 1505.0,90.3 1505.9,88.5 1506.9,86.8 1508.0,85.1 1509.1,83.5 1510.3,81.9 1511.5,80.3 1512.8,78.8 1514.1,77.2 1515.4,75.7 1516.7,74.2 1518.0,72.8 1519.3,71.2 1520.6,69.7 1521.9,68.2 1523.2,66.7 1524.4,65.1 1525.7,63.6 1527.0,62.1 1528.3,60.6 1529.7,59.1 1531.0,57.7 1532.5,56.3 1534.0,55.0 1535.5,53.7 1537.2,52.6 1538.9,51.6 1540.7,50.7 1542.6,50.0 1544.5,49.5 1546.4,49.1 1548.4,49.0 1550.4,49.2 1552.4,49.6 1554.2,50.2 1556.0,51.1 1557.8,52.1 1559.4,53.2 1561.1,54.3 1562.8,55.4 1564.4,56.4 1566.1,57.5 1567.8,58.6 1569.5,59.6 1571.2,60.6 1572.9,61.6 1574.7,62.6 1576.4,63.6 1578.1,64.6 1579.9,65.6 1581.6,66.6 1583.3,67.5 1585.1,68.5 1586.8,69.5 1588.5,70.5 1590.3,71.5 1592.0,72.4 1593.8,73.3 1595.6,74.1 1597.5,74.9 1599.3,75.6 1601.2,76.2 1603.1,76.8 1605.0,77.3 1607.0,77.7 1608.9,78.1 1610.9,78.3 1612.9,78.4 1614.9,78.4 1616.9,78.3 1618.9,78.1 1620.9,77.9 1622.8,77.5 1624.8,77.1 1626.7,76.7 1628.7,76.3 1630.6,75.8 1632.5,75.3 1634.4,74.7 1636.3,74.1 1638.2,73.4 1640.1,72.7 1641.9,71.9 1643.7,71.1 1645.5,70.3 1647.3,69.3 1649.0,68.4 1650.8,67.4 1652.5,66.4 1654.2,65.4 1655.9,64.3 1657.6,63.3 1659.3,62.2 1661.0,61.2 1662.7,60.2 1664.4,59.2 1666.2,58.3 1668.0,57.3 1669.7,56.4 1671.5,55.6 1673.4,54.8 1675.2,54.0 1677.1,53.3 1678.9,52.6 1680.8,51.9 1682.7,51.3 1684.6,50.6 1686.5,50.1 1688.4,49.5 1690.3,49.0 1692.3,48.6 1694.2,48.2 1696.2,47.8 1698.1,47.5 1700.1,47.3 1702.1,47.2 1704.1,47.1 1706.1,47.2 1708.1,47.3 1710.1,47.6 1712.0,47.9 1714.0,48.3 1715.9,48.7 1717.9,49.2 1719.8,49.8 1721.7,50.4 1723.6,51.0 1725.5,51.6 1727.4,52.2 1729.2,52.8 1731.1,53.5 1733.0,54.1 1734.9,54.7 1736.8,55.2 1738.8,55.8 1740.7,56.4 1742.5,57.0 1744.4,57.6 1746.3,58.3 1748.2,58.9 1750.1,59.5 1752.0,60.1 1753.9,60.7 1755.8,61.3 1757.7,61.8 1759.7,62.3 1761.6,62.8 1763.6,63.2 1765.5,63.6 1767.5,64.0 1769.4,64.3 1771.4,64.5 1773.4,64.8 1775.4,64.9 1777.4,65.1 1779.4,65.2 1781.3,65.3 1783.3,65.4 1785.3,65.4 1787.3,65.4 1789.3,65.4 1791.3,65.3 1793.3,65.2 1795.3,65.0 1797.3,64.8 1799.2,64.6 1801.2,64.3 1803.2,63.9 1805.1,63.6 1807.1,63.1 1809.0,62.6 1810.9,62.1 1812.9,61.6 1814.8,61.1 1816.7,60.6 1818.6,60.0 1820.5,59.5 1822.5,59.0 1824.4,58.5" stroke="#009900"/>
<path d="M288.5,80.5 L290.4,81.1 292.3,81.8 294.2,82.5 296.0,83.2 297.9,84.0 299.7,84.7 301.6,85.4 303.4,86.2 305.3,86.9 307.2,87.7 309.0,88.4 310.9,89.1 312.7,89.9 314.6,90.6 316.5,91.3 318.3,92.0 320.2,92.7 322.1,93.4 323.9,94.1 325.8,94.9 327.7,95.6 329.5,96.3 331.4,97.0 333.3,97.8 335.1,98.5 337.0,99.2 338.9,99.9 340.8,100.5 342.7,101.1 344.6,101.7 346.5,102.2 348.5,102.7 350.4,103.1 352.4,103.4 354.4,103.7 356.3,103.9 358.3,104.1 360.3,104.2 362.3,104.3 364.3,104.3 366.3,104.3 368.3,104.3 370.3,104.2 372.3,104.0 374.3,103.8 376.3,103.6 378.3,103.3 380.2,102.9 382.2,102.5 384.1,102.1 386.1,101.5 388.0,100.9 389.8,100.2 391.7,99.5 393.5,98.7 395.4,97.9 397.2,97.1 399.0,96.2 400.8,95.3 402.6,94.4 404.4,93.6 406.2,92.7 408.0,91.9 409.8,91.1 411.7,90.4 413.6,89.6 415.4,88.9 417.3,88.2 419.2,87.6 421.1,86.9 422.9,86.2 424.8,85.6 426.7,84.9 428.6,84.3 430.6,83.8 432.5,83.3 434.4,82.8 436.4,82.5 438.4,82.2 440.4,82.1 442.4,82.0 444.4,82.1 446.4,82.3 448.3,82.7 450.3,83.1 452.2,83.7 454.1,84.3 456.0,85.0 457.8,85.8 459.6,86.6 461.4,87.5 463.2,88.4 465.0,89.4 466.7,90.3 468.5,91.3 470.2,92.3 471.9,93.3 473.6,94.3 475.3,95.4 477.0,96.5 478.7,97.6 480.3,98.7 481.9,99.9 483.5,101.1 485.1,102.4 486.6,103.7 488.1,104.9 489.7,106.2 491.2,107.5 492.7,108.8 494.3,110.0 495.9,111.3 497.4,112.5 499.1,113.7 500.7,114.8 502.4,115.9 504.1,116.9 505.9,117.8 507.7,118.7 509.5,119.6 511.3,120.4 513.2,121.1 515.0,121.9 516.9,122.5 518.8,123.2 520.7,123.7 522.7,124.2 524.6,124.7 526.6,125.0 528.6,125.3 530.5,125.4 532.5,125.4 534.5,125.3 536.5,125.1 538.5,124.6 540.4,124.1 542.3,123.3 544.1,122.5 545.8,121.5 547.5,120.5 549.2,119.4 550.8,118.3 552.5,117.1 554.0,115.9 555.6,114.7 557.2,113.5 558.8,112.3 560.4,111.1 562.1,109.9 563.7,108.8 565.4,107.7 567.1,106.7 568.9,105.7 570.6,104.7 572.3,103.7 574.1,102.8 575.9,101.8 577.6,100.9 579.4,99.9 581.2,99.0 582.9,98.1 584.7,97.3 586.6,96.4 588.4,95.7 590.3,95.0 592.2,94.4 594.1,93.9 596.1,93.7 598.1,93.6 600.1,93.9 602.0,94.5 603.8,95.3 605.5,96.4 607.0,97.7 608.4,99.1 609.7,100.7 610.8,102.3 611.9,104.0 612.8,105.8 613.7,107.5 614.6,109.4 615.4,111.2 616.2,113.0 617.1,114.8 617.9,116.6 618.7,118.4 619.5,120.3 620.3,122.1 621.1,124.0 621.9,125.8 622.6,127.6 623.4,129.5 624.1,131.4 624.8,133.2 625.5,135.1 626.1,137.0 626.8,138.9 627.5,140.7 628.3,142.6 629.1,144.4 630.0,146.2 630.9,148.0 631.9,149.7 632.9,151.5 633.9,153.2 635.0,154.9 636.1,156.6 637.1,158.3 638.1,160.0 639.1,161.7 640.1,163.5 641.0,165.2 641.9,167.0 642.7,168.8 643.5,170.7 644.3,172.5 645.1,174.4 645.8,176.2 646.5,178.1 647.2,180.0 647.9,181.8 648.6,183.7 649.3,185.6 650.0,187.5 650.7,189.3 651.3,191.2 652.0,193.1 652.6,195.0 653.3,196.9 653.9,198.8 654.6,200.7 655.2,202.6 655.8,204.5 656.5,206.4 657.2,208.2 657.9,210.1 658.7,211.9 659.5,213.8 660.3,215.6 661.2,217.4 662.1,219.1 663.1,220.9 664.2,222.6 665.3,224.3 666.4,225.9 667.7,227.5 669.0,229.0 670.4,230.4 671.9,231.7 673.5,232.9 675.2,234.0 677.0,234.9 678.8,235.6 680.7,236.2 682.7,236.5 684.7,236.7 686.7,236.5 688.6,236.1 690.4,235.3 692.1,234.2 693.6,232.9 695.0,231.4 696.2,229.8 697.3,228.1 698.3,226.4 699.3,224.7 700.2,222.9 701.2,221.2 702.1,219.4 703.0,217.6 703.9,215.8 704.9,214.1 705.8,212.3 706.7,210.5 707.6,208.7 708.5,207.0 709.4,205.2 710.3,203.4 711.1,201.6 711.9,199.7 712.7,197.9 713.5,196.1 714.3,194.2 715.0,192.4 715.7,190.5 716.4,188.6 717.1,186.7 717.7,184.8 718.3,182.9 719.0,181.0 719.5,179.1 720.1,177.2 720.6,175.3 721.1,173.3 721.6,171.4 722.0,169.4 722.4,167.5 722.8,165.5 723.1,163.5 723.4,161.6 723.8,159.6 724.1,157.6 724.5,155.7 724.9,153.7 725.5,151.8 726.1,149.9 726.9,148.1 727.8,146.3 728.8,144.6 730.1,143.0 731.6,141.7 733.3,140.7 735.3,140.6 737.1,141.4 738.5,142.7 739.7,144.4 740.6,146.1 741.5,148.0 742.2,149.8 742.8,151.7 743.4,153.6 743.9,155.6 744.4,157.5 744.8,159.5 745.3,161.4 745.6,163.4 746.0,165.3 746.3,167.3 746.6,169.3 746.9,171.3 747.2,173.2 747.4,175.2 747.7,177.2 747.9,179.2 748.1,181.2 748.3,183.2 748.5,185.2 748.7,187.1 748.9,189.1 749.1,191.1 749.3,193.1 749.5,195.1 749.7,197.1 749.9,199.1 750.1,201.1 750.3,203.1 750.5,205.1 750.6,207.0 750.8,209.0 751.0,211.0 751.2,213.0 751.4,215.0 751.6,217.0 751.8,219.0 752.0,221.0 752.3,223.0 752.5,224.9 752.7,226.9 752.9,228.9 753.2,230.9 753.4,232.9 753.6,234.9 753.9,236.9 754.1,238.8 754.4,240.8 754.6,242.8 754.9,244.8 755.1,246.8 755.4,248.8 755.6,250.7 755.9,252.7 756.1,254.7 756.4,256.7 756.6,258.7 756.9,260.7 757.1,262.6 757.4,264.6 757.6,266.6 757.9,268.6 758.1,270.6 758.4,272.5 758.6,274.5 758.9,276.5 759.1,278.5 759.4,280.5 759.6,282.5 759.9,284.5 760.1,286.4 760.3,288.4 760.6,290.4 760.8,292.4 761.0,294.4 761.3,296.4 761.5,298.3 761.7,300.3 761.9,302.3 762.2,304.3 762.4,306.3 762.6,308.3 762.8,310.3 763.1,312.3 763.3,314.2 763.5,316.2 763.7,318.2 763.9,320.2 764.2,322.2 764.4,324.2 764.6,326.2 764.8,328.1 765.1,330.1 765.3,332.1 765.5,334.1 765.8,336.1 766.0,338.1 766.3,340.1 766.5,342.0 766.8,344.0 767.0,346.0 767.3,348.0 767.5,350.0 767.8,351.9 768.1,353.9 768.4,355.9 768.6,357.9 768.9,359.9 769.2,361.8 769.5,363.8 769.9,365.8 770.2,367.8 770.5,369.7 770.8,371.7 771.1,373.7 771.4,375.7 771.7,377.6 772.0,379.6 772.3,381.6 772.6,383.6 772.9,385.5 773.2,387.5 773.5,389.5 773.7,391.5 774.0,393.5 774.2,395.4 774.4,397.4 774.7,399.4 774.9,401.4 775.1,403.4 775.3,405.4 775.5,407.4 775.7,409.4 775.9,411.4 776.1,413.3 776.3,415.3 776.5,417.3 776.7,419.3 776.8,421.3 777.0,423.3 777.2,425.3 777.4,427.3 777.6,429.3 777.8,431.3 778.0,433.2 778.2,435.2 778.4,437.2 778.6,439.2 778.8,441.2 779.0,443.2 779.2,445.2 779.4,447.2 779.6,449.2 779.8,451.1 780.0,453.1 780.2,455.1 780.4,457.1 780.6,459.1 780.8,461.1 781.0,463.1 781.2,465.1 781.4,467.1 781.6,469.0 781.8,471.0 782.0,473.0 782.2,475.0 782.4,477.0 782.6,479.0 782.8,481.0 783.0,483.0 783.2,484.9 783.4,486.9 783.6,488.9 783.8,490.9 784.0,492.9 784.2,494.9 784.4,496.9 784.6,498.9 784.8,500.9 785.0,502.9 785.2,504.8 785.3,506.8 785.5,508.8 785.7,510.8 785.9,512.8 786.1,514.8 786.3,516.8 786.5,518.8 786.7,520.8 786.9,522.7 787.1,524.7 787.3,526.7 787.5,528.7 787.7,530.7 787.9,532.7 788.1,534.7 788.3,536.7 788.5,538.7 788.8,540.6 789.0,542.6 789.2,544.6 789.4,546.6 789.6,548.6 789.9,550.6 790.1,552.6 790.3,554.5 790.6,556.5 790.8,558.5 791.1,560.5 791.3,562.5 791.6,564.5 791.8,566.4 792.1,568.4 792.3,570.4 792.6,572.4 792.8,574.4 793.1,576.4 793.3,578.3 793.6,580.3 793.8,582.3 794.1,584.3 794.3,586.3 794.6,588.3 794.9,590.2 795.2,592.2 795.5,594.2 795.8,596.2 796.1,598.1 796.4,600.1 796.7,602.1 797.0,604.1 797.3,606.0 797.7,608.0 798.1,610.0 798.4,611.9 798.8,613.9 799.2,615.9 799.6,617.8 800.1,619.8 800.5,621.7 801.0,623.6 801.5,625.6 802.0,627.5 802.6,629.4 803.2,631.3 803.7,633.3 804.3,635.2 805.0,637.1 805.6,639.0 806.2,640.9 806.8,642.8 807.5,644.7 808.1,646.6 808.7,648.5 809.3,650.4 809.9,652.3 810.5,654.2 811.1,656.1 811.6,658.0 812.2,659.9 812.7,661.9 813.1,663.8 813.6,665.8 814.1,667.7 814.5,669.7 814.9,671.6 815.3,673.6 815.7,675.5 816.0,677.5 816.4,679.5 816.7,681.4 817.1,683.4 817.4,685.4 817.7,687.4 818.1,689.3 818.4,691.3 818.7,693.3 819.0,695.3 819.3,697.2 819.6,699.2 819.9,701.2 820.2,703.2 820.5,705.1 820.8,707.1 821.1,709.1 821.5,711.0 821.8,713.0 822.1,715.0 822.4,717.0 822.8,718.9 823.1,720.9 823.5,722.9 823.8,724.8 824.2,726.8 824.6,728.8 825.0,730.7 825.4,732.7 825.8,734.6 826.3,736.6 826.7,738.5 827.2,740.5 827.7,742.4 828.2,744.3 828.7,746.3 829.2,748.2 829.8,750.1 830.3,752.0 830.9,754.0 831.5,755.9 832.1,757.8 832.7,759.7 833.3,761.6 833.9,763.5 834.5,765.4 835.1,767.3 835.8,769.2 836.4,771.1 837.0,773.0 837.7,774.9 838.3,776.8 839.0,778.7 839.6,780.6 840.2,782.5 840.8,784.4 841.5,786.3 842.1,788.2 842.7,790.1 843.3,792.0 843.9,793.9 844.5,795.8 845.1,797.7 845.7,799.6 846.3,801.5 846.9,803.4 847.4,805.3 848.0,807.2 848.6,809.2 849.1,811.1 849.7,813.0 850.3,814.9 850.8,816.8 851.4,818.7 852.0,820.7 852.5,822.6 853.1,824.5 853.7,826.4 854.2,828.3 854.8,830.3 855.3,832.2 855.9,834.1 856.5,836.0 857.0,837.9 857.6,839.8 858.2,841.8 858.7,843.7 859.3,845.6 859.9,847.5 860.4,849.4 861.0,851.3 861.6,853.3 862.1,855.2 862.7,857.1 863.3,859.0 863.9,860.9 864.5,862.8 865.0,864.7 865.6,866.7 866.2,868.6 866.8,870.5 867.4,872.4 868.0,874.3 868.6,876.2 869.2,878.1 869.8,880.0 870.5,881.9 871.1,883.8 871.7,885.7 872.3,887.6 873.0,889.5 873.6,891.4 874.3,893.3 874.9,895.2 875.6,897.0 876.3,898.9 876.9,900.8 877.6,902.7 878.3,904.6 878.9,906.5 879.6,908.3 880.3,910.2 881.0,912.1 881.7,914.0 882.4,915.8 883.1,917.7 883.8,919.6 884.5,921.5 885.2,923.3 885.9,925.2 886.6,927.1 887.3,928.9 888.0,930.8 888.8,932.7 889.5,934.5 890.2,936.4 891.0,938.2 891.7,940.1 892.4,942.0 893.2,943.8 894.0,945.7 894.7,947.5 895.5,949.4 896.2,951.2 897.0,953.0 897.8,954.9 898.6,956.7 899.4,958.6 900.2,960.4 901.0,962.2 901.8,964.1 902.6,965.9 903.4,967.7 904.2,969.5 905.0,971.4 905.9,973.2 906.7,975.0 907.5,976.8 908.4,978.6 909.2,980.4 910.1,982.2 911.0,984.0 911.8,985.8 912.7,987.6 913.6,989.4 914.4,991.2 915.3,993.0 916.2,994.8 917.1,996.6 918.0,998.4 918.9,1000.2 919.8,1001.9 920.8,1003.7 921.7,1005.5 922.6,1007.3 923.6,1009.0 924.5,1010.8 925.5,1012.5 926.4,1014.3 927.4,1016.0 928.4,1017.8 929.4,1019.5 930.3,1021.3 931.3,1023.0 932.4,1024.7 933.4,1026.4 934.4,1028.1 935.4,1029.9 936.5,1031.6 937.5,1033.3 938.6,1035.0 939.6,1036.7 940.7,1038.3 941.8,1040.0 942.9,1041.7 944.0,1043.4 945.1,1045.0 946.2,1046.7 947.3,1048.4 948.4,1050.0 949.6,1051.6 950.7,1053.3 951.9,1054.9 953.0,1056.5 954.2,1058.2 955.4,1059.8 956.6,1061.4 957.8,1063.0 959.0,1064.5 960.3,1066.1 961.5,1067.7 962.7,1069.2 964.0,1070.8 965.3,1072.3 966.6,1073.9 967.9,1075.4 969.2,1076.9 970.5,1078.4 971.8,1079.9 973.2,1081.4 974.5,1082.8 975.9,1084.3 977.3,1085.7 978.7,1087.2 980.1,1088.6 981.5,1090.0 982.9,1091.4 984.3,1092.8 985.8,1094.2 987.3,1095.5 988.8,1096.9 990.3,1098.2 991.8,1099.5 993.3,1100.7 994.9,1102.0 996.5,1103.2 998.1,1104.4 999.7,1105.6 1001.3,1106.8 1002.9,1107.9 1004.6,1109.0 1006.3,1110.1 1007.9,1111.2 1009.6,1112.3 1011.4,1113.3 1013.1,1114.3 1014.8,1115.3 1016.6,1116.2 1018.4,1117.1 1020.2,1118.0 1022.0,1118.8 1023.9,1119.6 1025.7,1120.3 1027.6,1121.0 1029.5,1121.6 1031.4,1122.1 1033.3,1122.7 1035.3,1123.1 1037.2,1123.6 1039.2,1123.9 1041.2,1124.3 1043.2,1124.6 1045.1,1124.8 1047.1,1125.0 1049.1,1125.1 1051.1,1125.2 1053.1,1125.2 1055.1,1125.2 1057.1,1125.2 1059.1,1125.1 1061.1,1125.0 1063.1,1124.8 1065.1,1124.5 1067.1,1124.2 1069.0,1123.9 1071.0,1123.5 1072.9,1123.1 1074.9,1122.6 1076.8,1122.1 1078.7,1121.6 1080.7,1121.0 1082.5,1120.3 1084.4,1119.7 1086.3,1118.9 1088.2,1118.2 1090.0,1117.4 1091.8,1116.6 1093.6,1115.8 1095.4,1114.9 1097.2,1113.9 1098.9,1113.0 1100.7,1112.0 1102.4,1111.0 1104.1,1109.9 1105.8,1108.8 1107.4,1107.7 1109.1,1106.6 1110.7,1105.4 1112.3,1104.3 1113.9,1103.1 1115.5,1101.9 1117.1,1100.6 1118.7,1099.4 1120.2,1098.1 1121.7,1096.8 1123.2,1095.5 1124.7,1094.1 1126.2,1092.8 1127.6,1091.4 1129.1,1090.0 1130.5,1088.6 1131.9,1087.2 1133.2,1085.7 1134.6,1084.3 1136.0,1082.8 1137.3,1081.3 1138.6,1079.8 1139.9,1078.3 1141.3,1076.8 1142.5,1075.3 1143.8,1073.7 1145.1,1072.2 1146.4,1070.7 1147.6,1069.1 1148.9,1067.5 1150.1,1066.0 1151.4,1064.4 1152.6,1062.8 1153.8,1061.3 1155.0,1059.7 1156.3,1058.1 1157.5,1056.5 1158.6,1054.9 1159.8,1053.3 1161.0,1051.6 1162.1,1050.0 1163.3,1048.4 1164.4,1046.7 1165.6,1045.1 1166.7,1043.4 1167.8,1041.8 1168.9,1040.1 1170.0,1038.5 1171.1,1036.8 1172.2,1035.1 1173.3,1033.4 1174.4,1031.7 1175.4,1030.0 1176.5,1028.3 1177.5,1026.6 1178.6,1024.9 1179.6,1023.2 1180.6,1021.5 1181.7,1019.8 1182.7,1018.1 1183.7,1016.3 1184.7,1014.6 1185.7,1012.9 1186.6,1011.1 1187.6,1009.4 1188.6,1007.6 1189.5,1005.9 1190.5,1004.1 1191.4,1002.3 1192.3,1000.6 1193.3,998.8 1194.2,997.0 1195.1,995.3 1196.0,993.5 1196.9,991.7 1197.8,989.9 1198.7,988.1 1199.6,986.3 1200.5,984.5 1201.3,982.7 1202.2,980.9 1203.1,979.1 1203.9,977.3 1204.8,975.5 1205.6,973.7 1206.5,971.9 1207.3,970.1 1208.2,968.3 1209.0,966.4 1209.8,964.6 1210.6,962.8 1211.5,961.0 1212.3,959.2 1213.1,957.3 1213.9,955.5 1214.7,953.7 1215.5,951.9 1216.3,950.0 1217.1,948.2 1217.9,946.3 1218.7,944.5 1219.5,942.7 1220.3,940.8 1221.0,939.0 1221.8,937.1 1222.6,935.3 1223.3,933.4 1224.1,931.6 1224.8,929.7 1225.6,927.9 1226.3,926.0 1227.1,924.2 1227.8,922.3 1228.5,920.5 1229.3,918.6 1230.0,916.7 1230.7,914.9 1231.4,913.0 1232.2,911.1 1232.9,909.3 1233.6,907.4 1234.3,905.5 1235.0,903.7 1235.7,901.8 1236.4,899.9 1237.1,898.0 1237.8,896.2 1238.4,894.3 1239.1,892.4 1239.8,890.5 1240.5,888.7 1241.2,886.8 1241.8,884.9 1242.5,883.0 1243.2,881.1 1243.8,879.2 1244.5,877.3 1245.1,875.5 1245.8,873.6 1246.4,871.7 1247.1,869.8 1247.7,867.9 1248.4,866.0 1249.0,864.1 1249.6,862.2 1250.2,860.3 1250.9,858.4 1251.5,856.5 1252.1,854.6 1252.7,852.7 1253.3,850.8 1253.9,848.9 1254.6,847.0 1255.2,845.1 1255.8,843.2 1256.4,841.3 1257.0,839.4 1257.6,837.5 1258.1,835.5 1258.7,833.6 1259.3,831.7 1259.9,829.8 1260.5,827.9 1261.1,826.0 1261.6,824.1 1262.2,822.2 1262.8,820.2 1263.4,818.3 1263.9,816.4 1264.5,814.5 1265.1,812.6 1265.6,810.7 1266.2,808.7 1266.7,806.8 1267.3,804.9 1267.8,803.0 1268.4,801.1 1269.0,799.1 1269.5,797.2 1270.0,795.3 1270.6,793.4 1271.1,791.4 1271.7,789.5 1272.2,787.6 1272.8,785.7 1273.3,783.7 1273.8,781.8 1274.4,779.9 1274.9,778.0 1275.4,776.0 1276.0,774.1 1276.5,772.2 1277.0,770.3 1277.5,768.3 1278.1,766.4 1278.6,764.5 1279.1,762.5 1279.6,760.6 1280.2,758.7 1280.7,756.8 1281.2,754.8 1281.7,752.9 1282.2,751.0 1282.7,749.0 1283.2,747.1 1283.7,745.2 1284.2,743.2 1284.7,741.3 1285.2,739.4 1285.7,737.4 1286.2,735.5 1286.7,733.5 1287.2,731.6 1287.7,729.7 1288.2,727.7 1288.7,725.8 1289.2,723.9 1289.7,721.9 1290.2,720.0 1290.6,718.0 1291.1,716.1 1291.6,714.2 1292.1,712.2 1292.6,710.3 1293.0,708.3 1293.5,706.4 1294.0,704.4 1294.4,702.5 1294.9,700.6 1295.4,698.6 1295.8,696.7 1296.3,694.7 1296.7,692.8 1297.2,690.8 1297.7,688.9 1298.1,686.9 1298.6,685.0 1299.0,683.0 1299.5,681.1 1299.9,679.1 1300.3,677.2 1300.8,675.3 1301.2,673.3 1301.7,671.4 1302.1,669.4 1302.5,667.4 1303.0,665.5 1303.4,663.5 1303.8,661.6 1304.3,659.6 1304.7,657.7 1305.1,655.7 1305.5,653.8 1305.9,651.8 1306.4,649.9 1306.8,647.9 1307.2,646.0 1307.6,644.0 1308.0,642.0 1308.4,640.1 1308.8,638.1 1309.2,636.2 1309.6,634.2 1310.0,632.3 1310.4,630.3 1310.8,628.3 1311.2,626.4 1311.6,624.4 1312.0,622.5 1312.4,620.5 1312.8,618.5 1313.1,616.6 1313.5,614.6 1313.9,612.6 1314.3,610.7 1314.7,608.7 1315.1,606.8 1315.4,604.8 1315.8,602.8 1316.2,600.9 1316.6,598.9 1316.9,596.9 1317.3,595.0 1317.7,593.0 1318.0,591.1 1318.4,589.1 1318.8,587.1 1319.1,585.2 1319.5,583.2 1319.9,581.2 1320.2,579.3 1320.6,577.3 1320.9,575.3 1321.3,573.4 1321.7,571.4 1322.0,569.4 1322.4,567.5 1322.7,565.5 1323.1,563.5 1323.4,561.6 1323.8,559.6 1324.1,557.6 1324.5,555.7 1324.8,553.7 1325.2,551.7 1325.5,549.8 1325.9,547.8 1326.2,545.8 1326.6,543.8 1326.9,541.9 1327.3,539.9 1327.6,537.9 1328.0,536.0 1328.3,534.0 1328.6,532.0 1329.0,530.1 1329.3,528.1 1329.7,526.1 1330.0,524.1 1330.3,522.2 1330.7,520.2 1331.0,518.2 1331.3,516.3 1331.7,514.3 1332.0,512.3 1332.3,510.4 1332.7,508.4 1333.0,506.4 1333.3,504.4 1333.6,502.5 1334.0,500.5 1334.3,498.5 1334.6,496.6 1335.0,494.6 1335.3,492.6 1335.6,490.6 1335.9,488.7 1336.2,486.7 1336.6,484.7 1336.9,482.7 1337.2,480.8 1337.5,478.8 1337.8,476.8 1338.1,474.8 1338.4,472.9 1338.7,470.9 1339.1,468.9 1339.4,466.9 1339.7,465.0 1340.0,463.0 1340.3,461.0 1340.6,459.0 1340.9,457.1 1341.2,455.1 1341.4,453.1 1341.7,451.1 1342.0,449.2 1342.3,447.2 1342.6,445.2 1342.9,443.2 1343.2,441.2 1343.5,439.3 1343.7,437.3 1344.0,435.3 1344.3,433.3 1344.6,431.3 1344.8,429.4 1345.1,427.4 1345.4,425.4 1345.7,423.4 1345.9,421.4 1346.2,419.5 1346.5,417.5 1346.7,415.5 1347.0,413.5 1347.2,411.5 1347.5,409.6 1347.8,407.6 1348.0,405.6 1348.3,403.6 1348.5,401.6 1348.8,399.6 1349.0,397.7 1349.3,395.7 1349.5,393.7 1349.7,391.7 1350.0,389.7 1350.2,387.7 1350.4,385.7 1350.7,383.8 1350.9,381.8 1351.1,379.8 1351.3,377.8 1351.5,375.8 1351.6,373.8 1351.8,371.8 1352.0,369.8 1352.2,367.8 1352.3,365.8 1352.5,363.9 1352.7,361.9 1352.9,359.9 1353.1,357.9 1353.3,355.9 1353.5,353.9 1353.7,351.9 1353.9,349.9 1354.1,347.9 1354.4,346.0 1354.6,344.0 1354.9,342.0 1355.2,340.0 1355.5,338.0 1355.8,336.1 1356.1,334.1 1356.5,332.1 1356.8,330.2 1357.1,328.2 1357.5,326.2 1357.8,324.2 1358.2,322.3 1358.5,320.3 1358.9,318.3 1359.2,316.4 1359.6,314.4 1359.9,312.4 1360.2,310.5 1360.6,308.5 1360.9,306.5 1361.2,304.6 1361.6,302.6 1361.9,300.6 1362.2,298.6 1362.5,296.7 1362.7,294.7 1363.0,292.7 1363.3,290.7 1363.6,288.7 1363.8,286.7 1364.1,284.8 1364.3,282.8 1364.6,280.8 1364.8,278.8 1365.1,276.8 1365.4,274.9 1365.6,272.9 1365.9,270.9 1366.2,268.9 1366.5,266.9 1366.8,265.0 1367.1,263.0 1367.4,261.0 1367.7,259.0 1368.1,257.1 1368.4,255.1 1368.7,253.1 1369.1,251.2 1369.4,249.2 1369.7,247.2 1370.0,245.2 1370.4,243.3 1370.7,241.3 1371.0,239.3 1371.3,237.3 1371.6,235.4 1371.9,233.4 1372.1,231.4 1372.4,229.4 1372.7,227.4 1372.9,225.5 1373.2,223.5 1373.5,221.5 1373.7,219.5 1374.0,217.5 1374.3,215.6 1374.5,213.6 1374.8,211.6 1375.1,209.6 1375.3,207.6 1375.6,205.7 1375.9,203.7 1376.2,201.7 1376.5,199.7 1376.8,197.7 1377.1,195.8 1377.4,193.8 1377.7,191.8 1378.0,189.9 1378.4,187.9 1378.8,185.9 1379.1,184.0 1379.5,182.0 1379.9,180.0 1380.3,178.1 1380.8,176.1 1381.2,174.2 1381.7,172.2 1382.1,170.3 1382.6,168.3 1383.1,166.4 1383.6,164.5 1384.1,162.5 1384.6,160.6 1385.1,158.7 1385.7,156.8 1386.3,154.8 1386.9,152.9 1387.5,151.1 1388.2,149.2 1389.0,147.3 1389.7,145.5 1390.5,143.6 1391.4,141.8 1392.3,140.1 1393.4,138.4 1394.8,136.9 1396.4,135.8 1398.4,135.7 1400.2,136.5 1401.7,137.8 1403.0,139.3 1404.1,141.0 1405.1,142.7 1406.1,144.4 1407.0,146.2 1408.0,148.0 1408.9,149.7 1409.8,151.5 1410.8,153.3 1411.7,155.0 1412.7,156.8 1413.8,158.5 1414.9,160.1 1416.0,161.8 1417.2,163.4 1418.4,165.0 1419.6,166.6 1420.9,168.1 1422.2,169.6 1423.6,171.1 1425.0,172.5 1426.5,173.8 1428.0,175.1 1429.6,176.4 1431.2,177.5 1432.9,178.5 1434.7,179.4 1436.6,180.0 1438.6,180.4 1440.6,180.5 1442.6,180.2 1444.5,179.7 1446.4,179.0 1448.2,178.1 1449.9,177.2 1451.6,176.1 1453.2,174.9 1454.8,173.7 1456.4,172.5 1457.9,171.2 1459.4,169.8 1460.8,168.4 1462.2,167.0 1463.5,165.5 1464.8,163.9 1466.0,162.4 1467.2,160.8 1468.4,159.2 1469.6,157.5 1470.7,155.9 1471.8,154.2 1472.9,152.6 1474.0,150.9 1475.1,149.2 1476.2,147.6 1477.3,145.9 1478.4,144.2 1479.5,142.6 1480.7,140.9 1481.8,139.3 1482.9,137.6 1484.1,136.0 1485.3,134.4 1486.5,132.8 1487.7,131.2 1488.9,129.6 1490.2,128.1 1491.5,126.5 1492.7,125.0 1494.0,123.4 1495.2,121.9 1496.5,120.3 1497.7,118.8 1499.0,117.2 1500.2,115.7 1501.5,114.1 1502.8,112.6 1504.1,111.1 1505.5,109.6 1506.8,108.1 1508.2,106.7 1509.7,105.3 1511.2,104.0 1512.7,102.8 1514.3,101.6 1516.0,100.5 1517.8,99.5 1519.6,98.7 1521.5,98.0 1523.4,97.5 1525.4,97.1 1527.3,96.9 1529.3,96.8 1531.3,96.8 1533.3,96.9 1535.3,97.2 1537.3,97.4 1539.3,97.8 1541.2,98.2 1543.2,98.6 1545.1,99.0 1547.1,99.4 1549.0,99.9 1551.0,100.4 1552.9,100.9 1554.8,101.4 1556.8,102.0 1558.6,102.6 1560.5,103.3 1562.4,104.0 1564.3,104.7 1566.1,105.4 1568.0,106.2 1569.8,106.9 1571.7,107.6 1573.6,108.2 1575.5,108.8 1577.5,109.3 1579.4,109.7 1581.4,110.1 1583.4,110.3 1585.4,110.5 1587.4,110.6 1589.4,110.6 1591.4,110.5 1593.4,110.4 1595.3,110.3 1597.3,110.1 1599.3,109.8 1601.3,109.6 1603.3,109.3 1605.2,108.9 1607.2,108.5 1609.2,108.1 1611.1,107.7 1613.1,107.2 1615.0,106.7 1616.9,106.2 1618.8,105.5 1620.7,104.9 1622.6,104.2 1624.5,103.5 1626.3,102.8 1628.2,102.1 1630.0,101.3 1631.9,100.6 1633.8,99.8 1635.6,99.1 1637.5,98.4 1639.4,97.8 1641.3,97.2 1643.2,96.6 1645.1,96.0 1647.0,95.5 1649.0,94.9 1650.9,94.4 1652.8,93.9 1654.8,93.4 1656.7,93.0 1658.7,92.6 1660.6,92.2 1662.6,91.8 1664.6,91.5 1666.5,91.2 1668.5,90.9 1670.5,90.7 1672.5,90.6 1674.5,90.5 1676.5,90.5 1678.5,90.6 1680.5,90.7 1682.5,90.9 1684.5,91.1 1686.5,91.3 1688.4,91.6 1690.4,91.9 1692.4,92.2 1694.4,92.6 1696.3,92.9 1698.3,93.3 1700.3,93.7 1702.2,94.0 1704.2,94.4 1706.2,94.7 1708.1,95.1 1710.1,95.5 1712.0,95.9 1714.0,96.3 1715.9,96.8 1717.9,97.2 1719.8,97.6 1721.8,98.1 1723.8,98.5 1725.7,98.9 1727.7,99.3 1729.6,99.6 1731.6,100.0 1733.6,100.3 1735.6,100.6 1737.5,100.8 1739.5,101.0 1741.5,101.3 1743.5,101.5 1745.5,101.6 1747.5,101.8 1749.5,101.9 1751.5,102.1 1753.5,102.2 1755.5,102.2 1757.5,102.3 1759.5,102.3 1761.5,102.3 1763.5,102.3 1765.5,102.2 1767.5,102.2 1769.5,102.0 1771.5,101.9 1773.4,101.7 1775.4,101.5 1777.4,101.2 1779.4,101.0 1781.4,100.7 1783.4,100.4 1785.3,100.1 1787.3,99.8 1789.3,99.5 1791.3,99.2 1793.2,98.9 1795.2,98.7 1797.2,98.4 1799.2,98.2 1801.2,97.9 1803.2,97.7 1805.1,97.5 1807.1,97.2 1809.1,97.0 1811.1,96.8 1813.1,96.5 1815.1,96.3 1817.1,96.1 1819.0,95.9 1821.0,95.7 1823.0,95.4 1825.0,95.2" stroke="#000099"/>
</g>
<path d="M733.5,361 L737.3,405 L741.1,361 M1522.3,676 L1526,710 L1529.7,676" fill="none" stroke="#cc0000" stroke-width="7.4" stroke-linejoin="miter" stroke-miterlimit="30"/>
<g fill="#cc0000"><circle cx="288.0" cy="509.5" r="10.3"/><circle cx="318.6" cy="313.5" r="10.3"/><circle cx="349.5" cy="251.4" r="10.3"/><circle cx="380.6" cy="260.5" r="10.3"/><circle cx="411.1" cy="357.2" r="10.3"/><circle cx="441.6" cy="627.5" r="10.3"/><circle cx="472.7" cy="330.2" r="10.3"/><circle cx="503.4" cy="219.7" r="10.3"/><circle cx="533.9" cy="206.2" r="10.3"/><circle cx="564.5" cy="287.5" r="10.3"/><circle cx="595.2" cy="711.8" r="10.3"/><circle cx="626.4" cy="199.3" r="10.3"/><circle cx="656.6" cy="118.4" r="10.3"/><circle cx="687.7" cy="110.3" r="10.3"/><circle cx="718.3" cy="177.0" r="10.3"/><circle cx="749.0" cy="188.5" r="10.3"/><circle cx="779.3" cy="77.6" r="10.3"/><circle cx="810.4" cy="70.4" r="10.3"/><circle cx="841.1" cy="70.4" r="10.3"/><circle cx="871.8" cy="71.4" r="10.3"/><circle cx="902.5" cy="72.5" r="10.3"/><circle cx="933.6" cy="73.3" r="10.3"/><circle cx="964.0" cy="74.0" r="10.3"/><circle cx="994.7" cy="74.4" r="10.3"/><circle cx="1025.8" cy="74.6" r="10.3"/><circle cx="1056.2" cy="74.6" r="10.3"/><circle cx="1086.5" cy="74.4" r="10.3"/><circle cx="1117.6" cy="73.6" r="10.3"/><circle cx="1148.3" cy="72.7" r="10.3"/><circle cx="1179.2" cy="71.6" r="10.3"/><circle cx="1209.7" cy="70.4" r="10.3"/><circle cx="1240.4" cy="69.7" r="10.3"/><circle cx="1271.2" cy="68.4" r="10.3"/><circle cx="1302.0" cy="68.4" r="10.3"/><circle cx="1333.0" cy="72.5" r="10.3"/><circle cx="1363.5" cy="110.3" r="10.3"/><circle cx="1394.2" cy="378.5" r="10.3"/><circle cx="1425.0" cy="164.0" r="10.3"/><circle cx="1455.6" cy="152.0" r="10.3"/><circle cx="1486.5" cy="225.0" r="10.3"/><circle cx="1517.4" cy="513.3" r="10.3"/><circle cx="1548.0" cy="436.3" r="10.3"/><circle cx="1578.8" cy="295.4" r="10.3"/><circle cx="1609.6" cy="293.5" r="10.3"/><circle cx="1640.2" cy="385.0" r="10.3"/><circle cx="1670.8" cy="638.0" r="10.3"/><circle cx="1701.5" cy="496.5" r="10.3"/><circle cx="1732.5" cy="370.5" r="10.3"/><circle cx="1763.0" cy="348.5" r="10.3"/><circle cx="1794.2" cy="399.0" r="10.3"/><circle cx="1824.5" cy="552.0" r="10.3"/></g>
<g fill="#009900"><path d="M291.2,41.9 l9.8,12.8 l-9.8,12.8 l-9.8,-12.8z"/><path d="M322.0,58.8 l9.8,12.8 l-9.8,12.8 l-9.8,-12.8z"/><path d="M352.7,68.0 l9.8,12.8 l-9.8,12.8 l-9.8,-12.8z"/><path d="M383.4,60.4 l9.8,12.8 l-9.8,12.8 l-9.8,-12.8z"/><path d="M414.0,41.0 l9.8,12.8 l-9.8,12.8 l-9.8,-12.8z"/><path d="M444.8,35.0 l9.8,12.8 l-9.8,12.8 l-9.8,-12.8z"/><path d="M475.5,55.2 l9.8,12.8 l-9.8,12.8 l-9.8,-12.8z"/><path d="M506.2,77.6 l9.8,12.8 l-9.8,12.8 l-9.8,-12.8z"/><path d="M537.0,77.2 l9.8,12.8 l-9.8,12.8 l-9.8,-12.8z"/><path d="M567.7,49.1 l9.8,12.8 l-9.8,12.8 l-9.8,-12.8z"/><path d="M598.4,39.1 l9.8,12.8 l-9.8,12.8 l-9.8,-12.8z"/><path d="M629.3,94.6 l9.8,12.8 l-9.8,12.8 l-9.8,-12.8z"/><path d="M659.8,146.0 l9.8,12.8 l-9.8,12.8 l-9.8,-12.8z"/><path d="M690.7,129.7 l9.8,12.8 l-9.8,12.8 l-9.8,-12.8z"/><path d="M721.5,41.7 l9.8,12.8 l-9.8,12.8 l-9.8,-12.8z"/><path d="M752.1,282.7 l9.8,12.8 l-9.8,12.8 l-9.8,-12.8z"/><path d="M783.0,507.2 l9.8,12.8 l-9.8,12.8 l-9.8,-12.8z"/><path d="M813.4,663.2 l9.8,12.8 l-9.8,12.8 l-9.8,-12.8z"/><path d="M844.0,780.2 l9.8,12.8 l-9.8,12.8 l-9.8,-12.8z"/><path d="M874.5,871.2 l9.8,12.8 l-9.8,12.8 l-9.8,-12.8z"/><path d="M905.6,943.2 l9.8,12.8 l-9.8,12.8 l-9.8,-12.8z"/><path d="M936.6,998.6 l9.8,12.8 l-9.8,12.8 l-9.8,-12.8z"/><path d="M967.3,1039.8 l9.8,12.8 l-9.8,12.8 l-9.8,-12.8z"/><path d="M998.0,1069.4 l9.8,12.8 l-9.8,12.8 l-9.8,-12.8z"/><path d="M1028.7,1086.2 l9.8,12.8 l-9.8,12.8 l-9.8,-12.8z"/><path d="M1059.4,1091.8 l9.8,12.8 l-9.8,12.8 l-9.8,-12.8z"/><path d="M1090.1,1088.6 l9.8,12.8 l-9.8,12.8 l-9.8,-12.8z"/><path d="M1120.8,1073.6 l9.8,12.8 l-9.8,12.8 l-9.8,-12.8z"/><path d="M1151.5,1047.1 l9.8,12.8 l-9.8,12.8 l-9.8,-12.8z"/><path d="M1182.3,1010.2 l9.8,12.8 l-9.8,12.8 l-9.8,-12.8z"/><path d="M1213.0,959.0 l9.8,12.8 l-9.8,12.8 l-9.8,-12.8z"/><path d="M1244.0,892.7 l9.8,12.8 l-9.8,12.8 l-9.8,-12.8z"/><path d="M1274.7,809.2 l9.8,12.8 l-9.8,12.8 l-9.8,-12.8z"/><path d="M1306.0,703.5 l9.8,12.8 l-9.8,12.8 l-9.8,-12.8z"/><path d="M1336.0,567.1 l9.8,12.8 l-9.8,12.8 l-9.8,-12.8z"/><path d="M1367.0,381.3 l9.8,12.8 l-9.8,12.8 l-9.8,-12.8z"/><path d="M1397.7,121.2 l9.8,12.8 l-9.8,12.8 l-9.8,-12.8z"/><path d="M1428.5,71.1 l9.8,12.8 l-9.8,12.8 l-9.8,-12.8z"/><path d="M1459.0,129.2 l9.8,12.8 l-9.8,12.8 l-9.8,-12.8z"/><path d="M1489.8,109.7 l9.8,12.8 l-9.8,12.8 l-9.8,-12.8z"/><path d="M1520.5,57.2 l9.8,12.8 l-9.8,12.8 l-9.8,-12.8z"/><path d="M1551.2,35.7 l9.8,12.8 l-9.8,12.8 l-9.8,-12.8z"/><path d="M1582.1,54.0 l9.8,12.8 l-9.8,12.8 l-9.8,-12.8z"/><path d="M1612.4,65.9 l9.8,12.8 l-9.8,12.8 l-9.8,-12.8z"/><path d="M1643.5,58.6 l9.8,12.8 l-9.8,12.8 l-9.8,-12.8z"/><path d="M1674.2,41.5 l9.8,12.8 l-9.8,12.8 l-9.8,-12.8z"/><path d="M1705.0,34.1 l9.8,12.8 l-9.8,12.8 l-9.8,-12.8z"/><path d="M1735.7,42.1 l9.8,12.8 l-9.8,12.8 l-9.8,-12.8z"/><path d="M1766.4,51.1 l9.8,12.8 l-9.8,12.8 l-9.8,-12.8z"/><path d="M1797.1,52.2 l9.8,12.8 l-9.8,12.8 l-9.8,-12.8z"/></g>
<g fill="#000099"><rect x="281.2" y="71.1" width="20.8" height="20.8"/><rect x="311.6" y="83.0" width="20.8" height="20.8"/><rect x="342.1" y="93.2" width="20.8" height="20.8"/><rect x="373.1" y="92.0" width="20.8" height="20.8"/><rect x="403.6" y="79.0" width="20.8" height="20.8"/><rect x="434.2" y="71.4" width="20.8" height="20.8"/><rect x="465.1" y="85.0" width="20.8" height="20.8"/><rect x="496.2" y="108.0" width="20.8" height="20.8"/><rect x="526.6" y="115.0" width="20.8" height="20.8"/><rect x="557.2" y="95.9" width="20.8" height="20.8"/><rect x="588.0" y="82.5" width="20.8" height="20.8"/><rect x="619.0" y="135.1" width="20.8" height="20.8"/><rect x="649.6" y="204.8" width="20.8" height="20.8"/><rect x="679.9" y="226.0" width="20.8" height="20.8"/><rect x="711.1" y="161.9" width="20.8" height="20.8"/><rect x="742.0" y="214.0" width="20.8" height="20.8"/><rect x="772.6" y="472.6" width="20.8" height="20.8"/><rect x="803.0" y="654.2" width="20.8" height="20.8"/><rect x="834.2" y="785.6" width="20.8" height="20.8"/><rect x="864.6" y="885.0" width="20.8" height="20.8"/><rect x="895.1" y="962.0" width="20.8" height="20.8"/><rect x="926.0" y="1021.1" width="20.8" height="20.8"/><rect x="957.1" y="1064.6" width="20.8" height="20.8"/><rect x="987.4" y="1093.9" width="20.8" height="20.8"/><rect x="1018.1" y="1111.0" width="20.8" height="20.8"/><rect x="1049.2" y="1114.8" width="20.8" height="20.8"/><rect x="1079.9" y="1107.0" width="20.8" height="20.8"/><rect x="1110.6" y="1087.1" width="20.8" height="20.8"/><rect x="1141.1" y="1053.9" width="20.8" height="20.8"/><rect x="1172.1" y="1008.0" width="20.8" height="20.8"/><rect x="1202.6" y="947.2" width="20.8" height="20.8"/><rect x="1233.3" y="869.2" width="20.8" height="20.8"/><rect x="1264.0" y="769.4" width="20.8" height="20.8"/><rect x="1295.0" y="644.0" width="20.8" height="20.8"/><rect x="1325.6" y="477.8" width="20.8" height="20.8"/><rect x="1356.0" y="257.0" width="20.8" height="20.8"/><rect x="1387.3" y="123.1" width="20.8" height="20.8"/><rect x="1418.0" y="165.3" width="20.8" height="20.8"/><rect x="1448.7" y="159.9" width="20.8" height="20.8"/><rect x="1479.1" y="118.5" width="20.8" height="20.8"/><rect x="1510.0" y="87.5" width="20.8" height="20.8"/><rect x="1541.1" y="90.0" width="20.8" height="20.8"/><rect x="1571.7" y="100.0" width="20.8" height="20.8"/><rect x="1602.0" y="97.1" width="20.8" height="20.8"/><rect x="1633.1" y="86.0" width="20.8" height="20.8"/><rect x="1663.5" y="80.0" width="20.8" height="20.8"/><rect x="1694.0" y="84.0" width="20.8" height="20.8"/><rect x="1725.0" y="90.2" width="20.8" height="20.8"/><rect x="1756.0" y="91.9" width="20.8" height="20.8"/><rect x="1786.7" y="88.0" width="20.8" height="20.8"/></g>
<rect x="783" y="159" width="547" height="377" fill="#fff" stroke="#262626" stroke-width="3.2"/>
<path d="M806,216.0 H922" stroke="#000" stroke-width="7.8"/>
<text font-size="73.67" x="942.50" y="237.00" textLength="12.01" lengthAdjust="spacingAndGlyphs">|</text>
<text font-style="italic" font-size="71.70" x="959.76" y="235.80" textLength="41.70" lengthAdjust="spacingAndGlyphs">S</text>
<text font-size="47.27" x="999.17" y="247.20" textLength="52.10" lengthAdjust="spacingAndGlyphs">11</text>
<text font-size="73.67" x="1059.50" y="237.00" textLength="12.01" lengthAdjust="spacingAndGlyphs">|</text>
<text font-size="69.13" x="1096.81" y="235.80" textLength="200.55" lengthAdjust="spacingAndGlyphs">ESICL</text>
<path d="M806,304.0 H922" stroke="#cc0000" stroke-width="7.8"/>
<circle cx="864.1" cy="304.0" r="10.6" fill="#cc0000"/>
<text font-size="73.67" x="942.50" y="325.00" textLength="12.01" lengthAdjust="spacingAndGlyphs">|</text>
<text font-style="italic" font-size="71.70" x="959.76" y="323.80" textLength="41.70" lengthAdjust="spacingAndGlyphs">S</text>
<text font-size="47.27" x="999.17" y="335.20" textLength="52.10" lengthAdjust="spacingAndGlyphs">11</text>
<text font-size="73.67" x="1059.50" y="325.00" textLength="12.01" lengthAdjust="spacingAndGlyphs">|</text>
<text font-style="italic" font-size="66.30" x="1098.70" y="323.80" textLength="40.05" lengthAdjust="spacingAndGlyphs">μ</text>
<text font-size="62.64" x="1136.08" y="323.80" textLength="138.46" lengthAdjust="spacingAndGlyphs">strip</text>
<path d="M806,392.0 H922" stroke="#009900" stroke-width="7.8"/>
<path d="M864.1,379.1 l7.3,12.95 l-7.3,12.95 l-7.3,-12.95z" fill="#009900"/>
<text font-size="73.67" x="942.50" y="413.00" textLength="12.01" lengthAdjust="spacingAndGlyphs">|</text>
<text font-style="italic" font-size="71.70" x="959.76" y="411.80" textLength="41.70" lengthAdjust="spacingAndGlyphs">S</text>
<text font-size="47.09" x="999.82" y="423.20" textLength="51.25" lengthAdjust="spacingAndGlyphs">21</text>
<text font-size="73.67" x="1059.50" y="413.00" textLength="12.01" lengthAdjust="spacingAndGlyphs">|</text>
<text font-size="69.13" x="1096.81" y="411.80" textLength="200.55" lengthAdjust="spacingAndGlyphs">ESICL</text>
<path d="M806,479.6 H922" stroke="#000099" stroke-width="7.8"/>
<rect x="853.9" y="469.2" width="20.8" height="20.8" fill="#000099"/>
<text font-size="73.67" x="942.50" y="501.00" textLength="12.01" lengthAdjust="spacingAndGlyphs">|</text>
<text font-style="italic" font-size="71.70" x="959.76" y="499.80" textLength="41.70" lengthAdjust="spacingAndGlyphs">S</text>
<text font-size="47.09" x="999.82" y="511.20" textLength="51.25" lengthAdjust="spacingAndGlyphs">21</text>
<text font-size="73.67" x="1059.50" y="501.00" textLength="12.01" lengthAdjust="spacingAndGlyphs">|</text>
<text font-style="italic" font-size="66.30" x="1098.70" y="499.80" textLength="40.05" lengthAdjust="spacingAndGlyphs">μ</text>
<text font-size="62.64" x="1136.08" y="499.80" textLength="138.46" lengthAdjust="spacingAndGlyphs">strip</text>
<text font-size="67.82" x="271.53" y="1262.00" textLength="32.94" lengthAdjust="spacingAndGlyphs">8</text>
<text font-size="68.08" x="528.04" y="1262.00" textLength="32.75" lengthAdjust="spacingAndGlyphs">9</text>
<text font-size="67.82" x="766.98" y="1262.00" textLength="66.86" lengthAdjust="spacingAndGlyphs">10</text>
<text font-size="68.33" x="1022.72" y="1262.00" textLength="69.12" lengthAdjust="spacingAndGlyphs">11</text>
<text font-size="68.08" x="1279.20" y="1262.00" textLength="68.22" lengthAdjust="spacingAndGlyphs">12</text>
<text font-size="68.08" x="1535.47" y="1262.00" textLength="67.05" lengthAdjust="spacingAndGlyphs">13</text>
<text font-size="68.33" x="1791.80" y="1262.00" textLength="65.18" lengthAdjust="spacingAndGlyphs">14</text>
<text font-size="68.57" x="229.44" y="64.30" textLength="34.12" lengthAdjust="spacingAndGlyphs">0</text>
<text font-size="68.42" x="197.20" y="349.10" textLength="66.29" lengthAdjust="spacingAndGlyphs">10</text>
<text font-size="60.00" x="145.70" y="352.45" textLength="49.61" lengthAdjust="spacingAndGlyphs">−</text>
<text font-size="68.42" x="197.18" y="637.30" textLength="66.30" lengthAdjust="spacingAndGlyphs">20</text>
<text font-size="60.00" x="145.70" y="640.65" textLength="49.61" lengthAdjust="spacingAndGlyphs">−</text>
<text font-size="68.42" x="196.83" y="925.50" textLength="66.67" lengthAdjust="spacingAndGlyphs">30</text>
<text font-size="60.00" x="145.70" y="928.85" textLength="49.61" lengthAdjust="spacingAndGlyphs">−</text>
<text font-size="68.42" x="197.68" y="1213.70" textLength="65.78" lengthAdjust="spacingAndGlyphs">40</text>
<text font-size="60.00" x="145.70" y="1217.05" textLength="49.61" lengthAdjust="spacingAndGlyphs">−</text>
<text font-size="70.00" x="800.81" y="1370.00" textLength="507.26" lengthAdjust="spacingAndGlyphs">Frequency (GHz)</text>
<text font-size="70.00" transform="translate(69.50,0.00) rotate(-90)" x="-1028.79" y="0" textLength="816.18" lengthAdjust="spacingAndGlyphs">Scattering Parameters (dB)</text>
</svg></body></html>
